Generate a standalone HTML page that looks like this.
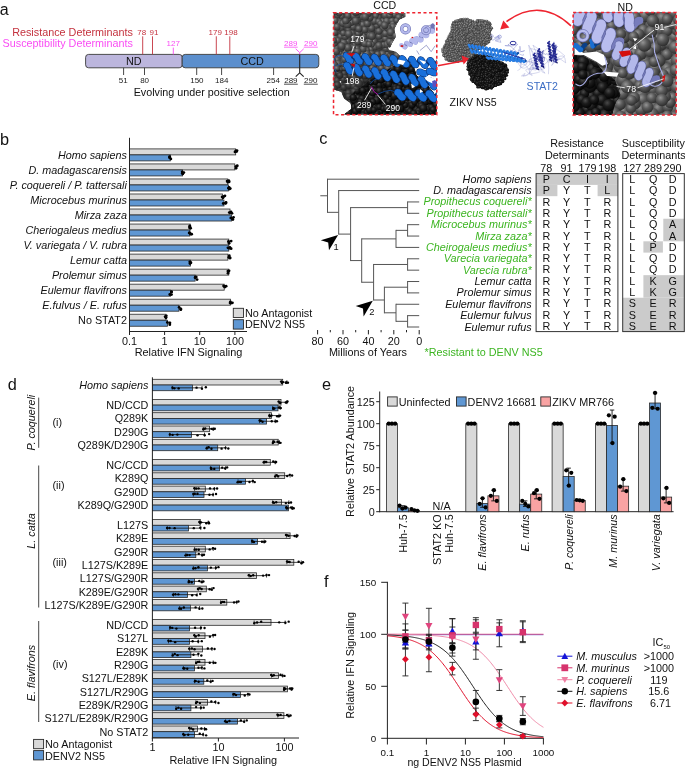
<!DOCTYPE html>
<html><head><meta charset="utf-8"><title>Figure</title>
<style>
html,body{margin:0;padding:0;background:#fff;}
body{width:685px;height:770px;overflow:hidden;font-family:"Liberation Sans",sans-serif;}
svg{display:block;font-family:"Liberation Sans",sans-serif;opacity:0.999;will-change:transform;}
</style></head><body>
<svg width="685" height="770" viewBox="0 0 685 770">
<rect x="0" y="0" width="685" height="770" fill="#ffffff"/>
<defs>
<radialGradient id="gs" cx="0.38" cy="0.32" r="0.75"><stop offset="0" stop-color="#888"/><stop offset="0.4" stop-color="#525252"/><stop offset="1" stop-color="#262626"/></radialGradient>
<radialGradient id="gs3" cx="0.38" cy="0.32" r="0.75"><stop offset="0" stop-color="#949494"/><stop offset="0.4" stop-color="#5c5c5c"/><stop offset="1" stop-color="#262626"/></radialGradient>
<radialGradient id="bs" cx="0.38" cy="0.32" r="0.75"><stop offset="0" stop-color="#4a4a4a"/><stop offset="0.4" stop-color="#1c1c1c"/><stop offset="1" stop-color="#000"/></radialGradient>
<radialGradient id="gs2" cx="0.38" cy="0.32" r="0.75"><stop offset="0" stop-color="#969696"/><stop offset="0.5" stop-color="#5c5c5c"/><stop offset="1" stop-color="#2e2e2e"/></radialGradient>
</defs>
<g transform="translate(330,8) scale(0.16059)">
<clipPath id="boxA"><rect x="22" y="30" width="643" height="635"/></clipPath>
<g clip-path="url(#boxA)">
<clipPath id="cp1"><polygon points="22,30 470,30 470,55 432,72 416,100 400,130 410,180 388,215 372,250 405,270 440,300 440,350 330,400 290,440 220,500 170,560 140,635 127,591 89,565 70,521 22,508"/></clipPath>
<g clip-path="url(#cp1)"><polygon points="22,30 470,30 470,55 432,72 416,100 400,130 410,180 388,215 372,250 405,270 440,300 440,350 330,400 290,440 220,500 170,560 140,635 127,591 89,565 70,521 22,508" fill="#3c3c3c"/>
<circle cx="244" cy="333" r="20" fill="url(#gs)"/>
<circle cx="145" cy="118" r="22" fill="url(#gs)"/>
<circle cx="64" cy="279" r="22" fill="url(#gs)"/>
<circle cx="348" cy="183" r="18" fill="url(#gs)"/>
<circle cx="275" cy="210" r="21" fill="url(#gs)"/>
<circle cx="355" cy="288" r="23" fill="url(#gs)"/>
<circle cx="52" cy="314" r="24" fill="url(#gs)"/>
<circle cx="117" cy="310" r="22" fill="url(#gs)"/>
<circle cx="152" cy="228" r="21" fill="url(#gs)"/>
<circle cx="374" cy="111" r="20" fill="url(#gs)"/>
<circle cx="256" cy="258" r="19" fill="url(#gs)"/>
<circle cx="85" cy="120" r="21" fill="url(#gs)"/>
<circle cx="24" cy="302" r="23" fill="url(#gs)"/>
<circle cx="45" cy="157" r="23" fill="url(#gs)"/>
<circle cx="203" cy="453" r="20" fill="url(#gs)"/>
<circle cx="21" cy="109" r="18" fill="url(#gs)"/>
<circle cx="123" cy="233" r="20" fill="url(#gs)"/>
<circle cx="260" cy="287" r="21" fill="url(#gs)"/>
<circle cx="67" cy="123" r="23" fill="url(#gs)"/>
<circle cx="179" cy="18" r="22" fill="url(#gs)"/>
<circle cx="133" cy="92" r="20" fill="url(#gs)"/>
<circle cx="291" cy="123" r="20" fill="url(#gs)"/>
<circle cx="145" cy="197" r="23" fill="url(#gs)"/>
<circle cx="211" cy="176" r="24" fill="url(#gs)"/>
<circle cx="248" cy="370" r="19" fill="url(#gs)"/>
<circle cx="303" cy="61" r="19" fill="url(#gs)"/>
<circle cx="338" cy="364" r="22" fill="url(#gs)"/>
<circle cx="289" cy="32" r="19" fill="url(#gs)"/>
<circle cx="70" cy="338" r="21" fill="url(#gs)"/>
<circle cx="16" cy="47" r="23" fill="url(#gs)"/>
<circle cx="364" cy="328" r="23" fill="url(#gs)"/>
<circle cx="188" cy="151" r="21" fill="url(#gs)"/>
<circle cx="330" cy="85" r="23" fill="url(#gs)"/>
<circle cx="396" cy="309" r="23" fill="url(#gs)"/>
<circle cx="63" cy="85" r="24" fill="url(#gs)"/>
<circle cx="328" cy="25" r="19" fill="url(#gs)"/>
<circle cx="281" cy="306" r="18" fill="url(#gs)"/>
<circle cx="281" cy="244" r="19" fill="url(#gs)"/>
<circle cx="360" cy="19" r="22" fill="url(#gs)"/>
<circle cx="72" cy="53" r="19" fill="url(#gs)"/>
<circle cx="18" cy="33" r="22" fill="url(#gs)"/>
<circle cx="72" cy="474" r="24" fill="url(#gs)"/>
<circle cx="147" cy="51" r="21" fill="url(#gs)"/>
<circle cx="349" cy="254" r="21" fill="url(#gs)"/>
<circle cx="228" cy="415" r="20" fill="url(#gs)"/>
<circle cx="208" cy="287" r="23" fill="url(#gs)"/>
<circle cx="302" cy="381" r="19" fill="url(#gs)"/>
<circle cx="320" cy="180" r="24" fill="url(#gs)"/>
<circle cx="58" cy="384" r="24" fill="url(#gs)"/>
<circle cx="402" cy="260" r="18" fill="url(#gs)"/>
<circle cx="230" cy="263" r="18" fill="url(#gs)"/>
<circle cx="318" cy="195" r="20" fill="url(#gs)"/>
<circle cx="387" cy="271" r="22" fill="url(#gs)"/>
<circle cx="181" cy="181" r="18" fill="url(#gs)"/>
<circle cx="129" cy="464" r="21" fill="url(#gs)"/>
<circle cx="248" cy="101" r="23" fill="url(#gs)"/>
<circle cx="161" cy="552" r="24" fill="url(#gs)"/>
<circle cx="247" cy="359" r="22" fill="url(#gs)"/>
<circle cx="235" cy="10" r="22" fill="url(#gs)"/>
<circle cx="309" cy="245" r="19" fill="url(#gs)"/>
<circle cx="92" cy="274" r="22" fill="url(#gs)"/>
<circle cx="31" cy="411" r="20" fill="url(#gs)"/>
<circle cx="144" cy="409" r="22" fill="url(#gs)"/>
<circle cx="203" cy="489" r="21" fill="url(#gs)"/>
<circle cx="345" cy="47" r="23" fill="url(#gs)"/>
<circle cx="147" cy="357" r="23" fill="url(#gs)"/>
<circle cx="97" cy="474" r="18" fill="url(#gs)"/>
<circle cx="48" cy="47" r="18" fill="url(#gs)"/>
<circle cx="91" cy="533" r="18" fill="url(#gs)"/>
<circle cx="184" cy="218" r="22" fill="url(#gs)"/>
<circle cx="129" cy="579" r="22" fill="url(#gs)"/>
<circle cx="168" cy="254" r="20" fill="url(#gs)"/>
<circle cx="14" cy="459" r="22" fill="url(#gs)"/>
<circle cx="9" cy="228" r="21" fill="url(#gs)"/>
<circle cx="422" cy="100" r="22" fill="url(#gs)"/>
<circle cx="85" cy="298" r="19" fill="url(#gs)"/>
<circle cx="147" cy="566" r="21" fill="url(#gs)"/>
<circle cx="114" cy="187" r="21" fill="url(#gs)"/>
<circle cx="223" cy="445" r="20" fill="url(#gs)"/>
<circle cx="46" cy="325" r="21" fill="url(#gs)"/>
<circle cx="291" cy="110" r="20" fill="url(#gs)"/>
<circle cx="99" cy="404" r="20" fill="url(#gs)"/>
<circle cx="313" cy="295" r="18" fill="url(#gs)"/>
<circle cx="435" cy="358" r="23" fill="url(#gs)"/>
<circle cx="403" cy="363" r="20" fill="url(#gs)"/>
<circle cx="319" cy="396" r="20" fill="url(#gs)"/>
<circle cx="88" cy="576" r="22" fill="url(#gs)"/>
<circle cx="114" cy="134" r="19" fill="url(#gs)"/>
<circle cx="370" cy="355" r="22" fill="url(#gs)"/>
<circle cx="201" cy="297" r="19" fill="url(#gs)"/>
<circle cx="52" cy="348" r="23" fill="url(#gs)"/>
<circle cx="74" cy="206" r="22" fill="url(#gs)"/>
<circle cx="285" cy="50" r="19" fill="url(#gs)"/>
<circle cx="413" cy="273" r="18" fill="url(#gs)"/>
<circle cx="233" cy="127" r="19" fill="url(#gs)"/>
<circle cx="167" cy="458" r="23" fill="url(#gs)"/>
<circle cx="354" cy="83" r="23" fill="url(#gs)"/>
<circle cx="277" cy="82" r="22" fill="url(#gs)"/>
<circle cx="275" cy="424" r="22" fill="url(#gs)"/>
<circle cx="445" cy="87" r="23" fill="url(#gs)"/>
<circle cx="235" cy="211" r="19" fill="url(#gs)"/>
<circle cx="345" cy="397" r="21" fill="url(#gs)"/>
<circle cx="27" cy="251" r="22" fill="url(#gs)"/>
<circle cx="175" cy="160" r="20" fill="url(#gs)"/>
<circle cx="453" cy="60" r="19" fill="url(#gs)"/>
<circle cx="249" cy="207" r="19" fill="url(#gs)"/>
<circle cx="379" cy="255" r="24" fill="url(#gs)"/>
<circle cx="386" cy="79" r="20" fill="url(#gs)"/>
<circle cx="214" cy="320" r="20" fill="url(#gs)"/>
<circle cx="303" cy="85" r="20" fill="url(#gs)"/>
<circle cx="102" cy="24" r="24" fill="url(#gs)"/>
<circle cx="57" cy="32" r="20" fill="url(#gs)"/>
<circle cx="286" cy="457" r="18" fill="url(#gs)"/>
<circle cx="10" cy="380" r="22" fill="url(#gs)"/>
<circle cx="110" cy="210" r="22" fill="url(#gs)"/>
<circle cx="215" cy="73" r="24" fill="url(#gs)"/>
<circle cx="239" cy="420" r="24" fill="url(#gs)"/>
<circle cx="327" cy="287" r="22" fill="url(#gs)"/>
<circle cx="334" cy="231" r="20" fill="url(#gs)"/>
<circle cx="460" cy="309" r="19" fill="url(#gs)"/>
<circle cx="261" cy="326" r="22" fill="url(#gs)"/>
<circle cx="392" cy="101" r="20" fill="url(#gs)"/>
<circle cx="122" cy="375" r="24" fill="url(#gs)"/>
<circle cx="245" cy="295" r="20" fill="url(#gs)"/>
<circle cx="152" cy="333" r="20" fill="url(#gs)"/>
<circle cx="108" cy="498" r="20" fill="url(#gs)"/>
<circle cx="192" cy="211" r="19" fill="url(#gs)"/>
<circle cx="439" cy="34" r="19" fill="url(#gs)"/>
<circle cx="258" cy="465" r="23" fill="url(#gs)"/>
<circle cx="139" cy="499" r="21" fill="url(#gs)"/>
<circle cx="367" cy="303" r="19" fill="url(#gs)"/>
<circle cx="241" cy="482" r="20" fill="url(#gs)"/>
<circle cx="393" cy="119" r="24" fill="url(#gs)"/>
<circle cx="90" cy="408" r="19" fill="url(#gs)"/>
<circle cx="278" cy="349" r="23" fill="url(#gs)"/>
<circle cx="92" cy="373" r="19" fill="url(#gs)"/>
<circle cx="312" cy="360" r="20" fill="url(#gs)"/>
<circle cx="230" cy="152" r="18" fill="url(#gs)"/>
<circle cx="230" cy="288" r="24" fill="url(#gs)"/>
<circle cx="262" cy="228" r="18" fill="url(#gs)"/>
<circle cx="202" cy="379" r="22" fill="url(#gs)"/>
<circle cx="276" cy="149" r="23" fill="url(#gs)"/>
<circle cx="231" cy="78" r="22" fill="url(#gs)"/>
<circle cx="345" cy="193" r="19" fill="url(#gs)"/>
<circle cx="56" cy="92" r="22" fill="url(#gs)"/>
<circle cx="187" cy="320" r="19" fill="url(#gs)"/>
<circle cx="172" cy="79" r="21" fill="url(#gs)"/>
<circle cx="204" cy="105" r="21" fill="url(#gs)"/>
<circle cx="295" cy="321" r="22" fill="url(#gs)"/>
<circle cx="86" cy="219" r="24" fill="url(#gs)"/>
<circle cx="217" cy="136" r="22" fill="url(#gs)"/>
<circle cx="139" cy="158" r="20" fill="url(#gs)"/>
<circle cx="56" cy="503" r="22" fill="url(#gs)"/>
<circle cx="185" cy="385" r="19" fill="url(#gs)"/>
<circle cx="409" cy="36" r="23" fill="url(#gs)"/>
<circle cx="208" cy="525" r="18" fill="url(#gs)"/>
<circle cx="262" cy="374" r="19" fill="url(#gs)"/>
<circle cx="30" cy="437" r="20" fill="url(#gs)"/>
<circle cx="199" cy="496" r="22" fill="url(#gs)"/>
<circle cx="174" cy="45" r="19" fill="url(#gs)"/>
<circle cx="88" cy="350" r="18" fill="url(#gs)"/>
<circle cx="235" cy="312" r="23" fill="url(#gs)"/>
<circle cx="314" cy="98" r="19" fill="url(#gs)"/>
<circle cx="5" cy="185" r="24" fill="url(#gs)"/>
<circle cx="403" cy="43" r="19" fill="url(#gs)"/>
<circle cx="167" cy="607" r="23" fill="url(#gs)"/>
<circle cx="141" cy="250" r="22" fill="url(#gs)"/>
<circle cx="233" cy="346" r="22" fill="url(#gs)"/>
<circle cx="469" cy="33" r="22" fill="url(#gs)"/>
<circle cx="331" cy="128" r="22" fill="url(#gs)"/>
<circle cx="33" cy="21" r="20" fill="url(#gs)"/>
<circle cx="206" cy="256" r="22" fill="url(#gs)"/>
<circle cx="391" cy="203" r="23" fill="url(#gs)"/>
<circle cx="297" cy="288" r="19" fill="url(#gs)"/>
<circle cx="161" cy="26" r="24" fill="url(#gs)"/>
<circle cx="191" cy="412" r="21" fill="url(#gs)"/>
<circle cx="215" cy="425" r="21" fill="url(#gs)"/>
<circle cx="171" cy="96" r="19" fill="url(#gs)"/>
<circle cx="148" cy="269" r="19" fill="url(#gs)"/>
<circle cx="260" cy="144" r="23" fill="url(#gs)"/>
<circle cx="182" cy="526" r="20" fill="url(#gs)"/>
<circle cx="259" cy="127" r="22" fill="url(#gs)"/>
<circle cx="102" cy="448" r="20" fill="url(#gs)"/>
<circle cx="233" cy="98" r="22" fill="url(#gs)"/>
<circle cx="346" cy="159" r="22" fill="url(#gs)"/>
<circle cx="158" cy="355" r="23" fill="url(#gs)"/>
<circle cx="135" cy="610" r="23" fill="url(#gs)"/>
<circle cx="218" cy="515" r="22" fill="url(#gs)"/>
<circle cx="248" cy="173" r="21" fill="url(#gs)"/>
<circle cx="86" cy="496" r="19" fill="url(#gs)"/>
<circle cx="14" cy="326" r="22" fill="url(#gs)"/>
<circle cx="358" cy="228" r="24" fill="url(#gs)"/>
<circle cx="180" cy="130" r="22" fill="url(#gs)"/>
<circle cx="80" cy="96" r="22" fill="url(#gs)"/>
<circle cx="118" cy="482" r="22" fill="url(#gs)"/>
<circle cx="31" cy="185" r="24" fill="url(#gs)"/>
<circle cx="135" cy="299" r="22" fill="url(#gs)"/>
<circle cx="255" cy="398" r="23" fill="url(#gs)"/>
<circle cx="127" cy="422" r="20" fill="url(#gs)"/>
<circle cx="31" cy="152" r="22" fill="url(#gs)"/>
<circle cx="44" cy="118" r="22" fill="url(#gs)"/>
<circle cx="8" cy="473" r="22" fill="url(#gs)"/>
<circle cx="419" cy="296" r="23" fill="url(#gs)"/>
<circle cx="391" cy="379" r="19" fill="url(#gs)"/>
<circle cx="476" cy="47" r="21" fill="url(#gs)"/>
<circle cx="82" cy="547" r="18" fill="url(#gs)"/>
<circle cx="42" cy="250" r="21" fill="url(#gs)"/>
<circle cx="374" cy="211" r="24" fill="url(#gs)"/>
<circle cx="378" cy="172" r="22" fill="url(#gs)"/>
<circle cx="306" cy="177" r="20" fill="url(#gs)"/>
<circle cx="418" cy="120" r="21" fill="url(#gs)"/>
<circle cx="109" cy="104" r="24" fill="url(#gs)"/>
<circle cx="216" cy="22" r="18" fill="url(#gs)"/>
<circle cx="429" cy="59" r="22" fill="url(#gs)"/>
<circle cx="39" cy="270" r="24" fill="url(#gs)"/>
<circle cx="217" cy="222" r="21" fill="url(#gs)"/>
<circle cx="116" cy="67" r="18" fill="url(#gs)"/>
<circle cx="415" cy="79" r="18" fill="url(#gs)"/>
<circle cx="261" cy="21" r="18" fill="url(#gs)"/>
<circle cx="29" cy="222" r="19" fill="url(#gs)"/>
<circle cx="152" cy="439" r="23" fill="url(#gs)"/>
<circle cx="125" cy="274" r="22" fill="url(#gs)"/>
<circle cx="150" cy="184" r="21" fill="url(#gs)"/>
<circle cx="361" cy="125" r="23" fill="url(#gs)"/>
<circle cx="45" cy="453" r="23" fill="url(#gs)"/>
<circle cx="168" cy="306" r="22" fill="url(#gs)"/>
<circle cx="244" cy="226" r="19" fill="url(#gs)"/>
<circle cx="320" cy="375" r="19" fill="url(#gs)"/>
<circle cx="440" cy="326" r="20" fill="url(#gs)"/>
<circle cx="7" cy="119" r="18" fill="url(#gs)"/>
<circle cx="116" cy="530" r="21" fill="url(#gs)"/>
<circle cx="66" cy="179" r="19" fill="url(#gs)"/>
<circle cx="361" cy="376" r="21" fill="url(#gs)"/>
<circle cx="144" cy="376" r="19" fill="url(#gs)"/>
<circle cx="111" cy="49" r="21" fill="url(#gs)"/>
<circle cx="173" cy="211" r="20" fill="url(#gs)"/>
<circle cx="95" cy="178" r="22" fill="url(#gs)"/>
<circle cx="94" cy="434" r="20" fill="url(#gs)"/>
<circle cx="83" cy="157" r="19" fill="url(#gs)"/>
<circle cx="131" cy="16" r="19" fill="url(#gs)"/>
<circle cx="372" cy="47" r="19" fill="url(#gs)"/>
<circle cx="160" cy="398" r="20" fill="url(#gs)"/>
<circle cx="149" cy="489" r="20" fill="url(#gs)"/>
<circle cx="46" cy="481" r="22" fill="url(#gs)"/>
<circle cx="341" cy="109" r="23" fill="url(#gs)"/>
<circle cx="181" cy="473" r="24" fill="url(#gs)"/>
<circle cx="34" cy="78" r="19" fill="url(#gs)"/>
<circle cx="82" cy="447" r="19" fill="url(#gs)"/>
<circle cx="28" cy="355" r="23" fill="url(#gs)"/>
<circle cx="162" cy="507" r="20" fill="url(#gs)"/>
<circle cx="115" cy="321" r="21" fill="url(#gs)"/>
<circle cx="161" cy="81" r="24" fill="url(#gs)"/>
<circle cx="377" cy="25" r="19" fill="url(#gs)"/>
<circle cx="25" cy="502" r="22" fill="url(#gs)"/>
<circle cx="248" cy="61" r="23" fill="url(#gs)"/>
<circle cx="391" cy="223" r="24" fill="url(#gs)"/>
<circle cx="49" cy="203" r="19" fill="url(#gs)"/>
<circle cx="177" cy="590" r="22" fill="url(#gs)"/>
<circle cx="305" cy="234" r="22" fill="url(#gs)"/>
<circle cx="391" cy="147" r="21" fill="url(#gs)"/>
<circle cx="236" cy="36" r="23" fill="url(#gs)"/>
<circle cx="70" cy="250" r="22" fill="url(#gs)"/>
<circle cx="92" cy="321" r="23" fill="url(#gs)"/>
<circle cx="112" cy="248" r="24" fill="url(#gs)"/>
<circle cx="204" cy="58" r="19" fill="url(#gs)"/>
<circle cx="98" cy="81" r="22" fill="url(#gs)"/>
<circle cx="117" cy="552" r="21" fill="url(#gs)"/>
<circle cx="422" cy="337" r="19" fill="url(#gs)"/>
<circle cx="70" cy="533" r="23" fill="url(#gs)"/>
<circle cx="293" cy="427" r="21" fill="url(#gs)"/>
<circle cx="379" cy="152" r="24" fill="url(#gs)"/>
<circle cx="322" cy="427" r="20" fill="url(#gs)"/>
<circle cx="52" cy="405" r="20" fill="url(#gs)"/>
<circle cx="62" cy="421" r="20" fill="url(#gs)"/>
<circle cx="172" cy="272" r="23" fill="url(#gs)"/>
<circle cx="2" cy="431" r="21" fill="url(#gs)"/>
<circle cx="160" cy="583" r="19" fill="url(#gs)"/>
<circle cx="188" cy="346" r="22" fill="url(#gs)"/>
<circle cx="261" cy="176" r="23" fill="url(#gs)"/>
<circle cx="185" cy="420" r="20" fill="url(#gs)"/>
<circle cx="117" cy="162" r="24" fill="url(#gs)"/>
<circle cx="150" cy="522" r="22" fill="url(#gs)"/>
<circle cx="424" cy="157" r="22" fill="url(#gs)"/>
<circle cx="72" cy="238" r="24" fill="url(#gs)"/>
<circle cx="345" cy="305" r="22" fill="url(#gs)"/>
<circle cx="43" cy="378" r="20" fill="url(#gs)"/>
<circle cx="23" cy="202" r="20" fill="url(#gs)"/>
<circle cx="219" cy="56" r="24" fill="url(#gs)"/>
<circle cx="328" cy="337" r="24" fill="url(#gs)"/>
<circle cx="381" cy="325" r="20" fill="url(#gs)"/>
<circle cx="410" cy="175" r="22" fill="url(#gs)"/>
<circle cx="109" cy="355" r="21" fill="url(#gs)"/>
<circle cx="273" cy="411" r="23" fill="url(#gs)"/>
<circle cx="305" cy="145" r="21" fill="url(#gs)"/>
</g>
<polygon points="22,385 330,385 300,440 140,640 22,520" fill="#000" opacity="0.28" clip-path="url(#cp1)"/>
<clipPath id="cp2"><polygon points="665,560 665,665 83,665 131,629 134,591 114,559 159,515 210,483 254,445 286,432 360,385 420,345 470,335 520,360 540,420 600,470 640,520"/></clipPath>
<g clip-path="url(#cp2)"><polygon points="665,560 665,665 83,665 131,629 134,591 114,559 159,515 210,483 254,445 286,432 360,385 420,345 470,335 520,360 540,420 600,470 640,520" fill="#080808"/>
<circle cx="175" cy="668" r="19" fill="url(#bs)"/>
<circle cx="321" cy="526" r="20" fill="url(#bs)"/>
<circle cx="546" cy="407" r="24" fill="url(#bs)"/>
<circle cx="455" cy="402" r="19" fill="url(#bs)"/>
<circle cx="162" cy="542" r="22" fill="url(#bs)"/>
<circle cx="334" cy="668" r="24" fill="url(#bs)"/>
<circle cx="556" cy="508" r="21" fill="url(#bs)"/>
<circle cx="416" cy="530" r="22" fill="url(#bs)"/>
<circle cx="336" cy="510" r="20" fill="url(#bs)"/>
<circle cx="515" cy="401" r="18" fill="url(#bs)"/>
<circle cx="480" cy="587" r="21" fill="url(#bs)"/>
<circle cx="610" cy="685" r="18" fill="url(#bs)"/>
<circle cx="593" cy="676" r="19" fill="url(#bs)"/>
<circle cx="610" cy="612" r="18" fill="url(#bs)"/>
<circle cx="338" cy="604" r="19" fill="url(#bs)"/>
<circle cx="563" cy="675" r="20" fill="url(#bs)"/>
<circle cx="276" cy="618" r="24" fill="url(#bs)"/>
<circle cx="441" cy="329" r="20" fill="url(#bs)"/>
<circle cx="568" cy="542" r="20" fill="url(#bs)"/>
<circle cx="430" cy="451" r="23" fill="url(#bs)"/>
<circle cx="480" cy="652" r="21" fill="url(#bs)"/>
<circle cx="382" cy="534" r="23" fill="url(#bs)"/>
<circle cx="290" cy="557" r="22" fill="url(#bs)"/>
<circle cx="158" cy="683" r="22" fill="url(#bs)"/>
<circle cx="149" cy="663" r="20" fill="url(#bs)"/>
<circle cx="224" cy="548" r="23" fill="url(#bs)"/>
<circle cx="542" cy="484" r="19" fill="url(#bs)"/>
<circle cx="538" cy="451" r="21" fill="url(#bs)"/>
<circle cx="396" cy="416" r="23" fill="url(#bs)"/>
<circle cx="480" cy="404" r="21" fill="url(#bs)"/>
<circle cx="494" cy="602" r="24" fill="url(#bs)"/>
<circle cx="485" cy="632" r="22" fill="url(#bs)"/>
<circle cx="120" cy="567" r="19" fill="url(#bs)"/>
<circle cx="314" cy="564" r="19" fill="url(#bs)"/>
<circle cx="208" cy="642" r="19" fill="url(#bs)"/>
<circle cx="411" cy="662" r="19" fill="url(#bs)"/>
<circle cx="530" cy="684" r="23" fill="url(#bs)"/>
<circle cx="131" cy="634" r="20" fill="url(#bs)"/>
<circle cx="629" cy="517" r="22" fill="url(#bs)"/>
<circle cx="461" cy="501" r="20" fill="url(#bs)"/>
<circle cx="260" cy="556" r="23" fill="url(#bs)"/>
<circle cx="365" cy="436" r="23" fill="url(#bs)"/>
<circle cx="389" cy="492" r="23" fill="url(#bs)"/>
<circle cx="466" cy="325" r="21" fill="url(#bs)"/>
<circle cx="205" cy="531" r="19" fill="url(#bs)"/>
<circle cx="246" cy="488" r="24" fill="url(#bs)"/>
<circle cx="424" cy="399" r="19" fill="url(#bs)"/>
<circle cx="237" cy="616" r="18" fill="url(#bs)"/>
<circle cx="468" cy="605" r="19" fill="url(#bs)"/>
<circle cx="311" cy="533" r="20" fill="url(#bs)"/>
<circle cx="182" cy="525" r="21" fill="url(#bs)"/>
<circle cx="345" cy="398" r="24" fill="url(#bs)"/>
<circle cx="437" cy="619" r="21" fill="url(#bs)"/>
<circle cx="592" cy="585" r="24" fill="url(#bs)"/>
<circle cx="352" cy="373" r="22" fill="url(#bs)"/>
<circle cx="503" cy="587" r="20" fill="url(#bs)"/>
<circle cx="516" cy="551" r="19" fill="url(#bs)"/>
<circle cx="644" cy="675" r="22" fill="url(#bs)"/>
<circle cx="541" cy="635" r="24" fill="url(#bs)"/>
<circle cx="660" cy="652" r="24" fill="url(#bs)"/>
<circle cx="675" cy="581" r="19" fill="url(#bs)"/>
<circle cx="470" cy="429" r="22" fill="url(#bs)"/>
<circle cx="374" cy="616" r="19" fill="url(#bs)"/>
<circle cx="297" cy="625" r="21" fill="url(#bs)"/>
<circle cx="510" cy="605" r="20" fill="url(#bs)"/>
<circle cx="621" cy="476" r="22" fill="url(#bs)"/>
<circle cx="116" cy="654" r="23" fill="url(#bs)"/>
<circle cx="375" cy="502" r="18" fill="url(#bs)"/>
<circle cx="237" cy="524" r="19" fill="url(#bs)"/>
<circle cx="327" cy="480" r="23" fill="url(#bs)"/>
<circle cx="537" cy="385" r="24" fill="url(#bs)"/>
<circle cx="151" cy="618" r="24" fill="url(#bs)"/>
<circle cx="466" cy="537" r="19" fill="url(#bs)"/>
<circle cx="223" cy="576" r="20" fill="url(#bs)"/>
<circle cx="275" cy="492" r="21" fill="url(#bs)"/>
<circle cx="176" cy="559" r="21" fill="url(#bs)"/>
<circle cx="308" cy="481" r="19" fill="url(#bs)"/>
<circle cx="531" cy="541" r="22" fill="url(#bs)"/>
<circle cx="454" cy="540" r="19" fill="url(#bs)"/>
<circle cx="310" cy="651" r="22" fill="url(#bs)"/>
<circle cx="674" cy="627" r="19" fill="url(#bs)"/>
<circle cx="509" cy="537" r="23" fill="url(#bs)"/>
<circle cx="407" cy="449" r="22" fill="url(#bs)"/>
<circle cx="401" cy="615" r="22" fill="url(#bs)"/>
<circle cx="431" cy="667" r="22" fill="url(#bs)"/>
<circle cx="657" cy="593" r="19" fill="url(#bs)"/>
<circle cx="382" cy="663" r="19" fill="url(#bs)"/>
<circle cx="527" cy="586" r="20" fill="url(#bs)"/>
<circle cx="493" cy="467" r="23" fill="url(#bs)"/>
<circle cx="437" cy="553" r="19" fill="url(#bs)"/>
<circle cx="246" cy="431" r="21" fill="url(#bs)"/>
<circle cx="567" cy="426" r="18" fill="url(#bs)"/>
<circle cx="411" cy="438" r="19" fill="url(#bs)"/>
<circle cx="307" cy="617" r="19" fill="url(#bs)"/>
<circle cx="498" cy="484" r="21" fill="url(#bs)"/>
<circle cx="569" cy="568" r="20" fill="url(#bs)"/>
<circle cx="454" cy="567" r="18" fill="url(#bs)"/>
<circle cx="338" cy="681" r="21" fill="url(#bs)"/>
<circle cx="453" cy="388" r="18" fill="url(#bs)"/>
<circle cx="440" cy="356" r="20" fill="url(#bs)"/>
<circle cx="336" cy="387" r="18" fill="url(#bs)"/>
<circle cx="207" cy="669" r="22" fill="url(#bs)"/>
<circle cx="557" cy="607" r="19" fill="url(#bs)"/>
<circle cx="297" cy="441" r="24" fill="url(#bs)"/>
<circle cx="527" cy="437" r="23" fill="url(#bs)"/>
<circle cx="618" cy="627" r="18" fill="url(#bs)"/>
<circle cx="379" cy="590" r="19" fill="url(#bs)"/>
<circle cx="525" cy="355" r="24" fill="url(#bs)"/>
<circle cx="661" cy="603" r="20" fill="url(#bs)"/>
<circle cx="566" cy="591" r="18" fill="url(#bs)"/>
<circle cx="636" cy="650" r="18" fill="url(#bs)"/>
<circle cx="631" cy="618" r="19" fill="url(#bs)"/>
<circle cx="595" cy="658" r="24" fill="url(#bs)"/>
<circle cx="260" cy="506" r="23" fill="url(#bs)"/>
<circle cx="222" cy="460" r="20" fill="url(#bs)"/>
<circle cx="407" cy="352" r="19" fill="url(#bs)"/>
<circle cx="549" cy="562" r="21" fill="url(#bs)"/>
<circle cx="624" cy="580" r="18" fill="url(#bs)"/>
<circle cx="598" cy="558" r="21" fill="url(#bs)"/>
<circle cx="152" cy="576" r="23" fill="url(#bs)"/>
<circle cx="368" cy="449" r="23" fill="url(#bs)"/>
<circle cx="472" cy="390" r="23" fill="url(#bs)"/>
<circle cx="388" cy="633" r="18" fill="url(#bs)"/>
<circle cx="191" cy="613" r="22" fill="url(#bs)"/>
<circle cx="259" cy="655" r="21" fill="url(#bs)"/>
<circle cx="500" cy="422" r="18" fill="url(#bs)"/>
<circle cx="134" cy="527" r="22" fill="url(#bs)"/>
<circle cx="494" cy="365" r="21" fill="url(#bs)"/>
<circle cx="334" cy="628" r="18" fill="url(#bs)"/>
<circle cx="280" cy="518" r="21" fill="url(#bs)"/>
<circle cx="633" cy="568" r="20" fill="url(#bs)"/>
<circle cx="574" cy="666" r="24" fill="url(#bs)"/>
<circle cx="373" cy="561" r="20" fill="url(#bs)"/>
<circle cx="448" cy="580" r="21" fill="url(#bs)"/>
<circle cx="281" cy="461" r="18" fill="url(#bs)"/>
<circle cx="642" cy="634" r="19" fill="url(#bs)"/>
<circle cx="475" cy="479" r="20" fill="url(#bs)"/>
<circle cx="437" cy="477" r="22" fill="url(#bs)"/>
<circle cx="292" cy="574" r="23" fill="url(#bs)"/>
<circle cx="346" cy="465" r="20" fill="url(#bs)"/>
<circle cx="498" cy="644" r="19" fill="url(#bs)"/>
<circle cx="389" cy="378" r="21" fill="url(#bs)"/>
<circle cx="419" cy="674" r="21" fill="url(#bs)"/>
<circle cx="597" cy="537" r="22" fill="url(#bs)"/>
<circle cx="408" cy="493" r="21" fill="url(#bs)"/>
<circle cx="120" cy="677" r="21" fill="url(#bs)"/>
<circle cx="267" cy="585" r="20" fill="url(#bs)"/>
<circle cx="224" cy="502" r="21" fill="url(#bs)"/>
<circle cx="250" cy="603" r="22" fill="url(#bs)"/>
<circle cx="424" cy="327" r="21" fill="url(#bs)"/>
<circle cx="641" cy="541" r="18" fill="url(#bs)"/>
<circle cx="200" cy="566" r="23" fill="url(#bs)"/>
<circle cx="400" cy="549" r="24" fill="url(#bs)"/>
<circle cx="275" cy="684" r="21" fill="url(#bs)"/>
<circle cx="232" cy="652" r="20" fill="url(#bs)"/>
<circle cx="159" cy="643" r="20" fill="url(#bs)"/>
<circle cx="526" cy="461" r="19" fill="url(#bs)"/>
<circle cx="170" cy="516" r="21" fill="url(#bs)"/>
<circle cx="581" cy="505" r="22" fill="url(#bs)"/>
<circle cx="617" cy="537" r="22" fill="url(#bs)"/>
<circle cx="408" cy="505" r="22" fill="url(#bs)"/>
<circle cx="204" cy="513" r="20" fill="url(#bs)"/>
<circle cx="331" cy="442" r="20" fill="url(#bs)"/>
<circle cx="317" cy="448" r="20" fill="url(#bs)"/>
<circle cx="317" cy="401" r="21" fill="url(#bs)"/>
<circle cx="437" cy="625" r="23" fill="url(#bs)"/>
<circle cx="145" cy="558" r="21" fill="url(#bs)"/>
<circle cx="570" cy="611" r="23" fill="url(#bs)"/>
<circle cx="246" cy="636" r="22" fill="url(#bs)"/>
<circle cx="659" cy="553" r="19" fill="url(#bs)"/>
<circle cx="457" cy="669" r="21" fill="url(#bs)"/>
<circle cx="353" cy="626" r="22" fill="url(#bs)"/>
<circle cx="422" cy="588" r="22" fill="url(#bs)"/>
<circle cx="461" cy="360" r="23" fill="url(#bs)"/>
<circle cx="425" cy="382" r="23" fill="url(#bs)"/>
<circle cx="553" cy="475" r="24" fill="url(#bs)"/>
<circle cx="522" cy="498" r="20" fill="url(#bs)"/>
<circle cx="120" cy="594" r="20" fill="url(#bs)"/>
<circle cx="397" cy="435" r="19" fill="url(#bs)"/>
<circle cx="450" cy="448" r="22" fill="url(#bs)"/>
<circle cx="292" cy="658" r="23" fill="url(#bs)"/>
<circle cx="308" cy="518" r="24" fill="url(#bs)"/>
<circle cx="597" cy="483" r="19" fill="url(#bs)"/>
<circle cx="553" cy="644" r="24" fill="url(#bs)"/>
<circle cx="447" cy="423" r="20" fill="url(#bs)"/>
<circle cx="548" cy="655" r="18" fill="url(#bs)"/>
<circle cx="485" cy="514" r="22" fill="url(#bs)"/>
<circle cx="482" cy="557" r="21" fill="url(#bs)"/>
<circle cx="581" cy="625" r="24" fill="url(#bs)"/>
<circle cx="366" cy="475" r="20" fill="url(#bs)"/>
<circle cx="273" cy="635" r="18" fill="url(#bs)"/>
<circle cx="219" cy="473" r="24" fill="url(#bs)"/>
<circle cx="265" cy="529" r="20" fill="url(#bs)"/>
<circle cx="522" cy="658" r="22" fill="url(#bs)"/>
<circle cx="339" cy="576" r="20" fill="url(#bs)"/>
<circle cx="418" cy="627" r="22" fill="url(#bs)"/>
<circle cx="597" cy="512" r="20" fill="url(#bs)"/>
<circle cx="428" cy="500" r="20" fill="url(#bs)"/>
<circle cx="254" cy="459" r="22" fill="url(#bs)"/>
<circle cx="191" cy="586" r="23" fill="url(#bs)"/>
<circle cx="236" cy="591" r="22" fill="url(#bs)"/>
<circle cx="378" cy="415" r="19" fill="url(#bs)"/>
<circle cx="509" cy="382" r="18" fill="url(#bs)"/>
<circle cx="171" cy="607" r="22" fill="url(#bs)"/>
<circle cx="363" cy="535" r="22" fill="url(#bs)"/>
<circle cx="348" cy="556" r="18" fill="url(#bs)"/>
<circle cx="263" cy="435" r="21" fill="url(#bs)"/>
<circle cx="365" cy="584" r="19" fill="url(#bs)"/>
<circle cx="178" cy="628" r="21" fill="url(#bs)"/>
<circle cx="576" cy="460" r="18" fill="url(#bs)"/>
</g>
<circle cx="470" cy="130" r="24" fill="none" stroke="#6f74b4" stroke-width="21"/><circle cx="470" cy="130" r="24" fill="none" stroke="#b4b9ec" stroke-width="14"/>
<polyline points="469,246 471,244 472,241 472,236 472,231 472,226 473,221 474,218 475,216" fill="none" stroke="#6f74b4" stroke-width="21.1" stroke-linecap="round" stroke-linejoin="round"/>
<polyline points="502,231 503,230 504,226 505,222 505,216 505,211 505,206 506,203 507,201" fill="none" stroke="#6f74b4" stroke-width="21.1" stroke-linecap="round" stroke-linejoin="round"/>
<polyline points="534,217 536,215 537,212 537,207 537,202 537,196 537,192 538,188 540,187" fill="none" stroke="#6f74b4" stroke-width="21.1" stroke-linecap="round" stroke-linejoin="round"/>
<polyline points="443,231 445,231 448,232 452,235 456,238 460,242 464,245 467,246 469,246" fill="none" stroke="#b4b9ec" stroke-width="24.9" stroke-linecap="round" stroke-linejoin="round"/>
<polyline points="475,216 478,216 481,217 484,220 488,224 492,227 496,230 499,231 502,231" fill="none" stroke="#b4b9ec" stroke-width="24.9" stroke-linecap="round" stroke-linejoin="round"/>
<polyline points="507,201 510,201 513,203 517,206 521,209 525,212 528,215 532,217 534,217" fill="none" stroke="#b4b9ec" stroke-width="24.9" stroke-linecap="round" stroke-linejoin="round"/>
<polyline points="566,199 568,196 568,192 568,187 567,182 566,176 566,171 566,167 568,164" fill="none" stroke="#6f74b4" stroke-width="26.9" stroke-linecap="round" stroke-linejoin="round"/>
<polyline points="602,171 604,169 604,165 604,160 603,154 602,148 602,143 602,139 604,137" fill="none" stroke="#6f74b4" stroke-width="26.9" stroke-linecap="round" stroke-linejoin="round"/>
<polyline points="638,144 640,142 640,138 640,133 639,127 638,121 638,116 638,112 640,110" fill="none" stroke="#6f74b4" stroke-width="26.9" stroke-linecap="round" stroke-linejoin="round"/>
<polyline points="532,192 535,191 539,191 544,193 549,195 554,197 559,199 563,200 566,199" fill="none" stroke="#b4b9ec" stroke-width="31.6" stroke-linecap="round" stroke-linejoin="round"/>
<polyline points="568,164 571,163 575,164 580,166 585,168 590,170 595,172 599,172 602,171" fill="none" stroke="#b4b9ec" stroke-width="31.6" stroke-linecap="round" stroke-linejoin="round"/>
<polyline points="604,137 607,136 611,136 616,138 621,140 626,143 631,145 635,145 638,144" fill="none" stroke="#b4b9ec" stroke-width="31.6" stroke-linecap="round" stroke-linejoin="round"/>
<circle cx="598" cy="138" r="22" fill="none" stroke="#6f74b4" stroke-width="18"/><circle cx="598" cy="138" r="22" fill="none" stroke="#b4b9ec" stroke-width="11"/>
<path d="M560 265 L600 232 L630 272 L655 235 M540 265 L555 290 M590 130 Q610 100 640 110" fill="none" stroke="#6f74b4" stroke-width="4"/>
<rect x="440" y="232" width="16" height="10" fill="#d01010"/><rect x="508" y="180" width="10" height="8" fill="#d01010"/>
<path d="M360 245 L430 262 L425 275 L370 262 Z" fill="#fff"/>
<path d="M95 305 Q40 280 28 320 Q20 370 40 400 M95 350 Q60 345 40 360 M250 472 Q270 440 300 440 Q340 420 380 380 M300 535 Q340 515 380 512 Q410 520 430 545" fill="none" stroke="#1560c8" stroke-width="4"/>
<path d="M258 490 Q268 525 300 540" fill="none" stroke="#b010b0" stroke-width="6"/>
<polyline points="128,331 132,330 136,326 139,321 144,315 148,308 151,303 155,300 159,298" fill="none" stroke="#073578" stroke-width="30.6" stroke-linecap="round" stroke-linejoin="round"/>
<polyline points="186,334 190,333 194,330 197,324 202,318 206,312 209,306 213,303 217,302" fill="none" stroke="#073578" stroke-width="30.6" stroke-linecap="round" stroke-linejoin="round"/>
<polyline points="244,337 248,336 252,333 255,328 260,321 264,315 267,310 271,306 275,305" fill="none" stroke="#073578" stroke-width="30.6" stroke-linecap="round" stroke-linejoin="round"/>
<polyline points="302,341 306,340 310,336 313,331 318,325 322,318 325,313 329,310 333,309" fill="none" stroke="#073578" stroke-width="30.6" stroke-linecap="round" stroke-linejoin="round"/>
<polyline points="360,344 364,343 368,340 371,334 376,328 380,322 383,317 387,313 391,312" fill="none" stroke="#073578" stroke-width="30.6" stroke-linecap="round" stroke-linejoin="round"/>
<polyline points="418,348 422,347 426,343 429,338 434,332 438,325 441,320 445,317 449,315" fill="none" stroke="#073578" stroke-width="30.6" stroke-linecap="round" stroke-linejoin="round"/>
<polyline points="476,351 480,350 484,347 487,341 492,335 496,329 499,323 503,320 507,319" fill="none" stroke="#073578" stroke-width="30.6" stroke-linecap="round" stroke-linejoin="round"/>
<polyline points="534,354 538,353 542,350 545,345 550,338 554,332 557,327 561,323 565,322" fill="none" stroke="#073578" stroke-width="30.6" stroke-linecap="round" stroke-linejoin="round"/>
<polyline points="592,358 596,357 600,353 603,348 608,342 612,335 615,330 619,327 623,326" fill="none" stroke="#073578" stroke-width="30.6" stroke-linecap="round" stroke-linejoin="round"/>
<polyline points="650,361 654,360 658,357 661,351 666,345 670,339 673,334 677,330 681,329" fill="none" stroke="#073578" stroke-width="30.6" stroke-linecap="round" stroke-linejoin="round"/>
<polyline points="101,295 105,297 108,300 111,306 114,313 118,320 121,325 124,329 128,331" fill="none" stroke="#062e6e" stroke-width="42.0" stroke-linecap="round" stroke-linejoin="round"/>
<polyline points="101,295 105,297 108,300 111,306 114,313 118,320 121,325 124,329 128,331" fill="none" stroke="#1a70da" stroke-width="36.0" stroke-linecap="round" stroke-linejoin="round"/>
<polyline points="159,298 163,300 166,304 169,310 172,316 176,323 179,329 182,333 186,334" fill="none" stroke="#062e6e" stroke-width="42.0" stroke-linecap="round" stroke-linejoin="round"/>
<polyline points="159,298 163,300 166,304 169,310 172,316 176,323 179,329 182,333 186,334" fill="none" stroke="#1a70da" stroke-width="36.0" stroke-linecap="round" stroke-linejoin="round"/>
<polyline points="217,302 221,303 224,307 227,313 230,320 234,326 237,332 240,336 244,337" fill="none" stroke="#062e6e" stroke-width="42.0" stroke-linecap="round" stroke-linejoin="round"/>
<polyline points="217,302 221,303 224,307 227,313 230,320 234,326 237,332 240,336 244,337" fill="none" stroke="#1a70da" stroke-width="36.0" stroke-linecap="round" stroke-linejoin="round"/>
<polyline points="275,305 279,307 282,311 285,316 288,323 292,330 295,335 298,339 302,341" fill="none" stroke="#062e6e" stroke-width="42.0" stroke-linecap="round" stroke-linejoin="round"/>
<polyline points="275,305 279,307 282,311 285,316 288,323 292,330 295,335 298,339 302,341" fill="none" stroke="#1a70da" stroke-width="36.0" stroke-linecap="round" stroke-linejoin="round"/>
<polyline points="333,309 337,310 340,314 343,320 346,326 350,333 353,339 356,343 360,344" fill="none" stroke="#062e6e" stroke-width="42.0" stroke-linecap="round" stroke-linejoin="round"/>
<polyline points="333,309 337,310 340,314 343,320 346,326 350,333 353,339 356,343 360,344" fill="none" stroke="#1a70da" stroke-width="36.0" stroke-linecap="round" stroke-linejoin="round"/>
<polyline points="391,312 395,314 398,317 401,323 404,330 408,337 411,342 414,346 418,348" fill="none" stroke="#062e6e" stroke-width="42.0" stroke-linecap="round" stroke-linejoin="round"/>
<polyline points="391,312 395,314 398,317 401,323 404,330 408,337 411,342 414,346 418,348" fill="none" stroke="#1a70da" stroke-width="36.0" stroke-linecap="round" stroke-linejoin="round"/>
<polyline points="449,315 453,317 456,321 459,327 462,333 466,340 469,346 472,350 476,351" fill="none" stroke="#062e6e" stroke-width="42.0" stroke-linecap="round" stroke-linejoin="round"/>
<polyline points="449,315 453,317 456,321 459,327 462,333 466,340 469,346 472,350 476,351" fill="none" stroke="#1a70da" stroke-width="36.0" stroke-linecap="round" stroke-linejoin="round"/>
<polyline points="507,319 511,320 514,324 517,330 520,337 524,343 527,349 530,353 534,354" fill="none" stroke="#062e6e" stroke-width="42.0" stroke-linecap="round" stroke-linejoin="round"/>
<polyline points="507,319 511,320 514,324 517,330 520,337 524,343 527,349 530,353 534,354" fill="none" stroke="#1a70da" stroke-width="36.0" stroke-linecap="round" stroke-linejoin="round"/>
<polyline points="565,322 569,324 572,328 575,333 578,340 582,347 585,352 588,356 592,358" fill="none" stroke="#062e6e" stroke-width="42.0" stroke-linecap="round" stroke-linejoin="round"/>
<polyline points="565,322 569,324 572,328 575,333 578,340 582,347 585,352 588,356 592,358" fill="none" stroke="#1a70da" stroke-width="36.0" stroke-linecap="round" stroke-linejoin="round"/>
<polyline points="623,326 627,327 630,331 633,337 636,343 640,350 643,356 646,360 650,361" fill="none" stroke="#062e6e" stroke-width="42.0" stroke-linecap="round" stroke-linejoin="round"/>
<polyline points="623,326 627,327 630,331 633,337 636,343 640,350 643,356 646,360 650,361" fill="none" stroke="#1a70da" stroke-width="36.0" stroke-linecap="round" stroke-linejoin="round"/>
<polyline points="126,394 130,393 134,390 139,386 144,380 148,374 153,370 157,367 161,366" fill="none" stroke="#073578" stroke-width="31.1" stroke-linecap="round" stroke-linejoin="round"/>
<polyline points="184,405 188,404 192,401 197,397 202,391 206,385 211,381 215,378 219,377" fill="none" stroke="#073578" stroke-width="31.1" stroke-linecap="round" stroke-linejoin="round"/>
<polyline points="242,415 246,415 250,412 255,407 260,402 264,396 269,391 273,389 277,388" fill="none" stroke="#073578" stroke-width="31.1" stroke-linecap="round" stroke-linejoin="round"/>
<polyline points="300,426 304,426 308,423 313,418 318,412 322,407 327,402 331,399 335,399" fill="none" stroke="#073578" stroke-width="31.1" stroke-linecap="round" stroke-linejoin="round"/>
<polyline points="358,437 362,436 366,434 371,429 376,423 380,418 385,413 389,410 393,410" fill="none" stroke="#073578" stroke-width="31.1" stroke-linecap="round" stroke-linejoin="round"/>
<polyline points="416,448 420,447 424,444 429,440 434,434 438,428 443,424 447,421 451,420" fill="none" stroke="#073578" stroke-width="31.1" stroke-linecap="round" stroke-linejoin="round"/>
<polyline points="474,459 478,458 482,455 487,451 492,445 496,439 501,435 505,432 509,431" fill="none" stroke="#073578" stroke-width="31.1" stroke-linecap="round" stroke-linejoin="round"/>
<polyline points="532,469 536,469 540,466 545,461 550,456 554,450 559,445 563,443 567,442" fill="none" stroke="#073578" stroke-width="31.1" stroke-linecap="round" stroke-linejoin="round"/>
<polyline points="590,480 594,480 598,477 603,472 608,467 612,461 617,456 621,453 625,453" fill="none" stroke="#073578" stroke-width="31.1" stroke-linecap="round" stroke-linejoin="round"/>
<polyline points="648,491 652,490 656,488 661,483 666,477 670,472 675,467 679,464 683,464" fill="none" stroke="#073578" stroke-width="31.1" stroke-linecap="round" stroke-linejoin="round"/>
<polyline points="103,356 106,357 109,362 112,368 114,375 117,382 120,388 123,392 126,394" fill="none" stroke="#062e6e" stroke-width="42.6" stroke-linecap="round" stroke-linejoin="round"/>
<polyline points="103,356 106,357 109,362 112,368 114,375 117,382 120,388 123,392 126,394" fill="none" stroke="#1a70da" stroke-width="36.6" stroke-linecap="round" stroke-linejoin="round"/>
<polyline points="161,366 164,368 167,373 170,379 172,386 175,392 178,398 181,403 184,405" fill="none" stroke="#062e6e" stroke-width="42.6" stroke-linecap="round" stroke-linejoin="round"/>
<polyline points="161,366 164,368 167,373 170,379 172,386 175,392 178,398 181,403 184,405" fill="none" stroke="#1a70da" stroke-width="36.6" stroke-linecap="round" stroke-linejoin="round"/>
<polyline points="219,377 222,379 225,383 228,389 230,396 233,403 236,409 239,414 242,415" fill="none" stroke="#062e6e" stroke-width="42.6" stroke-linecap="round" stroke-linejoin="round"/>
<polyline points="219,377 222,379 225,383 228,389 230,396 233,403 236,409 239,414 242,415" fill="none" stroke="#1a70da" stroke-width="36.6" stroke-linecap="round" stroke-linejoin="round"/>
<polyline points="277,388 280,390 283,394 286,400 288,407 291,414 294,420 297,424 300,426" fill="none" stroke="#062e6e" stroke-width="42.6" stroke-linecap="round" stroke-linejoin="round"/>
<polyline points="277,388 280,390 283,394 286,400 288,407 291,414 294,420 297,424 300,426" fill="none" stroke="#1a70da" stroke-width="36.6" stroke-linecap="round" stroke-linejoin="round"/>
<polyline points="335,399 338,401 341,405 344,411 346,418 349,425 352,431 355,435 358,437" fill="none" stroke="#062e6e" stroke-width="42.6" stroke-linecap="round" stroke-linejoin="round"/>
<polyline points="335,399 338,401 341,405 344,411 346,418 349,425 352,431 355,435 358,437" fill="none" stroke="#1a70da" stroke-width="36.6" stroke-linecap="round" stroke-linejoin="round"/>
<polyline points="393,410 396,411 399,416 402,422 405,429 407,436 410,442 413,446 416,448" fill="none" stroke="#062e6e" stroke-width="42.6" stroke-linecap="round" stroke-linejoin="round"/>
<polyline points="393,410 396,411 399,416 402,422 405,429 407,436 410,442 413,446 416,448" fill="none" stroke="#1a70da" stroke-width="36.6" stroke-linecap="round" stroke-linejoin="round"/>
<polyline points="451,420 454,422 457,427 460,433 462,439 465,446 468,452 471,457 474,459" fill="none" stroke="#062e6e" stroke-width="42.6" stroke-linecap="round" stroke-linejoin="round"/>
<polyline points="451,420 454,422 457,427 460,433 462,439 465,446 468,452 471,457 474,459" fill="none" stroke="#1a70da" stroke-width="36.6" stroke-linecap="round" stroke-linejoin="round"/>
<polyline points="509,431 512,433 515,437 518,443 520,450 523,457 526,463 529,468 532,469" fill="none" stroke="#062e6e" stroke-width="42.6" stroke-linecap="round" stroke-linejoin="round"/>
<polyline points="509,431 512,433 515,437 518,443 520,450 523,457 526,463 529,468 532,469" fill="none" stroke="#1a70da" stroke-width="36.6" stroke-linecap="round" stroke-linejoin="round"/>
<polyline points="567,442 570,444 573,448 576,454 578,461 581,468 584,474 587,478 590,480" fill="none" stroke="#062e6e" stroke-width="42.6" stroke-linecap="round" stroke-linejoin="round"/>
<polyline points="567,442 570,444 573,448 576,454 578,461 581,468 584,474 587,478 590,480" fill="none" stroke="#1a70da" stroke-width="36.6" stroke-linecap="round" stroke-linejoin="round"/>
<polyline points="625,453 628,455 631,459 634,465 636,472 639,479 642,485 645,489 648,491" fill="none" stroke="#062e6e" stroke-width="42.6" stroke-linecap="round" stroke-linejoin="round"/>
<polyline points="625,453 628,455 631,459 634,465 636,472 639,479 642,485 645,489 648,491" fill="none" stroke="#1a70da" stroke-width="36.6" stroke-linecap="round" stroke-linejoin="round"/>
<polyline points="452,556 456,555 460,552 464,547 469,542 473,536 477,532 481,529 486,528" fill="none" stroke="#073578" stroke-width="34.3" stroke-linecap="round" stroke-linejoin="round"/>
<polyline points="517,559 521,558 525,555 529,550 534,544 538,539 542,534 546,531 551,530" fill="none" stroke="#073578" stroke-width="34.3" stroke-linecap="round" stroke-linejoin="round"/>
<polyline points="582,561 586,560 590,557 594,552 599,547 603,541 607,537 611,534 616,533" fill="none" stroke="#073578" stroke-width="34.3" stroke-linecap="round" stroke-linejoin="round"/>
<polyline points="647,564 651,563 655,560 659,555 664,549 668,544 672,539 676,536 681,535" fill="none" stroke="#073578" stroke-width="34.3" stroke-linecap="round" stroke-linejoin="round"/>
<polyline points="421,525 425,526 429,530 432,535 436,541 440,546 444,551 448,555 452,556" fill="none" stroke="#062e6e" stroke-width="46.3" stroke-linecap="round" stroke-linejoin="round"/>
<polyline points="421,525 425,526 429,530 432,535 436,541 440,546 444,551 448,555 452,556" fill="none" stroke="#1a70da" stroke-width="40.3" stroke-linecap="round" stroke-linejoin="round"/>
<polyline points="486,528 490,529 494,532 497,537 501,543 505,549 509,554 513,557 517,559" fill="none" stroke="#062e6e" stroke-width="46.3" stroke-linecap="round" stroke-linejoin="round"/>
<polyline points="486,528 490,529 494,532 497,537 501,543 505,549 509,554 513,557 517,559" fill="none" stroke="#1a70da" stroke-width="40.3" stroke-linecap="round" stroke-linejoin="round"/>
<polyline points="551,530 555,531 559,535 562,540 566,546 570,551 574,556 578,560 582,561" fill="none" stroke="#062e6e" stroke-width="46.3" stroke-linecap="round" stroke-linejoin="round"/>
<polyline points="551,530 555,531 559,535 562,540 566,546 570,551 574,556 578,560 582,561" fill="none" stroke="#1a70da" stroke-width="40.3" stroke-linecap="round" stroke-linejoin="round"/>
<polyline points="616,533 620,534 624,537 627,542 631,548 635,554 639,559 643,562 647,564" fill="none" stroke="#062e6e" stroke-width="46.3" stroke-linecap="round" stroke-linejoin="round"/>
<polyline points="616,533 620,534 624,537 627,542 631,548 635,554 639,559 643,562 647,564" fill="none" stroke="#1a70da" stroke-width="40.3" stroke-linecap="round" stroke-linejoin="round"/>
<polyline points="591,409 594,408 598,406 601,404 605,401 609,399 612,396 616,394 619,394" fill="none" stroke="#073578" stroke-width="31.7" stroke-linecap="round" stroke-linejoin="round"/>
<polyline points="651,404 654,403 658,401 661,399 665,396 669,394 672,391 676,389 679,389" fill="none" stroke="#073578" stroke-width="31.7" stroke-linecap="round" stroke-linejoin="round"/>
<polyline points="559,399 563,399 567,400 571,402 575,404 579,406 583,408 587,409 591,409" fill="none" stroke="#062e6e" stroke-width="43.3" stroke-linecap="round" stroke-linejoin="round"/>
<polyline points="559,399 563,399 567,400 571,402 575,404 579,406 583,408 587,409 591,409" fill="none" stroke="#1a70da" stroke-width="37.3" stroke-linecap="round" stroke-linejoin="round"/>
<polyline points="619,394 623,394 627,395 631,397 635,399 639,401 643,403 647,404 651,404" fill="none" stroke="#062e6e" stroke-width="43.3" stroke-linecap="round" stroke-linejoin="round"/>
<polyline points="619,394 623,394 627,395 631,397 635,399 639,401 643,403 647,404 651,404" fill="none" stroke="#1a70da" stroke-width="37.3" stroke-linecap="round" stroke-linejoin="round"/>
<path d="M425 320 L470 330 L455 355 L420 345 Z M555 322 L600 335 L585 352 Z M600 420 L650 440 L640 470 L605 455 Z M560 505 L580 520 L560 530 Z M505 470 L530 490 L510 500 Z" fill="#fff"/>
<path d="M100 282 L160 282 L135 302 Z" fill="#d40f0f"/><path d="M125 345 L158 350 L150 372 Z" fill="#c00d0d"/>
<path d="M636 455 L665 450 L665 490 L640 495 Z" fill="#5a4fc0"/>
<line x1="150" y1="235" x2="135" y2="276" stroke="#fff" stroke-width="5.5"/>
<line x1="148" y1="375" x2="138" y2="425" stroke="#fff" stroke-width="5.5"/>
<line x1="258" y1="500" x2="215" y2="575" stroke="#fff" stroke-width="5.5"/>
<line x1="295" y1="540" x2="345" y2="600" stroke="#fff" stroke-width="5.5"/>
<text x="170" y="209" text-anchor="middle" font-size="53" fill="#fff">179</text>
<text x="138" y="476" text-anchor="middle" font-size="53" fill="#fff">198</text>
<text x="213" y="622" text-anchor="middle" font-size="53" fill="#fff">289</text>
<text x="392" y="639" text-anchor="middle" font-size="53" fill="#fff">290</text>
<circle cx="65" cy="460" r="5" fill="#fff"/>
</g>
<rect x="22" y="30" width="643" height="635" fill="none" stroke="#ee2530" stroke-width="9.5" stroke-dasharray="19 16"/>
</g>
<text x="384.8" y="8.8" text-anchor="middle" font-size="10.6" fill="#111">CCD</text>
<g transform="translate(440,10) scale(0.11696)">
<clipPath id="cp3"><polygon points="95,120 130,85 190,70 260,80 300,100 330,80 400,85 430,110 445,160 430,200 440,240 420,280 390,300 330,340 300,380 250,420 200,440 130,450 70,440 30,400 20,340 40,290 60,240 90,190 100,150"/></clipPath>
<g><polygon points="95,120 130,85 190,70 260,80 300,100 330,80 400,85 430,110 445,160 430,200 440,240 420,280 390,300 330,340 300,380 250,420 200,440 130,450 70,440 30,400 20,340 40,290 60,240 90,190 100,150" fill="#4a4a4a"/>
<circle cx="234" cy="316" r="12" fill="url(#gs2)"/>
<circle cx="120" cy="104" r="11" fill="url(#gs2)"/>
<circle cx="164" cy="379" r="12" fill="url(#gs2)"/>
<circle cx="160" cy="396" r="10" fill="url(#gs2)"/>
<circle cx="135" cy="200" r="11" fill="url(#gs2)"/>
<circle cx="154" cy="131" r="11" fill="url(#gs2)"/>
<circle cx="289" cy="109" r="11" fill="url(#gs2)"/>
<circle cx="144" cy="355" r="11" fill="url(#gs2)"/>
<circle cx="361" cy="177" r="10" fill="url(#gs2)"/>
<circle cx="383" cy="146" r="10" fill="url(#gs2)"/>
<circle cx="120" cy="319" r="10" fill="url(#gs2)"/>
<circle cx="158" cy="104" r="11" fill="url(#gs2)"/>
<circle cx="158" cy="410" r="10" fill="url(#gs2)"/>
<circle cx="367" cy="184" r="10" fill="url(#gs2)"/>
<circle cx="345" cy="221" r="11" fill="url(#gs2)"/>
<circle cx="113" cy="103" r="10" fill="url(#gs2)"/>
<circle cx="315" cy="183" r="10" fill="url(#gs2)"/>
<circle cx="361" cy="248" r="10" fill="url(#gs2)"/>
<circle cx="204" cy="158" r="11" fill="url(#gs2)"/>
<circle cx="322" cy="320" r="10" fill="url(#gs2)"/>
<circle cx="408" cy="262" r="12" fill="url(#gs2)"/>
<circle cx="429" cy="160" r="10" fill="url(#gs2)"/>
<circle cx="24" cy="333" r="13" fill="url(#gs2)"/>
<circle cx="418" cy="273" r="12" fill="url(#gs2)"/>
<circle cx="319" cy="213" r="11" fill="url(#gs2)"/>
<circle cx="348" cy="169" r="12" fill="url(#gs2)"/>
<circle cx="218" cy="176" r="10" fill="url(#gs2)"/>
<circle cx="251" cy="122" r="12" fill="url(#gs2)"/>
<circle cx="101" cy="146" r="11" fill="url(#gs2)"/>
<circle cx="25" cy="346" r="12" fill="url(#gs2)"/>
<circle cx="197" cy="410" r="12" fill="url(#gs2)"/>
<circle cx="202" cy="78" r="11" fill="url(#gs2)"/>
<circle cx="261" cy="164" r="10" fill="url(#gs2)"/>
<circle cx="247" cy="138" r="10" fill="url(#gs2)"/>
<circle cx="257" cy="193" r="10" fill="url(#gs2)"/>
<circle cx="363" cy="260" r="9" fill="url(#gs2)"/>
<circle cx="375" cy="151" r="12" fill="url(#gs2)"/>
<circle cx="187" cy="130" r="12" fill="url(#gs2)"/>
<circle cx="173" cy="298" r="10" fill="url(#gs2)"/>
<circle cx="39" cy="346" r="12" fill="url(#gs2)"/>
<circle cx="77" cy="331" r="12" fill="url(#gs2)"/>
<circle cx="224" cy="278" r="11" fill="url(#gs2)"/>
<circle cx="368" cy="160" r="9" fill="url(#gs2)"/>
<circle cx="276" cy="261" r="11" fill="url(#gs2)"/>
<circle cx="49" cy="343" r="10" fill="url(#gs2)"/>
<circle cx="159" cy="372" r="12" fill="url(#gs2)"/>
<circle cx="235" cy="261" r="10" fill="url(#gs2)"/>
<circle cx="253" cy="326" r="11" fill="url(#gs2)"/>
<circle cx="255" cy="359" r="11" fill="url(#gs2)"/>
<circle cx="304" cy="313" r="10" fill="url(#gs2)"/>
<circle cx="163" cy="350" r="10" fill="url(#gs2)"/>
<circle cx="262" cy="372" r="12" fill="url(#gs2)"/>
<circle cx="107" cy="411" r="11" fill="url(#gs2)"/>
<circle cx="264" cy="149" r="10" fill="url(#gs2)"/>
<circle cx="392" cy="290" r="12" fill="url(#gs2)"/>
<circle cx="250" cy="319" r="12" fill="url(#gs2)"/>
<circle cx="167" cy="342" r="12" fill="url(#gs2)"/>
<circle cx="187" cy="150" r="11" fill="url(#gs2)"/>
<circle cx="122" cy="343" r="11" fill="url(#gs2)"/>
<circle cx="56" cy="406" r="10" fill="url(#gs2)"/>
<circle cx="270" cy="299" r="10" fill="url(#gs2)"/>
<circle cx="181" cy="272" r="10" fill="url(#gs2)"/>
<circle cx="346" cy="108" r="12" fill="url(#gs2)"/>
<circle cx="135" cy="308" r="10" fill="url(#gs2)"/>
<circle cx="312" cy="246" r="12" fill="url(#gs2)"/>
<circle cx="121" cy="267" r="11" fill="url(#gs2)"/>
<circle cx="173" cy="181" r="10" fill="url(#gs2)"/>
<circle cx="170" cy="389" r="11" fill="url(#gs2)"/>
<circle cx="129" cy="286" r="11" fill="url(#gs2)"/>
<circle cx="72" cy="306" r="10" fill="url(#gs2)"/>
<circle cx="205" cy="265" r="10" fill="url(#gs2)"/>
<circle cx="167" cy="216" r="12" fill="url(#gs2)"/>
<circle cx="223" cy="409" r="11" fill="url(#gs2)"/>
<circle cx="99" cy="431" r="11" fill="url(#gs2)"/>
<circle cx="234" cy="373" r="12" fill="url(#gs2)"/>
<circle cx="300" cy="107" r="11" fill="url(#gs2)"/>
<circle cx="243" cy="338" r="9" fill="url(#gs2)"/>
<circle cx="244" cy="155" r="10" fill="url(#gs2)"/>
<circle cx="234" cy="423" r="12" fill="url(#gs2)"/>
<circle cx="279" cy="326" r="10" fill="url(#gs2)"/>
<circle cx="121" cy="202" r="12" fill="url(#gs2)"/>
<circle cx="121" cy="327" r="12" fill="url(#gs2)"/>
<circle cx="74" cy="223" r="9" fill="url(#gs2)"/>
<circle cx="120" cy="367" r="12" fill="url(#gs2)"/>
<circle cx="250" cy="190" r="10" fill="url(#gs2)"/>
<circle cx="415" cy="158" r="12" fill="url(#gs2)"/>
<circle cx="353" cy="181" r="10" fill="url(#gs2)"/>
<circle cx="145" cy="105" r="10" fill="url(#gs2)"/>
<circle cx="294" cy="249" r="10" fill="url(#gs2)"/>
<circle cx="237" cy="353" r="11" fill="url(#gs2)"/>
<circle cx="231" cy="287" r="11" fill="url(#gs2)"/>
<circle cx="198" cy="185" r="11" fill="url(#gs2)"/>
<circle cx="88" cy="299" r="10" fill="url(#gs2)"/>
<circle cx="387" cy="98" r="12" fill="url(#gs2)"/>
<circle cx="285" cy="238" r="11" fill="url(#gs2)"/>
<circle cx="317" cy="268" r="12" fill="url(#gs2)"/>
<circle cx="432" cy="172" r="11" fill="url(#gs2)"/>
<circle cx="68" cy="369" r="10" fill="url(#gs2)"/>
<circle cx="351" cy="319" r="12" fill="url(#gs2)"/>
<circle cx="195" cy="365" r="12" fill="url(#gs2)"/>
<circle cx="197" cy="194" r="11" fill="url(#gs2)"/>
<circle cx="256" cy="306" r="10" fill="url(#gs2)"/>
<circle cx="99" cy="181" r="10" fill="url(#gs2)"/>
<circle cx="434" cy="246" r="12" fill="url(#gs2)"/>
<circle cx="152" cy="418" r="11" fill="url(#gs2)"/>
<circle cx="131" cy="220" r="10" fill="url(#gs2)"/>
<circle cx="200" cy="391" r="11" fill="url(#gs2)"/>
<circle cx="272" cy="235" r="10" fill="url(#gs2)"/>
<circle cx="408" cy="210" r="10" fill="url(#gs2)"/>
<circle cx="377" cy="225" r="10" fill="url(#gs2)"/>
<circle cx="183" cy="188" r="12" fill="url(#gs2)"/>
<circle cx="221" cy="121" r="12" fill="url(#gs2)"/>
<circle cx="130" cy="248" r="11" fill="url(#gs2)"/>
<circle cx="390" cy="159" r="11" fill="url(#gs2)"/>
<circle cx="300" cy="226" r="12" fill="url(#gs2)"/>
<circle cx="273" cy="287" r="12" fill="url(#gs2)"/>
<circle cx="90" cy="199" r="11" fill="url(#gs2)"/>
<circle cx="371" cy="198" r="11" fill="url(#gs2)"/>
<circle cx="367" cy="136" r="12" fill="url(#gs2)"/>
<circle cx="234" cy="146" r="11" fill="url(#gs2)"/>
<circle cx="98" cy="238" r="11" fill="url(#gs2)"/>
<circle cx="341" cy="333" r="10" fill="url(#gs2)"/>
<circle cx="159" cy="121" r="11" fill="url(#gs2)"/>
<circle cx="69" cy="416" r="13" fill="url(#gs2)"/>
<circle cx="68" cy="275" r="11" fill="url(#gs2)"/>
<circle cx="280" cy="194" r="12" fill="url(#gs2)"/>
<circle cx="195" cy="171" r="12" fill="url(#gs2)"/>
<circle cx="86" cy="428" r="12" fill="url(#gs2)"/>
<circle cx="383" cy="288" r="9" fill="url(#gs2)"/>
<circle cx="271" cy="183" r="11" fill="url(#gs2)"/>
<circle cx="375" cy="181" r="11" fill="url(#gs2)"/>
<circle cx="399" cy="242" r="11" fill="url(#gs2)"/>
<circle cx="87" cy="407" r="10" fill="url(#gs2)"/>
<circle cx="234" cy="377" r="11" fill="url(#gs2)"/>
<circle cx="302" cy="157" r="11" fill="url(#gs2)"/>
<circle cx="75" cy="295" r="12" fill="url(#gs2)"/>
<circle cx="413" cy="135" r="11" fill="url(#gs2)"/>
<circle cx="105" cy="240" r="9" fill="url(#gs2)"/>
<circle cx="392" cy="177" r="11" fill="url(#gs2)"/>
<circle cx="84" cy="209" r="10" fill="url(#gs2)"/>
<circle cx="120" cy="255" r="12" fill="url(#gs2)"/>
<circle cx="332" cy="282" r="11" fill="url(#gs2)"/>
<circle cx="144" cy="264" r="10" fill="url(#gs2)"/>
<circle cx="204" cy="253" r="12" fill="url(#gs2)"/>
<circle cx="326" cy="169" r="12" fill="url(#gs2)"/>
<circle cx="245" cy="216" r="13" fill="url(#gs2)"/>
<circle cx="243" cy="420" r="12" fill="url(#gs2)"/>
<circle cx="73" cy="431" r="12" fill="url(#gs2)"/>
<circle cx="202" cy="342" r="12" fill="url(#gs2)"/>
<circle cx="286" cy="342" r="10" fill="url(#gs2)"/>
<circle cx="283" cy="300" r="11" fill="url(#gs2)"/>
<circle cx="362" cy="148" r="10" fill="url(#gs2)"/>
<circle cx="237" cy="303" r="12" fill="url(#gs2)"/>
<circle cx="397" cy="138" r="10" fill="url(#gs2)"/>
<circle cx="109" cy="371" r="10" fill="url(#gs2)"/>
<circle cx="115" cy="135" r="10" fill="url(#gs2)"/>
<circle cx="399" cy="171" r="10" fill="url(#gs2)"/>
<circle cx="167" cy="170" r="11" fill="url(#gs2)"/>
<circle cx="295" cy="308" r="11" fill="url(#gs2)"/>
<circle cx="234" cy="78" r="11" fill="url(#gs2)"/>
<circle cx="429" cy="149" r="12" fill="url(#gs2)"/>
<circle cx="260" cy="345" r="10" fill="url(#gs2)"/>
<circle cx="298" cy="354" r="10" fill="url(#gs2)"/>
<circle cx="106" cy="259" r="11" fill="url(#gs2)"/>
<circle cx="265" cy="182" r="12" fill="url(#gs2)"/>
<circle cx="40" cy="358" r="11" fill="url(#gs2)"/>
<circle cx="347" cy="254" r="12" fill="url(#gs2)"/>
<circle cx="194" cy="224" r="12" fill="url(#gs2)"/>
<circle cx="270" cy="203" r="12" fill="url(#gs2)"/>
<circle cx="168" cy="136" r="11" fill="url(#gs2)"/>
<circle cx="242" cy="83" r="10" fill="url(#gs2)"/>
<circle cx="254" cy="172" r="11" fill="url(#gs2)"/>
<circle cx="96" cy="370" r="10" fill="url(#gs2)"/>
<circle cx="270" cy="351" r="12" fill="url(#gs2)"/>
<circle cx="177" cy="411" r="11" fill="url(#gs2)"/>
<circle cx="387" cy="200" r="12" fill="url(#gs2)"/>
<circle cx="431" cy="121" r="10" fill="url(#gs2)"/>
<circle cx="291" cy="317" r="11" fill="url(#gs2)"/>
<circle cx="331" cy="206" r="11" fill="url(#gs2)"/>
<circle cx="55" cy="316" r="12" fill="url(#gs2)"/>
<circle cx="284" cy="277" r="12" fill="url(#gs2)"/>
<circle cx="168" cy="417" r="10" fill="url(#gs2)"/>
<circle cx="200" cy="425" r="11" fill="url(#gs2)"/>
<circle cx="60" cy="397" r="10" fill="url(#gs2)"/>
<circle cx="153" cy="267" r="11" fill="url(#gs2)"/>
<circle cx="171" cy="112" r="9" fill="url(#gs2)"/>
<circle cx="393" cy="249" r="11" fill="url(#gs2)"/>
<circle cx="75" cy="345" r="10" fill="url(#gs2)"/>
<circle cx="420" cy="133" r="10" fill="url(#gs2)"/>
<circle cx="419" cy="175" r="12" fill="url(#gs2)"/>
<circle cx="77" cy="312" r="9" fill="url(#gs2)"/>
<circle cx="67" cy="381" r="10" fill="url(#gs2)"/>
<circle cx="172" cy="265" r="10" fill="url(#gs2)"/>
<circle cx="136" cy="240" r="12" fill="url(#gs2)"/>
<circle cx="169" cy="238" r="10" fill="url(#gs2)"/>
<circle cx="172" cy="158" r="11" fill="url(#gs2)"/>
<circle cx="183" cy="242" r="11" fill="url(#gs2)"/>
<circle cx="145" cy="342" r="10" fill="url(#gs2)"/>
<circle cx="377" cy="234" r="13" fill="url(#gs2)"/>
<circle cx="103" cy="172" r="11" fill="url(#gs2)"/>
<circle cx="125" cy="209" r="11" fill="url(#gs2)"/>
<circle cx="189" cy="436" r="11" fill="url(#gs2)"/>
<circle cx="225" cy="97" r="11" fill="url(#gs2)"/>
<circle cx="148" cy="383" r="10" fill="url(#gs2)"/>
<circle cx="307" cy="178" r="12" fill="url(#gs2)"/>
<circle cx="210" cy="360" r="11" fill="url(#gs2)"/>
<circle cx="294" cy="187" r="10" fill="url(#gs2)"/>
<circle cx="218" cy="366" r="10" fill="url(#gs2)"/>
<circle cx="339" cy="262" r="12" fill="url(#gs2)"/>
<circle cx="294" cy="158" r="11" fill="url(#gs2)"/>
<circle cx="124" cy="395" r="12" fill="url(#gs2)"/>
<circle cx="420" cy="236" r="9" fill="url(#gs2)"/>
<circle cx="294" cy="266" r="10" fill="url(#gs2)"/>
<circle cx="359" cy="301" r="11" fill="url(#gs2)"/>
<circle cx="174" cy="255" r="12" fill="url(#gs2)"/>
<circle cx="425" cy="111" r="11" fill="url(#gs2)"/>
<circle cx="91" cy="263" r="10" fill="url(#gs2)"/>
<circle cx="76" cy="248" r="12" fill="url(#gs2)"/>
<circle cx="400" cy="94" r="11" fill="url(#gs2)"/>
<circle cx="443" cy="155" r="11" fill="url(#gs2)"/>
<circle cx="295" cy="376" r="13" fill="url(#gs2)"/>
<circle cx="215" cy="424" r="9" fill="url(#gs2)"/>
<circle cx="197" cy="250" r="13" fill="url(#gs2)"/>
<circle cx="233" cy="254" r="11" fill="url(#gs2)"/>
<circle cx="284" cy="254" r="12" fill="url(#gs2)"/>
<circle cx="315" cy="220" r="10" fill="url(#gs2)"/>
<circle cx="271" cy="344" r="10" fill="url(#gs2)"/>
<circle cx="156" cy="288" r="13" fill="url(#gs2)"/>
<circle cx="153" cy="302" r="11" fill="url(#gs2)"/>
<circle cx="216" cy="318" r="11" fill="url(#gs2)"/>
<circle cx="113" cy="436" r="12" fill="url(#gs2)"/>
<circle cx="38" cy="379" r="11" fill="url(#gs2)"/>
<circle cx="228" cy="112" r="12" fill="url(#gs2)"/>
<circle cx="205" cy="130" r="11" fill="url(#gs2)"/>
<circle cx="318" cy="162" r="9" fill="url(#gs2)"/>
<circle cx="383" cy="108" r="10" fill="url(#gs2)"/>
<circle cx="67" cy="238" r="9" fill="url(#gs2)"/>
<circle cx="219" cy="246" r="10" fill="url(#gs2)"/>
<circle cx="347" cy="195" r="11" fill="url(#gs2)"/>
<circle cx="264" cy="391" r="11" fill="url(#gs2)"/>
<circle cx="182" cy="366" r="13" fill="url(#gs2)"/>
<circle cx="46" cy="327" r="9" fill="url(#gs2)"/>
<circle cx="413" cy="122" r="10" fill="url(#gs2)"/>
<circle cx="295" cy="276" r="11" fill="url(#gs2)"/>
<circle cx="211" cy="167" r="11" fill="url(#gs2)"/>
<circle cx="403" cy="116" r="12" fill="url(#gs2)"/>
<circle cx="78" cy="422" r="12" fill="url(#gs2)"/>
<circle cx="165" cy="146" r="10" fill="url(#gs2)"/>
<circle cx="180" cy="313" r="11" fill="url(#gs2)"/>
<circle cx="202" cy="124" r="11" fill="url(#gs2)"/>
<circle cx="35" cy="313" r="10" fill="url(#gs2)"/>
<circle cx="210" cy="243" r="12" fill="url(#gs2)"/>
<circle cx="319" cy="337" r="12" fill="url(#gs2)"/>
<circle cx="382" cy="303" r="11" fill="url(#gs2)"/>
<circle cx="120" cy="174" r="11" fill="url(#gs2)"/>
<circle cx="289" cy="292" r="10" fill="url(#gs2)"/>
<circle cx="344" cy="142" r="12" fill="url(#gs2)"/>
<circle cx="123" cy="142" r="11" fill="url(#gs2)"/>
<circle cx="190" cy="338" r="10" fill="url(#gs2)"/>
<circle cx="83" cy="233" r="12" fill="url(#gs2)"/>
<circle cx="323" cy="238" r="10" fill="url(#gs2)"/>
<circle cx="220" cy="383" r="10" fill="url(#gs2)"/>
<circle cx="166" cy="202" r="10" fill="url(#gs2)"/>
<circle cx="103" cy="228" r="12" fill="url(#gs2)"/>
<circle cx="83" cy="265" r="11" fill="url(#gs2)"/>
<circle cx="313" cy="194" r="11" fill="url(#gs2)"/>
<circle cx="103" cy="377" r="11" fill="url(#gs2)"/>
<circle cx="136" cy="176" r="10" fill="url(#gs2)"/>
<circle cx="76" cy="399" r="10" fill="url(#gs2)"/>
<circle cx="142" cy="137" r="12" fill="url(#gs2)"/>
<circle cx="347" cy="209" r="10" fill="url(#gs2)"/>
<circle cx="146" cy="404" r="11" fill="url(#gs2)"/>
<circle cx="68" cy="350" r="13" fill="url(#gs2)"/>
<circle cx="197" cy="109" r="10" fill="url(#gs2)"/>
<circle cx="252" cy="225" r="10" fill="url(#gs2)"/>
<circle cx="387" cy="279" r="11" fill="url(#gs2)"/>
<circle cx="152" cy="442" r="11" fill="url(#gs2)"/>
<circle cx="137" cy="319" r="12" fill="url(#gs2)"/>
<circle cx="136" cy="393" r="11" fill="url(#gs2)"/>
<circle cx="380" cy="160" r="10" fill="url(#gs2)"/>
<circle cx="146" cy="230" r="11" fill="url(#gs2)"/>
<circle cx="30" cy="385" r="12" fill="url(#gs2)"/>
<circle cx="223" cy="222" r="9" fill="url(#gs2)"/>
<circle cx="144" cy="121" r="11" fill="url(#gs2)"/>
<circle cx="280" cy="109" r="11" fill="url(#gs2)"/>
<circle cx="285" cy="216" r="12" fill="url(#gs2)"/>
<circle cx="110" cy="214" r="12" fill="url(#gs2)"/>
<circle cx="142" cy="418" r="10" fill="url(#gs2)"/>
<circle cx="233" cy="164" r="10" fill="url(#gs2)"/>
<circle cx="100" cy="161" r="10" fill="url(#gs2)"/>
<circle cx="333" cy="123" r="12" fill="url(#gs2)"/>
<circle cx="300" cy="194" r="12" fill="url(#gs2)"/>
<circle cx="140" cy="290" r="12" fill="url(#gs2)"/>
<circle cx="237" cy="201" r="10" fill="url(#gs2)"/>
<circle cx="235" cy="229" r="10" fill="url(#gs2)"/>
<circle cx="329" cy="254" r="11" fill="url(#gs2)"/>
<circle cx="190" cy="330" r="11" fill="url(#gs2)"/>
<circle cx="211" cy="98" r="12" fill="url(#gs2)"/>
<circle cx="315" cy="130" r="10" fill="url(#gs2)"/>
<circle cx="35" cy="371" r="12" fill="url(#gs2)"/>
<circle cx="154" cy="158" r="11" fill="url(#gs2)"/>
<circle cx="251" cy="386" r="12" fill="url(#gs2)"/>
<circle cx="182" cy="432" r="11" fill="url(#gs2)"/>
<circle cx="126" cy="423" r="13" fill="url(#gs2)"/>
<circle cx="322" cy="90" r="11" fill="url(#gs2)"/>
<circle cx="246" cy="364" r="12" fill="url(#gs2)"/>
<circle cx="227" cy="340" r="10" fill="url(#gs2)"/>
<circle cx="203" cy="277" r="10" fill="url(#gs2)"/>
<circle cx="221" cy="358" r="9" fill="url(#gs2)"/>
<circle cx="240" cy="104" r="10" fill="url(#gs2)"/>
<circle cx="151" cy="217" r="10" fill="url(#gs2)"/>
<circle cx="198" cy="356" r="12" fill="url(#gs2)"/>
<circle cx="407" cy="203" r="12" fill="url(#gs2)"/>
<circle cx="158" cy="183" r="12" fill="url(#gs2)"/>
<circle cx="215" cy="112" r="10" fill="url(#gs2)"/>
<circle cx="264" cy="172" r="10" fill="url(#gs2)"/>
<circle cx="48" cy="364" r="12" fill="url(#gs2)"/>
<circle cx="186" cy="106" r="12" fill="url(#gs2)"/>
<circle cx="171" cy="316" r="10" fill="url(#gs2)"/>
<circle cx="182" cy="263" r="12" fill="url(#gs2)"/>
<circle cx="210" cy="264" r="11" fill="url(#gs2)"/>
<circle cx="309" cy="287" r="12" fill="url(#gs2)"/>
<circle cx="121" cy="406" r="12" fill="url(#gs2)"/>
<circle cx="189" cy="163" r="12" fill="url(#gs2)"/>
<circle cx="118" cy="379" r="10" fill="url(#gs2)"/>
<circle cx="396" cy="214" r="11" fill="url(#gs2)"/>
<circle cx="115" cy="117" r="10" fill="url(#gs2)"/>
<circle cx="277" cy="210" r="11" fill="url(#gs2)"/>
<circle cx="309" cy="358" r="11" fill="url(#gs2)"/>
<circle cx="330" cy="239" r="12" fill="url(#gs2)"/>
<circle cx="259" cy="213" r="12" fill="url(#gs2)"/>
<circle cx="227" cy="329" r="10" fill="url(#gs2)"/>
<circle cx="194" cy="92" r="10" fill="url(#gs2)"/>
<circle cx="61" cy="279" r="10" fill="url(#gs2)"/>
<circle cx="113" cy="425" r="10" fill="url(#gs2)"/>
<circle cx="403" cy="151" r="12" fill="url(#gs2)"/>
<circle cx="280" cy="228" r="12" fill="url(#gs2)"/>
<circle cx="187" cy="424" r="10" fill="url(#gs2)"/>
<circle cx="240" cy="259" r="12" fill="url(#gs2)"/>
<circle cx="91" cy="356" r="12" fill="url(#gs2)"/>
<circle cx="212" cy="289" r="11" fill="url(#gs2)"/>
<circle cx="278" cy="135" r="11" fill="url(#gs2)"/>
<circle cx="353" cy="132" r="10" fill="url(#gs2)"/>
<circle cx="395" cy="184" r="11" fill="url(#gs2)"/>
<circle cx="176" cy="150" r="10" fill="url(#gs2)"/>
<circle cx="204" cy="430" r="11" fill="url(#gs2)"/>
<circle cx="93" cy="418" r="12" fill="url(#gs2)"/>
<circle cx="23" cy="358" r="11" fill="url(#gs2)"/>
<circle cx="55" cy="385" r="10" fill="url(#gs2)"/>
<circle cx="309" cy="189" r="11" fill="url(#gs2)"/>
<circle cx="258" cy="111" r="12" fill="url(#gs2)"/>
<circle cx="315" cy="279" r="10" fill="url(#gs2)"/>
<circle cx="293" cy="329" r="12" fill="url(#gs2)"/>
<circle cx="99" cy="303" r="12" fill="url(#gs2)"/>
<circle cx="304" cy="242" r="10" fill="url(#gs2)"/>
<circle cx="117" cy="356" r="11" fill="url(#gs2)"/>
<circle cx="98" cy="328" r="11" fill="url(#gs2)"/>
<circle cx="217" cy="215" r="12" fill="url(#gs2)"/>
<circle cx="85" cy="250" r="12" fill="url(#gs2)"/>
<circle cx="415" cy="196" r="11" fill="url(#gs2)"/>
<circle cx="235" cy="175" r="11" fill="url(#gs2)"/>
<circle cx="302" cy="117" r="11" fill="url(#gs2)"/>
<circle cx="404" cy="277" r="12" fill="url(#gs2)"/>
<circle cx="212" cy="331" r="10" fill="url(#gs2)"/>
<circle cx="201" cy="316" r="11" fill="url(#gs2)"/>
<circle cx="213" cy="384" r="11" fill="url(#gs2)"/>
<circle cx="152" cy="275" r="11" fill="url(#gs2)"/>
<circle cx="238" cy="412" r="10" fill="url(#gs2)"/>
<circle cx="129" cy="326" r="10" fill="url(#gs2)"/>
<circle cx="64" cy="340" r="11" fill="url(#gs2)"/>
<circle cx="369" cy="169" r="10" fill="url(#gs2)"/>
<circle cx="381" cy="261" r="10" fill="url(#gs2)"/>
<circle cx="137" cy="181" r="9" fill="url(#gs2)"/>
<circle cx="285" cy="123" r="12" fill="url(#gs2)"/>
<circle cx="131" cy="94" r="11" fill="url(#gs2)"/>
<circle cx="194" cy="117" r="10" fill="url(#gs2)"/>
<circle cx="162" cy="434" r="12" fill="url(#gs2)"/>
<circle cx="308" cy="211" r="10" fill="url(#gs2)"/>
<circle cx="392" cy="110" r="10" fill="url(#gs2)"/>
<circle cx="382" cy="207" r="12" fill="url(#gs2)"/>
<circle cx="61" cy="325" r="10" fill="url(#gs2)"/>
<circle cx="153" cy="347" r="10" fill="url(#gs2)"/>
<circle cx="210" cy="302" r="10" fill="url(#gs2)"/>
<circle cx="203" cy="212" r="10" fill="url(#gs2)"/>
<circle cx="162" cy="334" r="12" fill="url(#gs2)"/>
<circle cx="134" cy="354" r="12" fill="url(#gs2)"/>
<circle cx="141" cy="365" r="10" fill="url(#gs2)"/>
<circle cx="68" cy="405" r="9" fill="url(#gs2)"/>
<circle cx="370" cy="285" r="10" fill="url(#gs2)"/>
<circle cx="275" cy="373" r="11" fill="url(#gs2)"/>
<circle cx="427" cy="207" r="12" fill="url(#gs2)"/>
<circle cx="112" cy="160" r="11" fill="url(#gs2)"/>
<circle cx="236" cy="95" r="12" fill="url(#gs2)"/>
<circle cx="344" cy="90" r="11" fill="url(#gs2)"/>
<circle cx="252" cy="247" r="11" fill="url(#gs2)"/>
<circle cx="364" cy="214" r="12" fill="url(#gs2)"/>
<circle cx="264" cy="247" r="11" fill="url(#gs2)"/>
<circle cx="115" cy="305" r="11" fill="url(#gs2)"/>
<circle cx="225" cy="207" r="12" fill="url(#gs2)"/>
<circle cx="61" cy="317" r="10" fill="url(#gs2)"/>
<circle cx="106" cy="288" r="11" fill="url(#gs2)"/>
<circle cx="118" cy="277" r="10" fill="url(#gs2)"/>
<circle cx="371" cy="302" r="12" fill="url(#gs2)"/>
<circle cx="53" cy="266" r="12" fill="url(#gs2)"/>
<circle cx="32" cy="391" r="10" fill="url(#gs2)"/>
<circle cx="257" cy="295" r="11" fill="url(#gs2)"/>
<circle cx="287" cy="356" r="11" fill="url(#gs2)"/>
<circle cx="243" cy="396" r="10" fill="url(#gs2)"/>
<circle cx="165" cy="250" r="10" fill="url(#gs2)"/>
<circle cx="355" cy="292" r="10" fill="url(#gs2)"/>
<circle cx="362" cy="107" r="11" fill="url(#gs2)"/>
<circle cx="126" cy="189" r="11" fill="url(#gs2)"/>
<circle cx="311" cy="333" r="11" fill="url(#gs2)"/>
<circle cx="330" cy="303" r="11" fill="url(#gs2)"/>
<circle cx="355" cy="200" r="10" fill="url(#gs2)"/>
<circle cx="91" cy="277" r="11" fill="url(#gs2)"/>
<circle cx="91" cy="226" r="13" fill="url(#gs2)"/>
<circle cx="96" cy="395" r="11" fill="url(#gs2)"/>
<circle cx="41" cy="303" r="10" fill="url(#gs2)"/>
<circle cx="148" cy="94" r="12" fill="url(#gs2)"/>
<circle cx="272" cy="162" r="10" fill="url(#gs2)"/>
<circle cx="184" cy="85" r="12" fill="url(#gs2)"/>
<circle cx="108" cy="391" r="12" fill="url(#gs2)"/>
<circle cx="97" cy="251" r="11" fill="url(#gs2)"/>
<circle cx="127" cy="130" r="11" fill="url(#gs2)"/>
<circle cx="159" cy="299" r="11" fill="url(#gs2)"/>
<circle cx="398" cy="260" r="12" fill="url(#gs2)"/>
<circle cx="128" cy="161" r="12" fill="url(#gs2)"/>
<circle cx="217" cy="78" r="12" fill="url(#gs2)"/>
<circle cx="362" cy="121" r="12" fill="url(#gs2)"/>
<circle cx="263" cy="91" r="13" fill="url(#gs2)"/>
<circle cx="148" cy="330" r="12" fill="url(#gs2)"/>
<circle cx="49" cy="392" r="12" fill="url(#gs2)"/>
<circle cx="415" cy="147" r="10" fill="url(#gs2)"/>
<circle cx="340" cy="106" r="10" fill="url(#gs2)"/>
<circle cx="268" cy="220" r="11" fill="url(#gs2)"/>
<circle cx="335" cy="290" r="11" fill="url(#gs2)"/>
<circle cx="334" cy="190" r="11" fill="url(#gs2)"/>
<circle cx="373" cy="95" r="10" fill="url(#gs2)"/>
<circle cx="341" cy="121" r="13" fill="url(#gs2)"/>
<circle cx="123" cy="224" r="12" fill="url(#gs2)"/>
<circle cx="217" cy="338" r="10" fill="url(#gs2)"/>
<circle cx="333" cy="315" r="11" fill="url(#gs2)"/>
<circle cx="283" cy="94" r="10" fill="url(#gs2)"/>
<circle cx="152" cy="316" r="12" fill="url(#gs2)"/>
<circle cx="235" cy="239" r="10" fill="url(#gs2)"/>
<circle cx="167" cy="371" r="9" fill="url(#gs2)"/>
<circle cx="167" cy="91" r="9" fill="url(#gs2)"/>
<circle cx="362" cy="93" r="12" fill="url(#gs2)"/>
<circle cx="153" cy="241" r="11" fill="url(#gs2)"/>
<circle cx="224" cy="308" r="11" fill="url(#gs2)"/>
<circle cx="325" cy="151" r="10" fill="url(#gs2)"/>
<circle cx="100" cy="217" r="12" fill="url(#gs2)"/>
<circle cx="405" cy="286" r="9" fill="url(#gs2)"/>
<circle cx="248" cy="151" r="10" fill="url(#gs2)"/>
<circle cx="237" cy="278" r="10" fill="url(#gs2)"/>
<circle cx="83" cy="365" r="12" fill="url(#gs2)"/>
<circle cx="278" cy="377" r="12" fill="url(#gs2)"/>
<circle cx="434" cy="229" r="13" fill="url(#gs2)"/>
<circle cx="125" cy="242" r="12" fill="url(#gs2)"/>
<circle cx="111" cy="338" r="12" fill="url(#gs2)"/>
<circle cx="316" cy="123" r="10" fill="url(#gs2)"/>
<circle cx="404" cy="222" r="10" fill="url(#gs2)"/>
<circle cx="414" cy="102" r="10" fill="url(#gs2)"/>
<circle cx="83" cy="382" r="11" fill="url(#gs2)"/>
<circle cx="268" cy="380" r="10" fill="url(#gs2)"/>
<circle cx="178" cy="333" r="10" fill="url(#gs2)"/>
<circle cx="145" cy="158" r="11" fill="url(#gs2)"/>
<circle cx="284" cy="168" r="10" fill="url(#gs2)"/>
<circle cx="91" cy="326" r="11" fill="url(#gs2)"/>
<circle cx="144" cy="168" r="10" fill="url(#gs2)"/>
<circle cx="336" cy="163" r="10" fill="url(#gs2)"/>
<circle cx="326" cy="194" r="12" fill="url(#gs2)"/>
<circle cx="206" cy="203" r="10" fill="url(#gs2)"/>
<circle cx="264" cy="260" r="9" fill="url(#gs2)"/>
<circle cx="367" cy="241" r="12" fill="url(#gs2)"/>
<circle cx="330" cy="228" r="13" fill="url(#gs2)"/>
<circle cx="378" cy="124" r="12" fill="url(#gs2)"/>
<circle cx="70" cy="286" r="12" fill="url(#gs2)"/>
<circle cx="262" cy="317" r="10" fill="url(#gs2)"/>
<circle cx="406" cy="256" r="12" fill="url(#gs2)"/>
<circle cx="200" cy="288" r="10" fill="url(#gs2)"/>
<circle cx="148" cy="429" r="10" fill="url(#gs2)"/>
<circle cx="177" cy="173" r="10" fill="url(#gs2)"/>
<circle cx="223" cy="195" r="12" fill="url(#gs2)"/>
<circle cx="241" cy="233" r="11" fill="url(#gs2)"/>
<circle cx="318" cy="90" r="13" fill="url(#gs2)"/>
<circle cx="101" cy="201" r="11" fill="url(#gs2)"/>
<circle cx="94" cy="291" r="11" fill="url(#gs2)"/>
<circle cx="258" cy="99" r="12" fill="url(#gs2)"/>
<circle cx="175" cy="89" r="12" fill="url(#gs2)"/>
<circle cx="129" cy="276" r="12" fill="url(#gs2)"/>
<circle cx="65" cy="263" r="10" fill="url(#gs2)"/>
<circle cx="148" cy="199" r="11" fill="url(#gs2)"/>
<circle cx="319" cy="289" r="11" fill="url(#gs2)"/>
<circle cx="212" cy="157" r="10" fill="url(#gs2)"/>
<circle cx="294" cy="173" r="11" fill="url(#gs2)"/>
<circle cx="329" cy="327" r="12" fill="url(#gs2)"/>
<circle cx="99" cy="321" r="11" fill="url(#gs2)"/>
<circle cx="211" cy="128" r="11" fill="url(#gs2)"/>
<circle cx="408" cy="180" r="12" fill="url(#gs2)"/>
<circle cx="55" cy="354" r="9" fill="url(#gs2)"/>
<circle cx="144" cy="146" r="11" fill="url(#gs2)"/>
<circle cx="348" cy="278" r="11" fill="url(#gs2)"/>
<circle cx="105" cy="318" r="12" fill="url(#gs2)"/>
<circle cx="104" cy="277" r="12" fill="url(#gs2)"/>
<circle cx="206" cy="230" r="10" fill="url(#gs2)"/>
<circle cx="180" cy="390" r="11" fill="url(#gs2)"/>
<circle cx="249" cy="407" r="10" fill="url(#gs2)"/>
<circle cx="129" cy="381" r="11" fill="url(#gs2)"/>
<circle cx="180" cy="200" r="11" fill="url(#gs2)"/>
<circle cx="215" cy="189" r="10" fill="url(#gs2)"/>
<circle cx="278" cy="148" r="11" fill="url(#gs2)"/>
<circle cx="128" cy="435" r="10" fill="url(#gs2)"/>
<circle cx="294" cy="132" r="10" fill="url(#gs2)"/>
<circle cx="175" cy="79" r="11" fill="url(#gs2)"/>
<circle cx="203" cy="236" r="10" fill="url(#gs2)"/>
<circle cx="245" cy="293" r="12" fill="url(#gs2)"/>
<circle cx="271" cy="394" r="13" fill="url(#gs2)"/>
<circle cx="392" cy="117" r="11" fill="url(#gs2)"/>
<circle cx="163" cy="276" r="10" fill="url(#gs2)"/>
<circle cx="128" cy="148" r="10" fill="url(#gs2)"/>
<circle cx="353" cy="272" r="11" fill="url(#gs2)"/>
<circle cx="52" cy="286" r="11" fill="url(#gs2)"/>
<circle cx="339" cy="305" r="12" fill="url(#gs2)"/>
<circle cx="210" cy="409" r="12" fill="url(#gs2)"/>
<circle cx="234" cy="394" r="10" fill="url(#gs2)"/>
<circle cx="345" cy="240" r="10" fill="url(#gs2)"/>
<circle cx="368" cy="254" r="11" fill="url(#gs2)"/>
<circle cx="180" cy="352" r="11" fill="url(#gs2)"/>
<circle cx="227" cy="136" r="11" fill="url(#gs2)"/>
<circle cx="302" cy="149" r="10" fill="url(#gs2)"/>
<circle cx="47" cy="409" r="9" fill="url(#gs2)"/>
<circle cx="175" cy="224" r="10" fill="url(#gs2)"/>
<circle cx="189" cy="215" r="12" fill="url(#gs2)"/>
<circle cx="405" cy="236" r="12" fill="url(#gs2)"/>
<circle cx="316" cy="308" r="11" fill="url(#gs2)"/>
<circle cx="320" cy="102" r="9" fill="url(#gs2)"/>
<circle cx="103" cy="357" r="10" fill="url(#gs2)"/>
<circle cx="193" cy="300" r="10" fill="url(#gs2)"/>
<circle cx="233" cy="190" r="11" fill="url(#gs2)"/>
<circle cx="351" cy="261" r="11" fill="url(#gs2)"/>
<circle cx="52" cy="421" r="12" fill="url(#gs2)"/>
<circle cx="308" cy="147" r="11" fill="url(#gs2)"/>
<circle cx="213" cy="396" r="10" fill="url(#gs2)"/>
<circle cx="171" cy="287" r="11" fill="url(#gs2)"/>
<circle cx="393" cy="223" r="10" fill="url(#gs2)"/>
<circle cx="375" cy="278" r="12" fill="url(#gs2)"/>
<circle cx="234" cy="119" r="12" fill="url(#gs2)"/>
<circle cx="145" cy="251" r="10" fill="url(#gs2)"/>
<circle cx="225" cy="142" r="12" fill="url(#gs2)"/>
<circle cx="174" cy="382" r="12" fill="url(#gs2)"/>
<circle cx="422" cy="255" r="10" fill="url(#gs2)"/>
<circle cx="267" cy="327" r="11" fill="url(#gs2)"/>
<circle cx="381" cy="134" r="12" fill="url(#gs2)"/>
<circle cx="190" cy="274" r="10" fill="url(#gs2)"/>
<circle cx="306" cy="262" r="12" fill="url(#gs2)"/>
<circle cx="308" cy="342" r="11" fill="url(#gs2)"/>
<circle cx="160" cy="227" r="10" fill="url(#gs2)"/>
<circle cx="263" cy="118" r="10" fill="url(#gs2)"/>
<circle cx="261" cy="242" r="10" fill="url(#gs2)"/>
<circle cx="271" cy="318" r="10" fill="url(#gs2)"/>
<circle cx="415" cy="226" r="10" fill="url(#gs2)"/>
<circle cx="196" cy="382" r="12" fill="url(#gs2)"/>
<circle cx="423" cy="185" r="11" fill="url(#gs2)"/>
<circle cx="289" cy="370" r="12" fill="url(#gs2)"/>
<circle cx="252" cy="279" r="10" fill="url(#gs2)"/>
<circle cx="306" cy="128" r="10" fill="url(#gs2)"/>
<circle cx="176" cy="120" r="9" fill="url(#gs2)"/>
<circle cx="94" cy="342" r="12" fill="url(#gs2)"/>
<circle cx="109" cy="184" r="10" fill="url(#gs2)"/>
<circle cx="240" cy="330" r="12" fill="url(#gs2)"/>
<circle cx="347" cy="155" r="10" fill="url(#gs2)"/>
<circle cx="256" cy="128" r="11" fill="url(#gs2)"/>
<circle cx="189" cy="285" r="11" fill="url(#gs2)"/>
<circle cx="270" cy="278" r="13" fill="url(#gs2)"/>
<circle cx="142" cy="210" r="11" fill="url(#gs2)"/>
<circle cx="135" cy="406" r="12" fill="url(#gs2)"/>
<circle cx="129" cy="122" r="10" fill="url(#gs2)"/>
<circle cx="335" cy="129" r="11" fill="url(#gs2)"/>
<circle cx="359" cy="226" r="10" fill="url(#gs2)"/>
<circle cx="204" cy="143" r="12" fill="url(#gs2)"/>
<circle cx="62" cy="303" r="10" fill="url(#gs2)"/>
</g>
<clipPath id="cp4"><polygon points="250,420 300,385 380,380 450,400 520,440 570,480 580,530 560,590 510,640 440,670 380,680 320,660 270,600 240,520 235,460"/></clipPath>
<g><polygon points="250,420 300,385 380,380 450,400 520,440 570,480 580,530 560,590 510,640 440,670 380,680 320,660 270,600 240,520 235,460" fill="#0a0a0a"/>
<circle cx="477" cy="559" r="15" fill="url(#bs)"/>
<circle cx="359" cy="466" r="14" fill="url(#bs)"/>
<circle cx="408" cy="457" r="12" fill="url(#bs)"/>
<circle cx="544" cy="556" r="12" fill="url(#bs)"/>
<circle cx="432" cy="463" r="12" fill="url(#bs)"/>
<circle cx="323" cy="660" r="12" fill="url(#bs)"/>
<circle cx="569" cy="557" r="13" fill="url(#bs)"/>
<circle cx="525" cy="475" r="14" fill="url(#bs)"/>
<circle cx="518" cy="458" r="11" fill="url(#bs)"/>
<circle cx="333" cy="508" r="14" fill="url(#bs)"/>
<circle cx="481" cy="456" r="14" fill="url(#bs)"/>
<circle cx="332" cy="644" r="13" fill="url(#bs)"/>
<circle cx="422" cy="476" r="14" fill="url(#bs)"/>
<circle cx="340" cy="569" r="13" fill="url(#bs)"/>
<circle cx="463" cy="545" r="12" fill="url(#bs)"/>
<circle cx="289" cy="599" r="14" fill="url(#bs)"/>
<circle cx="439" cy="437" r="12" fill="url(#bs)"/>
<circle cx="359" cy="626" r="14" fill="url(#bs)"/>
<circle cx="405" cy="406" r="14" fill="url(#bs)"/>
<circle cx="382" cy="490" r="15" fill="url(#bs)"/>
<circle cx="397" cy="394" r="12" fill="url(#bs)"/>
<circle cx="281" cy="478" r="12" fill="url(#bs)"/>
<circle cx="386" cy="601" r="14" fill="url(#bs)"/>
<circle cx="238" cy="484" r="12" fill="url(#bs)"/>
<circle cx="318" cy="572" r="12" fill="url(#bs)"/>
<circle cx="460" cy="471" r="14" fill="url(#bs)"/>
<circle cx="296" cy="494" r="14" fill="url(#bs)"/>
<circle cx="444" cy="528" r="14" fill="url(#bs)"/>
<circle cx="338" cy="486" r="12" fill="url(#bs)"/>
<circle cx="282" cy="612" r="13" fill="url(#bs)"/>
<circle cx="376" cy="611" r="14" fill="url(#bs)"/>
<circle cx="312" cy="445" r="11" fill="url(#bs)"/>
<circle cx="383" cy="666" r="12" fill="url(#bs)"/>
<circle cx="501" cy="576" r="13" fill="url(#bs)"/>
<circle cx="362" cy="666" r="12" fill="url(#bs)"/>
<circle cx="383" cy="529" r="12" fill="url(#bs)"/>
<circle cx="273" cy="436" r="14" fill="url(#bs)"/>
<circle cx="294" cy="586" r="12" fill="url(#bs)"/>
<circle cx="496" cy="459" r="13" fill="url(#bs)"/>
<circle cx="519" cy="631" r="13" fill="url(#bs)"/>
<circle cx="372" cy="545" r="11" fill="url(#bs)"/>
<circle cx="526" cy="513" r="14" fill="url(#bs)"/>
<circle cx="295" cy="449" r="14" fill="url(#bs)"/>
<circle cx="561" cy="545" r="13" fill="url(#bs)"/>
<circle cx="454" cy="411" r="12" fill="url(#bs)"/>
<circle cx="358" cy="549" r="14" fill="url(#bs)"/>
<circle cx="514" cy="513" r="14" fill="url(#bs)"/>
<circle cx="343" cy="562" r="14" fill="url(#bs)"/>
<circle cx="368" cy="401" r="13" fill="url(#bs)"/>
<circle cx="272" cy="507" r="13" fill="url(#bs)"/>
<circle cx="502" cy="528" r="12" fill="url(#bs)"/>
<circle cx="470" cy="508" r="14" fill="url(#bs)"/>
<circle cx="352" cy="592" r="12" fill="url(#bs)"/>
<circle cx="526" cy="537" r="12" fill="url(#bs)"/>
<circle cx="552" cy="529" r="13" fill="url(#bs)"/>
<circle cx="262" cy="421" r="13" fill="url(#bs)"/>
<circle cx="299" cy="473" r="11" fill="url(#bs)"/>
<circle cx="241" cy="458" r="14" fill="url(#bs)"/>
<circle cx="331" cy="534" r="12" fill="url(#bs)"/>
<circle cx="529" cy="568" r="12" fill="url(#bs)"/>
<circle cx="285" cy="453" r="13" fill="url(#bs)"/>
<circle cx="327" cy="437" r="15" fill="url(#bs)"/>
<circle cx="402" cy="519" r="12" fill="url(#bs)"/>
<circle cx="527" cy="559" r="11" fill="url(#bs)"/>
<circle cx="456" cy="500" r="14" fill="url(#bs)"/>
<circle cx="495" cy="528" r="13" fill="url(#bs)"/>
<circle cx="501" cy="515" r="15" fill="url(#bs)"/>
<circle cx="469" cy="597" r="15" fill="url(#bs)"/>
<circle cx="389" cy="516" r="12" fill="url(#bs)"/>
<circle cx="479" cy="633" r="11" fill="url(#bs)"/>
<circle cx="302" cy="568" r="14" fill="url(#bs)"/>
<circle cx="462" cy="623" r="14" fill="url(#bs)"/>
<circle cx="420" cy="409" r="13" fill="url(#bs)"/>
<circle cx="377" cy="592" r="13" fill="url(#bs)"/>
<circle cx="274" cy="541" r="14" fill="url(#bs)"/>
<circle cx="479" cy="450" r="11" fill="url(#bs)"/>
<circle cx="412" cy="641" r="14" fill="url(#bs)"/>
<circle cx="320" cy="643" r="12" fill="url(#bs)"/>
<circle cx="462" cy="590" r="15" fill="url(#bs)"/>
<circle cx="415" cy="541" r="13" fill="url(#bs)"/>
<circle cx="515" cy="549" r="13" fill="url(#bs)"/>
<circle cx="318" cy="520" r="12" fill="url(#bs)"/>
<circle cx="546" cy="568" r="13" fill="url(#bs)"/>
<circle cx="500" cy="438" r="11" fill="url(#bs)"/>
<circle cx="288" cy="506" r="14" fill="url(#bs)"/>
<circle cx="536" cy="501" r="11" fill="url(#bs)"/>
<circle cx="438" cy="401" r="11" fill="url(#bs)"/>
<circle cx="248" cy="472" r="15" fill="url(#bs)"/>
<circle cx="544" cy="474" r="14" fill="url(#bs)"/>
<circle cx="302" cy="601" r="14" fill="url(#bs)"/>
<circle cx="323" cy="550" r="14" fill="url(#bs)"/>
<circle cx="254" cy="432" r="12" fill="url(#bs)"/>
<circle cx="280" cy="462" r="14" fill="url(#bs)"/>
<circle cx="395" cy="530" r="15" fill="url(#bs)"/>
<circle cx="257" cy="549" r="14" fill="url(#bs)"/>
<circle cx="247" cy="444" r="15" fill="url(#bs)"/>
<circle cx="566" cy="521" r="12" fill="url(#bs)"/>
<circle cx="326" cy="406" r="12" fill="url(#bs)"/>
<circle cx="370" cy="604" r="13" fill="url(#bs)"/>
<circle cx="504" cy="493" r="12" fill="url(#bs)"/>
<circle cx="448" cy="568" r="12" fill="url(#bs)"/>
<circle cx="378" cy="415" r="13" fill="url(#bs)"/>
<circle cx="311" cy="550" r="13" fill="url(#bs)"/>
<circle cx="471" cy="619" r="11" fill="url(#bs)"/>
<circle cx="303" cy="433" r="13" fill="url(#bs)"/>
<circle cx="320" cy="562" r="12" fill="url(#bs)"/>
<circle cx="379" cy="387" r="14" fill="url(#bs)"/>
<circle cx="256" cy="513" r="13" fill="url(#bs)"/>
<circle cx="348" cy="420" r="12" fill="url(#bs)"/>
<circle cx="560" cy="504" r="15" fill="url(#bs)"/>
<circle cx="251" cy="504" r="11" fill="url(#bs)"/>
<circle cx="502" cy="542" r="15" fill="url(#bs)"/>
<circle cx="335" cy="598" r="15" fill="url(#bs)"/>
<circle cx="519" cy="599" r="13" fill="url(#bs)"/>
<circle cx="384" cy="437" r="12" fill="url(#bs)"/>
<circle cx="387" cy="630" r="14" fill="url(#bs)"/>
<circle cx="553" cy="556" r="15" fill="url(#bs)"/>
<circle cx="414" cy="535" r="12" fill="url(#bs)"/>
<circle cx="306" cy="487" r="15" fill="url(#bs)"/>
<circle cx="271" cy="559" r="14" fill="url(#bs)"/>
<circle cx="268" cy="590" r="14" fill="url(#bs)"/>
<circle cx="475" cy="532" r="14" fill="url(#bs)"/>
<circle cx="351" cy="517" r="12" fill="url(#bs)"/>
<circle cx="536" cy="611" r="15" fill="url(#bs)"/>
<circle cx="272" cy="600" r="12" fill="url(#bs)"/>
<circle cx="315" cy="619" r="12" fill="url(#bs)"/>
<circle cx="274" cy="516" r="13" fill="url(#bs)"/>
<circle cx="576" cy="514" r="15" fill="url(#bs)"/>
<circle cx="440" cy="521" r="14" fill="url(#bs)"/>
<circle cx="489" cy="475" r="13" fill="url(#bs)"/>
<circle cx="464" cy="428" r="12" fill="url(#bs)"/>
<circle cx="417" cy="460" r="11" fill="url(#bs)"/>
<circle cx="363" cy="643" r="15" fill="url(#bs)"/>
<circle cx="380" cy="474" r="14" fill="url(#bs)"/>
<circle cx="414" cy="560" r="12" fill="url(#bs)"/>
<circle cx="439" cy="629" r="12" fill="url(#bs)"/>
<circle cx="354" cy="598" r="12" fill="url(#bs)"/>
<circle cx="304" cy="623" r="14" fill="url(#bs)"/>
<circle cx="358" cy="656" r="14" fill="url(#bs)"/>
<circle cx="391" cy="415" r="13" fill="url(#bs)"/>
<circle cx="468" cy="518" r="14" fill="url(#bs)"/>
<circle cx="504" cy="453" r="13" fill="url(#bs)"/>
<circle cx="368" cy="462" r="15" fill="url(#bs)"/>
<circle cx="278" cy="526" r="12" fill="url(#bs)"/>
<circle cx="376" cy="514" r="13" fill="url(#bs)"/>
<circle cx="327" cy="488" r="13" fill="url(#bs)"/>
<circle cx="286" cy="573" r="14" fill="url(#bs)"/>
<circle cx="399" cy="450" r="12" fill="url(#bs)"/>
<circle cx="374" cy="451" r="14" fill="url(#bs)"/>
<circle cx="387" cy="652" r="12" fill="url(#bs)"/>
<circle cx="360" cy="451" r="14" fill="url(#bs)"/>
<circle cx="342" cy="446" r="13" fill="url(#bs)"/>
<circle cx="494" cy="445" r="11" fill="url(#bs)"/>
<circle cx="298" cy="555" r="13" fill="url(#bs)"/>
<circle cx="365" cy="502" r="12" fill="url(#bs)"/>
<circle cx="390" cy="615" r="15" fill="url(#bs)"/>
<circle cx="496" cy="637" r="12" fill="url(#bs)"/>
<circle cx="367" cy="390" r="15" fill="url(#bs)"/>
<circle cx="329" cy="424" r="13" fill="url(#bs)"/>
<circle cx="303" cy="388" r="14" fill="url(#bs)"/>
<circle cx="565" cy="491" r="12" fill="url(#bs)"/>
<circle cx="504" cy="474" r="12" fill="url(#bs)"/>
<circle cx="294" cy="465" r="14" fill="url(#bs)"/>
<circle cx="399" cy="498" r="13" fill="url(#bs)"/>
<circle cx="363" cy="531" r="14" fill="url(#bs)"/>
<circle cx="420" cy="627" r="14" fill="url(#bs)"/>
<circle cx="440" cy="610" r="12" fill="url(#bs)"/>
<circle cx="415" cy="598" r="12" fill="url(#bs)"/>
<circle cx="447" cy="507" r="15" fill="url(#bs)"/>
<circle cx="295" cy="434" r="14" fill="url(#bs)"/>
<circle cx="313" cy="507" r="11" fill="url(#bs)"/>
<circle cx="437" cy="660" r="12" fill="url(#bs)"/>
<circle cx="508" cy="615" r="14" fill="url(#bs)"/>
<circle cx="426" cy="535" r="14" fill="url(#bs)"/>
<circle cx="263" cy="527" r="11" fill="url(#bs)"/>
<circle cx="438" cy="586" r="13" fill="url(#bs)"/>
<circle cx="299" cy="612" r="12" fill="url(#bs)"/>
<circle cx="470" cy="576" r="12" fill="url(#bs)"/>
<circle cx="430" cy="567" r="13" fill="url(#bs)"/>
<circle cx="303" cy="462" r="13" fill="url(#bs)"/>
<circle cx="447" cy="456" r="14" fill="url(#bs)"/>
<circle cx="290" cy="520" r="12" fill="url(#bs)"/>
<circle cx="334" cy="389" r="14" fill="url(#bs)"/>
<circle cx="487" cy="550" r="12" fill="url(#bs)"/>
<circle cx="347" cy="394" r="14" fill="url(#bs)"/>
<circle cx="256" cy="536" r="14" fill="url(#bs)"/>
<circle cx="294" cy="502" r="12" fill="url(#bs)"/>
<circle cx="542" cy="494" r="11" fill="url(#bs)"/>
<circle cx="352" cy="436" r="12" fill="url(#bs)"/>
<circle cx="514" cy="484" r="12" fill="url(#bs)"/>
<circle cx="533" cy="544" r="14" fill="url(#bs)"/>
<circle cx="430" cy="449" r="14" fill="url(#bs)"/>
<circle cx="329" cy="619" r="11" fill="url(#bs)"/>
<circle cx="366" cy="480" r="12" fill="url(#bs)"/>
<circle cx="240" cy="507" r="14" fill="url(#bs)"/>
<circle cx="304" cy="422" r="14" fill="url(#bs)"/>
<circle cx="343" cy="529" r="13" fill="url(#bs)"/>
<circle cx="423" cy="494" r="13" fill="url(#bs)"/>
<circle cx="344" cy="462" r="12" fill="url(#bs)"/>
<circle cx="373" cy="657" r="13" fill="url(#bs)"/>
<circle cx="445" cy="554" r="13" fill="url(#bs)"/>
<circle cx="349" cy="638" r="13" fill="url(#bs)"/>
<circle cx="279" cy="588" r="12" fill="url(#bs)"/>
<circle cx="533" cy="600" r="11" fill="url(#bs)"/>
<circle cx="375" cy="434" r="13" fill="url(#bs)"/>
<circle cx="439" cy="420" r="13" fill="url(#bs)"/>
<circle cx="342" cy="438" r="12" fill="url(#bs)"/>
<circle cx="423" cy="577" r="12" fill="url(#bs)"/>
<circle cx="408" cy="472" r="12" fill="url(#bs)"/>
<circle cx="270" cy="452" r="15" fill="url(#bs)"/>
<circle cx="534" cy="589" r="12" fill="url(#bs)"/>
<circle cx="485" cy="569" r="15" fill="url(#bs)"/>
<circle cx="279" cy="577" r="11" fill="url(#bs)"/>
<circle cx="470" cy="486" r="11" fill="url(#bs)"/>
<circle cx="531" cy="492" r="11" fill="url(#bs)"/>
<circle cx="431" cy="555" r="14" fill="url(#bs)"/>
<circle cx="394" cy="675" r="14" fill="url(#bs)"/>
<circle cx="382" cy="640" r="12" fill="url(#bs)"/>
<circle cx="449" cy="521" r="14" fill="url(#bs)"/>
<circle cx="412" cy="417" r="12" fill="url(#bs)"/>
<circle cx="362" cy="585" r="15" fill="url(#bs)"/>
<circle cx="554" cy="587" r="14" fill="url(#bs)"/>
<circle cx="560" cy="472" r="14" fill="url(#bs)"/>
<circle cx="449" cy="544" r="12" fill="url(#bs)"/>
<circle cx="405" cy="629" r="12" fill="url(#bs)"/>
<circle cx="493" cy="586" r="12" fill="url(#bs)"/>
<circle cx="399" cy="548" r="11" fill="url(#bs)"/>
<circle cx="451" cy="486" r="14" fill="url(#bs)"/>
<circle cx="513" cy="567" r="12" fill="url(#bs)"/>
<circle cx="466" cy="461" r="14" fill="url(#bs)"/>
<circle cx="425" cy="642" r="15" fill="url(#bs)"/>
<circle cx="412" cy="582" r="15" fill="url(#bs)"/>
<circle cx="406" cy="505" r="14" fill="url(#bs)"/>
<circle cx="440" cy="667" r="14" fill="url(#bs)"/>
<circle cx="361" cy="425" r="13" fill="url(#bs)"/>
<circle cx="415" cy="446" r="14" fill="url(#bs)"/>
<circle cx="389" cy="569" r="12" fill="url(#bs)"/>
<circle cx="575" cy="532" r="14" fill="url(#bs)"/>
<circle cx="542" cy="529" r="11" fill="url(#bs)"/>
<circle cx="535" cy="456" r="13" fill="url(#bs)"/>
<circle cx="375" cy="562" r="11" fill="url(#bs)"/>
<circle cx="346" cy="475" r="12" fill="url(#bs)"/>
<circle cx="455" cy="645" r="15" fill="url(#bs)"/>
<circle cx="550" cy="466" r="11" fill="url(#bs)"/>
<circle cx="311" cy="477" r="13" fill="url(#bs)"/>
<circle cx="426" cy="592" r="14" fill="url(#bs)"/>
<circle cx="435" cy="605" r="14" fill="url(#bs)"/>
<circle cx="545" cy="548" r="13" fill="url(#bs)"/>
<circle cx="445" cy="443" r="12" fill="url(#bs)"/>
<circle cx="410" cy="668" r="15" fill="url(#bs)"/>
<circle cx="459" cy="450" r="11" fill="url(#bs)"/>
<circle cx="477" cy="646" r="13" fill="url(#bs)"/>
<circle cx="286" cy="554" r="11" fill="url(#bs)"/>
<circle cx="339" cy="404" r="12" fill="url(#bs)"/>
<circle cx="319" cy="423" r="14" fill="url(#bs)"/>
<circle cx="390" cy="587" r="15" fill="url(#bs)"/>
<circle cx="450" cy="436" r="13" fill="url(#bs)"/>
<circle cx="520" cy="590" r="15" fill="url(#bs)"/>
<circle cx="335" cy="542" r="12" fill="url(#bs)"/>
<circle cx="390" cy="549" r="13" fill="url(#bs)"/>
<circle cx="502" cy="499" r="13" fill="url(#bs)"/>
<circle cx="459" cy="528" r="13" fill="url(#bs)"/>
<circle cx="406" cy="661" r="13" fill="url(#bs)"/>
<circle cx="437" cy="544" r="12" fill="url(#bs)"/>
<circle cx="438" cy="484" r="13" fill="url(#bs)"/>
<circle cx="372" cy="574" r="13" fill="url(#bs)"/>
<circle cx="520" cy="617" r="14" fill="url(#bs)"/>
<circle cx="479" cy="584" r="12" fill="url(#bs)"/>
<circle cx="391" cy="464" r="14" fill="url(#bs)"/>
<circle cx="504" cy="634" r="14" fill="url(#bs)"/>
<circle cx="351" cy="495" r="11" fill="url(#bs)"/>
<circle cx="496" cy="501" r="12" fill="url(#bs)"/>
<circle cx="335" cy="659" r="12" fill="url(#bs)"/>
<circle cx="359" cy="554" r="12" fill="url(#bs)"/>
<circle cx="327" cy="463" r="14" fill="url(#bs)"/>
<circle cx="369" cy="626" r="15" fill="url(#bs)"/>
<circle cx="494" cy="599" r="14" fill="url(#bs)"/>
<circle cx="403" cy="439" r="13" fill="url(#bs)"/>
<circle cx="330" cy="582" r="12" fill="url(#bs)"/>
<circle cx="355" cy="571" r="12" fill="url(#bs)"/>
<circle cx="341" cy="518" r="11" fill="url(#bs)"/>
<circle cx="315" cy="535" r="11" fill="url(#bs)"/>
<circle cx="320" cy="389" r="12" fill="url(#bs)"/>
<circle cx="511" cy="586" r="14" fill="url(#bs)"/>
<circle cx="257" cy="462" r="14" fill="url(#bs)"/>
<circle cx="549" cy="517" r="11" fill="url(#bs)"/>
<circle cx="446" cy="600" r="12" fill="url(#bs)"/>
<circle cx="408" cy="598" r="15" fill="url(#bs)"/>
<circle cx="424" cy="617" r="11" fill="url(#bs)"/>
<circle cx="456" cy="555" r="14" fill="url(#bs)"/>
<circle cx="335" cy="559" r="12" fill="url(#bs)"/>
<circle cx="441" cy="472" r="14" fill="url(#bs)"/>
<circle cx="350" cy="406" r="11" fill="url(#bs)"/>
<circle cx="290" cy="539" r="13" fill="url(#bs)"/>
<circle cx="424" cy="431" r="13" fill="url(#bs)"/>
<circle cx="367" cy="493" r="14" fill="url(#bs)"/>
<circle cx="303" cy="403" r="14" fill="url(#bs)"/>
<circle cx="431" cy="506" r="15" fill="url(#bs)"/>
<circle cx="334" cy="480" r="14" fill="url(#bs)"/>
<circle cx="456" cy="416" r="15" fill="url(#bs)"/>
<circle cx="481" cy="428" r="13" fill="url(#bs)"/>
<circle cx="313" cy="583" r="13" fill="url(#bs)"/>
<circle cx="505" cy="562" r="13" fill="url(#bs)"/>
<circle cx="408" cy="614" r="12" fill="url(#bs)"/>
<circle cx="263" cy="492" r="13" fill="url(#bs)"/>
<circle cx="392" cy="406" r="11" fill="url(#bs)"/>
<circle cx="474" cy="421" r="14" fill="url(#bs)"/>
<circle cx="348" cy="616" r="15" fill="url(#bs)"/>
<circle cx="366" cy="615" r="12" fill="url(#bs)"/>
<circle cx="291" cy="403" r="14" fill="url(#bs)"/>
<circle cx="397" cy="476" r="15" fill="url(#bs)"/>
<circle cx="378" cy="498" r="12" fill="url(#bs)"/>
<circle cx="330" cy="451" r="13" fill="url(#bs)"/>
<circle cx="522" cy="504" r="15" fill="url(#bs)"/>
<circle cx="279" cy="488" r="13" fill="url(#bs)"/>
<circle cx="430" cy="423" r="12" fill="url(#bs)"/>
<circle cx="407" cy="485" r="11" fill="url(#bs)"/>
<circle cx="397" cy="648" r="13" fill="url(#bs)"/>
<circle cx="334" cy="631" r="14" fill="url(#bs)"/>
<circle cx="418" cy="519" r="11" fill="url(#bs)"/>
<circle cx="439" cy="642" r="12" fill="url(#bs)"/>
<circle cx="454" cy="624" r="12" fill="url(#bs)"/>
<circle cx="490" cy="562" r="13" fill="url(#bs)"/>
<circle cx="391" cy="564" r="12" fill="url(#bs)"/>
<circle cx="299" cy="533" r="14" fill="url(#bs)"/>
<circle cx="526" cy="452" r="13" fill="url(#bs)"/>
<circle cx="488" cy="491" r="12" fill="url(#bs)"/>
<circle cx="485" cy="519" r="15" fill="url(#bs)"/>
<circle cx="325" cy="596" r="14" fill="url(#bs)"/>
<circle cx="404" cy="571" r="12" fill="url(#bs)"/>
<circle cx="492" cy="616" r="14" fill="url(#bs)"/>
<circle cx="345" cy="502" r="15" fill="url(#bs)"/>
<circle cx="476" cy="473" r="12" fill="url(#bs)"/>
<circle cx="568" cy="508" r="13" fill="url(#bs)"/>
<circle cx="307" cy="517" r="12" fill="url(#bs)"/>
<circle cx="451" cy="655" r="15" fill="url(#bs)"/>
<circle cx="423" cy="654" r="13" fill="url(#bs)"/>
<circle cx="461" cy="611" r="12" fill="url(#bs)"/>
<circle cx="478" cy="604" r="13" fill="url(#bs)"/>
<circle cx="262" cy="471" r="11" fill="url(#bs)"/>
<circle cx="280" cy="415" r="12" fill="url(#bs)"/>
<circle cx="319" cy="627" r="13" fill="url(#bs)"/>
</g>
</g>
<g transform="translate(490,20) scale(0.12407)">
<path d="M320 419 Q347 451 338 448 Q225 374 371 404 Q364 318 295 339 Q307 392 222 335 Q265 447 343 326 Q348 322 319 320 Q220 439 254 334 Q377 440 266 454 Q306 408 253 451 Q331 455 363 348 Q278 327 243 310 Q268 396 221 408" fill="none" stroke="#7a7fc8" stroke-width="2.2"/>
<path d="M384 271 Q490 315 379 315 Q465 205 525 196 Q475 410 314 395 Q391 340 312 202 Q350 438 353 386 Q515 435 386 282 Q425 392 334 385 Q485 414 318 436 Q330 279 444 429 Q385 430 430 271 Q380 236 327 229 Q462 449 346 203 Q527 329 399 252 Q441 405 410 300 Q322 428 317 318 Q494 224 471 437" fill="none" stroke="#6a6fc0" stroke-width="2.2"/>
<path d="M551 329 Q467 244 474 343 Q497 249 610 345 Q606 249 528 315 Q527 210 515 175 Q510 377 604 290 Q530 221 464 205 Q575 348 508 329 Q574 307 556 322 Q508 309 495 257 Q573 306 497 367 Q554 279 452 271 Q490 301 524 336 Q554 331 506 295 Q568 339 506 342" fill="none" stroke="#6a6fc0" stroke-width="2.2"/>
<path d="M267 273 Q286 305 203 254 Q140 290 279 247 Q234 276 241 211 Q250 260 230 240 Q222 283 225 276 Q115 209 189 268 Q149 272 224 195 Q195 217 120 206 Q167 212 145 194 Q194 236 220 261" fill="none" stroke="#6b70c4" stroke-width="3"/>
<path d="M371 380 Q350 306 375 307 Q360 370 384 250 Q405 259 399 296 Q402 389 424 308 Q423 341 383 266 Q404 330 436 390 Q405 298 430 245 Q360 330 405 266 Q407 379 384 310 Q370 289 438 302 Q437 382 404 284 Q438 319 387 293 Q439 319 376 317 Q361 338 390 289" fill="none" stroke="#2a2f98" stroke-width="5"/>
<path d="M535 321 Q473 271 494 339 Q535 222 493 206 Q551 230 521 261 Q524 283 531 200 Q533 231 515 237 Q496 270 509 241 Q532 280 475 223 Q508 336 543 273 Q473 312 506 278 Q529 287 511 335 Q503 247 540 213 Q496 321 477 322 Q528 254 495 313 Q545 204 510 273" fill="none" stroke="#2a2f98" stroke-width="5"/>
<path d="M45 140 Q14 155 73 124 Q21 169 71 160 Q2 163 88 180 Q63 123 76 133 Q58 177 64 128 Q26 175 13 157" fill="none" stroke="#9a9fd8" stroke-width="5"/>
<circle cx="15" cy="130" r="11" fill="none" stroke="#8a8fd0" stroke-width="5"/><circle cx="78" cy="135" r="13" fill="none" stroke="#8a8fd0" stroke-width="6"/><ellipse cx="186" cy="186" rx="24" ry="14" fill="none" stroke="#2a2f9a" stroke-width="8"/>
<polyline points="351,282 352,284 354,285 356,285 359,286 361,287 364,288 365,289 366,290" fill="none" stroke="#15186a" stroke-width="11.3" stroke-linecap="round" stroke-linejoin="round"/>
<polyline points="356,304 357,305 359,306 361,307 364,308 366,309 369,310 370,311 371,312" fill="none" stroke="#15186a" stroke-width="11.3" stroke-linecap="round" stroke-linejoin="round"/>
<polyline points="361,326 362,327 364,328 366,329 369,330 371,330 374,331 375,332 376,334" fill="none" stroke="#15186a" stroke-width="11.3" stroke-linecap="round" stroke-linejoin="round"/>
<polyline points="366,347 367,349 369,350 371,350 374,351 376,352 379,353 380,354 381,355" fill="none" stroke="#15186a" stroke-width="11.3" stroke-linecap="round" stroke-linejoin="round"/>
<polyline points="371,369 372,370 374,371 376,372 379,373 381,374 384,375 385,376 386,377" fill="none" stroke="#15186a" stroke-width="11.3" stroke-linecap="round" stroke-linejoin="round"/>
<polyline points="376,391 377,392 379,393 381,394 384,395 386,395 389,396 390,397 391,399" fill="none" stroke="#15186a" stroke-width="11.3" stroke-linecap="round" stroke-linejoin="round"/>
<polyline points="361,269 361,270 360,272 358,274 356,275 354,277 353,279 351,281 351,282" fill="none" stroke="#2a2f98" stroke-width="13.3" stroke-linecap="round" stroke-linejoin="round"/>
<polyline points="366,290 366,292 365,293 363,295 361,297 359,299 358,301 356,302 356,304" fill="none" stroke="#2a2f98" stroke-width="13.3" stroke-linecap="round" stroke-linejoin="round"/>
<polyline points="371,312 371,313 370,315 368,317 366,319 364,321 363,322 361,324 361,326" fill="none" stroke="#2a2f98" stroke-width="13.3" stroke-linecap="round" stroke-linejoin="round"/>
<polyline points="376,334 376,335 375,337 373,339 371,340 369,342 368,344 366,346 366,347" fill="none" stroke="#2a2f98" stroke-width="13.3" stroke-linecap="round" stroke-linejoin="round"/>
<polyline points="381,355 381,357 380,358 378,360 376,362 374,364 373,366 371,367 371,369" fill="none" stroke="#2a2f98" stroke-width="13.3" stroke-linecap="round" stroke-linejoin="round"/>
<polyline points="386,377 386,378 385,380 383,382 381,384 379,386 378,387 376,389 376,391" fill="none" stroke="#2a2f98" stroke-width="13.3" stroke-linecap="round" stroke-linejoin="round"/>
<polyline points="389,248 390,250 392,251 394,252 396,253 399,254 401,255 402,257 403,258" fill="none" stroke="#15186a" stroke-width="12.6" stroke-linecap="round" stroke-linejoin="round"/>
<polyline points="395,272 396,274 397,275 399,276 402,277 404,278 406,279 408,281 408,282" fill="none" stroke="#15186a" stroke-width="12.6" stroke-linecap="round" stroke-linejoin="round"/>
<polyline points="400,297 401,298 403,299 405,300 407,301 410,302 412,304 413,305 414,306" fill="none" stroke="#15186a" stroke-width="12.6" stroke-linecap="round" stroke-linejoin="round"/>
<polyline points="406,321 407,322 408,323 410,325 413,326 415,327 417,328 419,329 419,330" fill="none" stroke="#15186a" stroke-width="12.6" stroke-linecap="round" stroke-linejoin="round"/>
<polyline points="411,345 412,346 414,348 416,349 418,350 421,351 423,352 424,353 425,355" fill="none" stroke="#15186a" stroke-width="12.6" stroke-linecap="round" stroke-linejoin="round"/>
<polyline points="417,369 418,371 419,372 421,373 424,374 426,375 428,376 430,377 430,379" fill="none" stroke="#15186a" stroke-width="12.6" stroke-linecap="round" stroke-linejoin="round"/>
<polyline points="397,234 397,235 397,237 395,239 393,241 392,243 390,245 389,247 389,248" fill="none" stroke="#2a2f98" stroke-width="14.9" stroke-linecap="round" stroke-linejoin="round"/>
<polyline points="403,258 403,260 402,261 401,263 399,265 397,267 396,269 395,271 395,272" fill="none" stroke="#2a2f98" stroke-width="14.9" stroke-linecap="round" stroke-linejoin="round"/>
<polyline points="408,282 408,284 408,285 406,287 404,289 403,291 401,293 400,295 400,297" fill="none" stroke="#2a2f98" stroke-width="14.9" stroke-linecap="round" stroke-linejoin="round"/>
<polyline points="414,306 414,308 413,310 412,312 410,314 408,316 407,317 406,319 406,321" fill="none" stroke="#2a2f98" stroke-width="14.9" stroke-linecap="round" stroke-linejoin="round"/>
<polyline points="419,330 419,332 419,334 417,336 415,338 414,340 412,342 411,343 411,345" fill="none" stroke="#2a2f98" stroke-width="14.9" stroke-linecap="round" stroke-linejoin="round"/>
<polyline points="425,355 425,356 424,358 423,360 421,362 419,364 418,366 417,368 417,369" fill="none" stroke="#2a2f98" stroke-width="14.9" stroke-linecap="round" stroke-linejoin="round"/>
<polyline points="467,187 468,188 469,189 472,191 474,192 477,193 479,194 480,195 481,196" fill="none" stroke="#15186a" stroke-width="11.4" stroke-linecap="round" stroke-linejoin="round"/>
<polyline points="470,209 471,210 472,212 474,213 477,214 480,215 482,216 483,217 484,218" fill="none" stroke="#15186a" stroke-width="11.4" stroke-linecap="round" stroke-linejoin="round"/>
<polyline points="473,231 474,232 475,234 477,235 480,236 482,237 485,238 486,239 487,241" fill="none" stroke="#15186a" stroke-width="11.4" stroke-linecap="round" stroke-linejoin="round"/>
<polyline points="476,253 476,255 478,256 480,257 483,258 485,259 487,260 489,261 490,263" fill="none" stroke="#15186a" stroke-width="11.4" stroke-linecap="round" stroke-linejoin="round"/>
<polyline points="479,275 479,277 481,278 483,279 486,280 488,281 490,282 492,284 493,285" fill="none" stroke="#15186a" stroke-width="11.4" stroke-linecap="round" stroke-linejoin="round"/>
<polyline points="481,298 482,299 484,300 486,301 488,302 491,303 493,305 495,306 495,307" fill="none" stroke="#15186a" stroke-width="11.4" stroke-linecap="round" stroke-linejoin="round"/>
<polyline points="484,320 485,321 487,322 489,323 491,324 494,326 496,327 498,328 498,329" fill="none" stroke="#15186a" stroke-width="11.4" stroke-linecap="round" stroke-linejoin="round"/>
<polyline points="478,174 478,176 477,177 475,179 473,181 471,182 469,184 467,185 467,187" fill="none" stroke="#2a2f98" stroke-width="13.4" stroke-linecap="round" stroke-linejoin="round"/>
<polyline points="481,196 481,198 480,199 478,201 476,203 473,204 472,206 470,208 470,209" fill="none" stroke="#2a2f98" stroke-width="13.4" stroke-linecap="round" stroke-linejoin="round"/>
<polyline points="484,218 484,220 482,221 481,223 478,225 476,227 474,228 473,230 473,231" fill="none" stroke="#2a2f98" stroke-width="13.4" stroke-linecap="round" stroke-linejoin="round"/>
<polyline points="487,241 487,242 485,244 483,245 481,247 479,249 477,250 476,252 476,253" fill="none" stroke="#2a2f98" stroke-width="13.4" stroke-linecap="round" stroke-linejoin="round"/>
<polyline points="490,263 489,264 488,266 486,267 484,269 482,271 480,272 479,274 479,275" fill="none" stroke="#2a2f98" stroke-width="13.4" stroke-linecap="round" stroke-linejoin="round"/>
<polyline points="493,285 492,286 491,288 489,290 487,291 485,293 483,295 482,296 481,298" fill="none" stroke="#2a2f98" stroke-width="13.4" stroke-linecap="round" stroke-linejoin="round"/>
<polyline points="495,307 495,308 494,310 492,312 490,313 488,315 486,317 485,318 484,320" fill="none" stroke="#2a2f98" stroke-width="13.4" stroke-linecap="round" stroke-linejoin="round"/>
<polyline points="504,202 504,203 506,205 508,206 511,207 513,208 516,209 517,210 518,211" fill="none" stroke="#15186a" stroke-width="11.5" stroke-linecap="round" stroke-linejoin="round"/>
<polyline points="508,224 508,226 510,227 512,228 515,229 517,230 520,231 521,232 522,233" fill="none" stroke="#15186a" stroke-width="11.5" stroke-linecap="round" stroke-linejoin="round"/>
<polyline points="511,246 512,248 514,249 516,250 519,251 521,252 523,253 525,254 526,255" fill="none" stroke="#15186a" stroke-width="11.5" stroke-linecap="round" stroke-linejoin="round"/>
<polyline points="515,269 516,270 518,271 520,272 522,273 525,274 527,275 529,276 530,277" fill="none" stroke="#15186a" stroke-width="11.5" stroke-linecap="round" stroke-linejoin="round"/>
<polyline points="519,291 520,292 521,293 524,294 526,295 529,296 531,297 533,298 533,300" fill="none" stroke="#15186a" stroke-width="11.5" stroke-linecap="round" stroke-linejoin="round"/>
<polyline points="523,313 524,314 525,315 528,316 530,317 533,318 535,319 537,320 537,322" fill="none" stroke="#15186a" stroke-width="11.5" stroke-linecap="round" stroke-linejoin="round"/>
<polyline points="527,335 528,336 529,337 531,338 534,339 537,340 539,341 540,343 541,344" fill="none" stroke="#15186a" stroke-width="11.5" stroke-linecap="round" stroke-linejoin="round"/>
<polyline points="514,189 514,190 513,192 511,194 509,196 507,197 505,199 504,201 504,202" fill="none" stroke="#2a2f98" stroke-width="13.5" stroke-linecap="round" stroke-linejoin="round"/>
<polyline points="518,211 518,213 517,214 515,216 513,218 511,219 509,221 508,223 508,224" fill="none" stroke="#2a2f98" stroke-width="13.5" stroke-linecap="round" stroke-linejoin="round"/>
<polyline points="522,233 522,235 521,236 519,238 517,240 515,242 513,243 512,245 511,246" fill="none" stroke="#2a2f98" stroke-width="13.5" stroke-linecap="round" stroke-linejoin="round"/>
<polyline points="526,255 526,257 524,258 523,260 521,262 518,264 517,265 516,267 515,269" fill="none" stroke="#2a2f98" stroke-width="13.5" stroke-linecap="round" stroke-linejoin="round"/>
<polyline points="530,277 529,279 528,281 527,282 524,284 522,286 521,288 519,289 519,291" fill="none" stroke="#2a2f98" stroke-width="13.5" stroke-linecap="round" stroke-linejoin="round"/>
<polyline points="533,300 533,301 532,303 530,304 528,306 526,308 524,310 523,311 523,313" fill="none" stroke="#2a2f98" stroke-width="13.5" stroke-linecap="round" stroke-linejoin="round"/>
<polyline points="537,322 537,323 536,325 534,327 532,328 530,330 528,332 527,334 527,335" fill="none" stroke="#2a2f98" stroke-width="13.5" stroke-linecap="round" stroke-linejoin="round"/>
<polyline points="-159,220 -157,219 -155,218 -153,215 -151,213 -148,210 -146,207 -144,206 -142,205" fill="none" stroke="#0c4fa8" stroke-width="17.1" stroke-linecap="round" stroke-linejoin="round"/>
<polyline points="-131,224 -129,224 -127,223 -125,220 -122,217 -120,214 -118,212 -116,210 -114,210" fill="none" stroke="#0c4fa8" stroke-width="17.1" stroke-linecap="round" stroke-linejoin="round"/>
<polyline points="-102,229 -101,229 -99,227 -96,225 -94,222 -92,219 -89,217 -87,215 -86,215" fill="none" stroke="#0c4fa8" stroke-width="17.1" stroke-linecap="round" stroke-linejoin="round"/>
<polyline points="-74,234 -72,233 -70,232 -68,230 -66,227 -63,224 -61,221 -59,220 -57,220" fill="none" stroke="#0c4fa8" stroke-width="17.1" stroke-linecap="round" stroke-linejoin="round"/>
<polyline points="-46,239 -44,238 -42,237 -40,234 -37,231 -35,229 -33,226 -31,225 -29,224" fill="none" stroke="#0c4fa8" stroke-width="17.1" stroke-linecap="round" stroke-linejoin="round"/>
<polyline points="-17,243 -16,243 -13,241 -11,239 -9,236 -7,233 -4,231 -2,229 -0,229" fill="none" stroke="#0c4fa8" stroke-width="17.1" stroke-linecap="round" stroke-linejoin="round"/>
<polyline points="11,248 13,248 15,246 17,244 19,241 22,238 24,236 26,234 28,234" fill="none" stroke="#0c4fa8" stroke-width="17.1" stroke-linecap="round" stroke-linejoin="round"/>
<polyline points="39,253 41,252 43,251 45,248 48,246 50,243 52,240 54,239 56,238" fill="none" stroke="#0c4fa8" stroke-width="17.1" stroke-linecap="round" stroke-linejoin="round"/>
<polyline points="68,257 70,257 72,256 74,253 76,250 78,247 81,245 83,243 85,243" fill="none" stroke="#0c4fa8" stroke-width="17.1" stroke-linecap="round" stroke-linejoin="round"/>
<polyline points="96,262 98,262 100,260 102,258 104,255 107,252 109,250 111,248 113,248" fill="none" stroke="#0c4fa8" stroke-width="17.1" stroke-linecap="round" stroke-linejoin="round"/>
<polyline points="124,267 126,266 128,265 131,263 133,260 135,257 137,254 139,253 141,253" fill="none" stroke="#0c4fa8" stroke-width="17.1" stroke-linecap="round" stroke-linejoin="round"/>
<polyline points="153,272 155,271 157,270 159,267 161,264 163,262 166,259 168,258 170,257" fill="none" stroke="#0c4fa8" stroke-width="17.1" stroke-linecap="round" stroke-linejoin="round"/>
<polyline points="181,276 183,276 185,274 187,272 190,269 192,266 194,264 196,262 198,262" fill="none" stroke="#0c4fa8" stroke-width="17.1" stroke-linecap="round" stroke-linejoin="round"/>
<polyline points="209,281 211,281 213,279 216,277 218,274 220,271 222,269 225,267 226,267" fill="none" stroke="#0c4fa8" stroke-width="17.1" stroke-linecap="round" stroke-linejoin="round"/>
<polyline points="-171,201 -169,202 -167,204 -166,207 -165,210 -164,214 -162,217 -161,219 -159,220" fill="none" stroke="#2b80e6" stroke-width="20.1" stroke-linecap="round" stroke-linejoin="round"/>
<polyline points="-142,205 -141,206 -139,208 -138,211 -137,215 -135,218 -134,221 -133,223 -131,224" fill="none" stroke="#2b80e6" stroke-width="20.1" stroke-linecap="round" stroke-linejoin="round"/>
<polyline points="-114,210 -112,211 -111,213 -109,216 -108,220 -107,223 -106,226 -104,228 -102,229" fill="none" stroke="#2b80e6" stroke-width="20.1" stroke-linecap="round" stroke-linejoin="round"/>
<polyline points="-86,215 -84,216 -82,218 -81,221 -80,224 -79,228 -77,231 -76,233 -74,234" fill="none" stroke="#2b80e6" stroke-width="20.1" stroke-linecap="round" stroke-linejoin="round"/>
<polyline points="-57,220 -56,220 -54,223 -53,226 -51,229 -50,233 -49,236 -47,238 -46,239" fill="none" stroke="#2b80e6" stroke-width="20.1" stroke-linecap="round" stroke-linejoin="round"/>
<polyline points="-29,224 -27,225 -26,227 -24,230 -23,234 -22,237 -21,240 -19,242 -17,243" fill="none" stroke="#2b80e6" stroke-width="20.1" stroke-linecap="round" stroke-linejoin="round"/>
<polyline points="-0,229 1,230 3,232 4,235 5,238 6,242 8,245 9,247 11,248" fill="none" stroke="#2b80e6" stroke-width="20.1" stroke-linecap="round" stroke-linejoin="round"/>
<polyline points="28,234 30,235 31,237 32,240 34,243 35,247 36,250 38,252 39,253" fill="none" stroke="#2b80e6" stroke-width="20.1" stroke-linecap="round" stroke-linejoin="round"/>
<polyline points="56,238 58,239 59,241 61,244 62,248 63,251 65,254 66,256 68,257" fill="none" stroke="#2b80e6" stroke-width="20.1" stroke-linecap="round" stroke-linejoin="round"/>
<polyline points="85,243 86,244 88,246 89,249 90,253 92,256 93,259 94,261 96,262" fill="none" stroke="#2b80e6" stroke-width="20.1" stroke-linecap="round" stroke-linejoin="round"/>
<polyline points="113,248 115,249 116,251 117,254 119,257 120,261 121,264 123,266 124,267" fill="none" stroke="#2b80e6" stroke-width="20.1" stroke-linecap="round" stroke-linejoin="round"/>
<polyline points="141,253 143,253 144,256 146,259 147,262 148,266 150,269 151,271 153,272" fill="none" stroke="#2b80e6" stroke-width="20.1" stroke-linecap="round" stroke-linejoin="round"/>
<polyline points="170,257 171,258 173,260 174,263 175,267 177,270 178,273 179,275 181,276" fill="none" stroke="#2b80e6" stroke-width="20.1" stroke-linecap="round" stroke-linejoin="round"/>
<polyline points="198,262 200,263 201,265 202,268 204,271 205,275 206,278 208,280 209,281" fill="none" stroke="#2b80e6" stroke-width="20.1" stroke-linecap="round" stroke-linejoin="round"/>
<polyline points="-144,261 -142,260 -140,259 -138,256 -135,253 -133,250 -131,248 -129,246 -127,246" fill="none" stroke="#0c4fa8" stroke-width="16.6" stroke-linecap="round" stroke-linejoin="round"/>
<polyline points="-116,265 -114,265 -112,263 -110,261 -108,258 -106,255 -104,252 -102,251 -100,250" fill="none" stroke="#0c4fa8" stroke-width="16.6" stroke-linecap="round" stroke-linejoin="round"/>
<polyline points="-89,270 -87,269 -85,268 -83,265 -80,262 -78,259 -76,257 -74,255 -72,255" fill="none" stroke="#0c4fa8" stroke-width="16.6" stroke-linecap="round" stroke-linejoin="round"/>
<polyline points="-61,274 -59,274 -57,272 -55,270 -53,266 -51,263 -49,261 -47,259 -45,259" fill="none" stroke="#0c4fa8" stroke-width="16.6" stroke-linecap="round" stroke-linejoin="round"/>
<polyline points="-34,278 -32,278 -30,276 -28,274 -26,271 -23,268 -21,265 -19,264 -17,263" fill="none" stroke="#0c4fa8" stroke-width="16.6" stroke-linecap="round" stroke-linejoin="round"/>
<polyline points="-6,283 -4,282 -2,281 -0,278 2,275 4,272 6,270 8,268 10,268" fill="none" stroke="#0c4fa8" stroke-width="16.6" stroke-linecap="round" stroke-linejoin="round"/>
<polyline points="21,287 23,287 25,285 27,283 29,280 32,277 34,274 36,273 38,272" fill="none" stroke="#0c4fa8" stroke-width="16.6" stroke-linecap="round" stroke-linejoin="round"/>
<polyline points="49,292 50,291 52,290 55,287 57,284 59,281 61,279 63,277 65,277" fill="none" stroke="#0c4fa8" stroke-width="16.6" stroke-linecap="round" stroke-linejoin="round"/>
<polyline points="76,296 78,296 80,294 82,292 84,289 87,285 89,283 91,281 93,281" fill="none" stroke="#0c4fa8" stroke-width="16.6" stroke-linecap="round" stroke-linejoin="round"/>
<polyline points="104,300 105,300 107,298 110,296 112,293 114,290 116,287 118,286 120,285" fill="none" stroke="#0c4fa8" stroke-width="16.6" stroke-linecap="round" stroke-linejoin="round"/>
<polyline points="131,305 133,304 135,303 137,300 139,297 142,294 144,292 146,290 148,290" fill="none" stroke="#0c4fa8" stroke-width="16.6" stroke-linecap="round" stroke-linejoin="round"/>
<polyline points="158,309 160,309 162,307 164,305 167,302 169,299 171,296 173,295 175,294" fill="none" stroke="#0c4fa8" stroke-width="16.6" stroke-linecap="round" stroke-linejoin="round"/>
<polyline points="186,314 188,313 190,312 192,309 194,306 196,303 199,301 201,299 202,299" fill="none" stroke="#0c4fa8" stroke-width="16.6" stroke-linecap="round" stroke-linejoin="round"/>
<polyline points="213,318 215,318 217,316 219,314 222,310 224,307 226,305 228,303 230,303" fill="none" stroke="#0c4fa8" stroke-width="16.6" stroke-linecap="round" stroke-linejoin="round"/>
<polyline points="241,322 243,322 245,320 247,318 249,315 251,312 254,309 256,308 257,307" fill="none" stroke="#0c4fa8" stroke-width="16.6" stroke-linecap="round" stroke-linejoin="round"/>
<polyline points="-155,241 -153,242 -152,244 -150,248 -149,251 -148,255 -147,258 -145,260 -144,261" fill="none" stroke="#2b80e6" stroke-width="19.5" stroke-linecap="round" stroke-linejoin="round"/>
<polyline points="-127,246 -126,247 -124,249 -123,252 -122,256 -120,259 -119,262 -118,264 -116,265" fill="none" stroke="#2b80e6" stroke-width="19.5" stroke-linecap="round" stroke-linejoin="round"/>
<polyline points="-100,250 -98,251 -97,253 -95,256 -94,260 -93,263 -92,267 -90,269 -89,270" fill="none" stroke="#2b80e6" stroke-width="19.5" stroke-linecap="round" stroke-linejoin="round"/>
<polyline points="-72,255 -71,255 -69,258 -68,261 -67,264 -66,268 -64,271 -63,273 -61,274" fill="none" stroke="#2b80e6" stroke-width="19.5" stroke-linecap="round" stroke-linejoin="round"/>
<polyline points="-45,259 -43,260 -42,262 -40,265 -39,269 -38,272 -37,275 -35,278 -34,278" fill="none" stroke="#2b80e6" stroke-width="19.5" stroke-linecap="round" stroke-linejoin="round"/>
<polyline points="-17,263 -16,264 -14,266 -13,270 -12,273 -11,277 -9,280 -8,282 -6,283" fill="none" stroke="#2b80e6" stroke-width="19.5" stroke-linecap="round" stroke-linejoin="round"/>
<polyline points="10,268 12,269 13,271 14,274 16,277 17,281 18,284 20,286 21,287" fill="none" stroke="#2b80e6" stroke-width="19.5" stroke-linecap="round" stroke-linejoin="round"/>
<polyline points="38,272 39,273 41,275 42,278 43,282 44,285 46,289 47,291 49,292" fill="none" stroke="#2b80e6" stroke-width="19.5" stroke-linecap="round" stroke-linejoin="round"/>
<polyline points="65,277 67,277 68,280 69,283 71,286 72,290 73,293 74,295 76,296" fill="none" stroke="#2b80e6" stroke-width="19.5" stroke-linecap="round" stroke-linejoin="round"/>
<polyline points="93,281 94,282 96,284 97,287 98,291 99,294 101,297 102,300 104,300" fill="none" stroke="#2b80e6" stroke-width="19.5" stroke-linecap="round" stroke-linejoin="round"/>
<polyline points="120,285 122,286 123,288 124,292 126,295 127,299 128,302 129,304 131,305" fill="none" stroke="#2b80e6" stroke-width="19.5" stroke-linecap="round" stroke-linejoin="round"/>
<polyline points="148,290 149,291 151,293 152,296 153,300 154,303 155,306 157,308 158,309" fill="none" stroke="#2b80e6" stroke-width="19.5" stroke-linecap="round" stroke-linejoin="round"/>
<polyline points="175,294 177,295 178,297 179,300 180,304 182,307 183,311 184,313 186,314" fill="none" stroke="#2b80e6" stroke-width="19.5" stroke-linecap="round" stroke-linejoin="round"/>
<polyline points="202,299 204,299 205,302 207,305 208,308 209,312 210,315 212,317 213,318" fill="none" stroke="#2b80e6" stroke-width="19.5" stroke-linecap="round" stroke-linejoin="round"/>
<polyline points="230,303 232,304 233,306 234,309 235,313 237,316 238,319 239,322 241,322" fill="none" stroke="#2b80e6" stroke-width="19.5" stroke-linecap="round" stroke-linejoin="round"/>
<polyline points="-10,311 -8,311 -6,310 -5,309 -3,308 -1,307 1,305 3,305 5,305" fill="none" stroke="#0c4fa8" stroke-width="17.0" stroke-linecap="round" stroke-linejoin="round"/>
<polyline points="18,314 20,314 22,313 24,312 26,310 28,309 30,308 31,307 33,307" fill="none" stroke="#0c4fa8" stroke-width="17.0" stroke-linecap="round" stroke-linejoin="round"/>
<polyline points="47,316 49,316 50,315 52,314 54,313 56,312 58,311 60,310 62,310" fill="none" stroke="#0c4fa8" stroke-width="17.0" stroke-linecap="round" stroke-linejoin="round"/>
<polyline points="75,319 77,319 79,318 81,317 83,316 85,314 87,313 88,312 90,312" fill="none" stroke="#0c4fa8" stroke-width="17.0" stroke-linecap="round" stroke-linejoin="round"/>
<polyline points="104,321 105,321 107,321 109,319 111,318 113,317 115,316 117,315 119,315" fill="none" stroke="#0c4fa8" stroke-width="17.0" stroke-linecap="round" stroke-linejoin="round"/>
<polyline points="132,324 134,324 136,323 138,322 140,321 142,319 143,318 145,317 147,317" fill="none" stroke="#0c4fa8" stroke-width="17.0" stroke-linecap="round" stroke-linejoin="round"/>
<polyline points="161,327 162,326 164,326 166,325 168,323 170,322 172,321 174,320 176,320" fill="none" stroke="#0c4fa8" stroke-width="17.0" stroke-linecap="round" stroke-linejoin="round"/>
<polyline points="189,329 191,329 193,328 195,327 197,326 198,324 200,323 202,323 204,322" fill="none" stroke="#0c4fa8" stroke-width="17.0" stroke-linecap="round" stroke-linejoin="round"/>
<polyline points="218,332 219,331 221,331 223,330 225,328 227,327 229,326 231,325 232,325" fill="none" stroke="#0c4fa8" stroke-width="17.0" stroke-linecap="round" stroke-linejoin="round"/>
<polyline points="246,334 248,334 250,333 252,332 253,331 255,329 257,328 259,328 261,327" fill="none" stroke="#0c4fa8" stroke-width="17.0" stroke-linecap="round" stroke-linejoin="round"/>
<polyline points="274,337 276,337 278,336 280,335 282,333 284,332 286,331 288,330 289,330" fill="none" stroke="#0c4fa8" stroke-width="17.0" stroke-linecap="round" stroke-linejoin="round"/>
<polyline points="-24,302 -22,302 -20,304 -19,305 -17,307 -15,308 -14,310 -12,311 -10,311" fill="none" stroke="#2b80e6" stroke-width="20.0" stroke-linecap="round" stroke-linejoin="round"/>
<polyline points="5,305 7,305 8,306 10,307 12,309 13,311 15,312 17,313 18,314" fill="none" stroke="#2b80e6" stroke-width="20.0" stroke-linecap="round" stroke-linejoin="round"/>
<polyline points="33,307 35,308 37,309 38,310 40,312 42,313 43,315 45,316 47,316" fill="none" stroke="#2b80e6" stroke-width="20.0" stroke-linecap="round" stroke-linejoin="round"/>
<polyline points="62,310 63,310 65,311 67,313 68,314 70,316 72,317 73,318 75,319" fill="none" stroke="#2b80e6" stroke-width="20.0" stroke-linecap="round" stroke-linejoin="round"/>
<polyline points="90,312 92,313 94,314 95,315 97,317 99,319 100,320 102,321 104,321" fill="none" stroke="#2b80e6" stroke-width="20.0" stroke-linecap="round" stroke-linejoin="round"/>
<polyline points="119,315 120,315 122,316 124,318 125,319 127,321 129,322 130,324 132,324" fill="none" stroke="#2b80e6" stroke-width="20.0" stroke-linecap="round" stroke-linejoin="round"/>
<polyline points="147,317 149,318 151,319 152,320 154,322 155,324 157,325 159,326 161,327" fill="none" stroke="#2b80e6" stroke-width="20.0" stroke-linecap="round" stroke-linejoin="round"/>
<polyline points="176,320 177,320 179,321 181,323 182,324 184,326 186,328 187,329 189,329" fill="none" stroke="#2b80e6" stroke-width="20.0" stroke-linecap="round" stroke-linejoin="round"/>
<polyline points="204,322 206,323 207,324 209,325 211,327 212,329 214,330 216,331 218,332" fill="none" stroke="#2b80e6" stroke-width="20.0" stroke-linecap="round" stroke-linejoin="round"/>
<polyline points="232,325 234,325 236,326 238,328 239,330 241,331 243,333 244,334 246,334" fill="none" stroke="#2b80e6" stroke-width="20.0" stroke-linecap="round" stroke-linejoin="round"/>
<polyline points="261,327 263,328 264,329 266,330 268,332 269,334 271,335 273,336 274,337" fill="none" stroke="#2b80e6" stroke-width="20.0" stroke-linecap="round" stroke-linejoin="round"/>
<line x1="110" y1="262" x2="290" y2="318" stroke="#2a2f9a" stroke-width="8"/>
</g>
<text x="449.6" y="106.4" font-size="10.6" fill="#111">ZIKV NS5</text>
<text x="526.6" y="90.4" font-size="10.6" fill="#3c6dc4">STAT2</text>
<path d="M437.8 65.8 L463 61.0" stroke="#ee2530" stroke-width="1.5" fill="none"/><path d="M468.9 58.5 L461.6 55.6 L463.6 64.6 Z" fill="#ee2530"/>
<path d="M571 25.8 Q540 -3 506.5 21.6" stroke="#ee2530" stroke-width="1.6" fill="none"/><path d="M500.2 29.4 L503.3 20.6 L509.4 27.4 Z" fill="#ee2530"/>
<g transform="translate(560,0) scale(0.18248)">
<clipPath id="boxN"><rect x="72" y="68" width="565" height="562"/></clipPath>
<g clip-path="url(#boxN)">
<clipPath id="cp5"><polygon points="72,68 637,68 637,630 72,630"/></clipPath>
<g clip-path="url(#cp5)"><polygon points="72,68 637,68 637,630 72,630" fill="#4c4c4c"/>
<circle cx="246" cy="240" r="37" fill="url(#gs3)"/>
<circle cx="106" cy="220" r="34" fill="url(#gs3)"/>
<circle cx="192" cy="410" r="31" fill="url(#gs3)"/>
<circle cx="145" cy="510" r="32" fill="url(#gs3)"/>
<circle cx="575" cy="125" r="30" fill="url(#gs3)"/>
<circle cx="347" cy="76" r="34" fill="url(#gs3)"/>
<circle cx="189" cy="100" r="36" fill="url(#gs3)"/>
<circle cx="420" cy="261" r="30" fill="url(#gs3)"/>
<circle cx="468" cy="413" r="35" fill="url(#gs3)"/>
<circle cx="632" cy="458" r="31" fill="url(#gs3)"/>
<circle cx="612" cy="337" r="31" fill="url(#gs3)"/>
<circle cx="42" cy="342" r="34" fill="url(#gs3)"/>
<circle cx="588" cy="378" r="34" fill="url(#gs3)"/>
<circle cx="147" cy="288" r="27" fill="url(#gs3)"/>
<circle cx="278" cy="599" r="36" fill="url(#gs3)"/>
<circle cx="387" cy="326" r="36" fill="url(#gs3)"/>
<circle cx="407" cy="293" r="35" fill="url(#gs3)"/>
<circle cx="56" cy="586" r="28" fill="url(#gs3)"/>
<circle cx="145" cy="67" r="28" fill="url(#gs3)"/>
<circle cx="622" cy="599" r="36" fill="url(#gs3)"/>
<circle cx="44" cy="223" r="33" fill="url(#gs3)"/>
<circle cx="306" cy="394" r="34" fill="url(#gs3)"/>
<circle cx="521" cy="288" r="33" fill="url(#gs3)"/>
<circle cx="104" cy="178" r="36" fill="url(#gs3)"/>
<circle cx="587" cy="471" r="33" fill="url(#gs3)"/>
<circle cx="472" cy="342" r="29" fill="url(#gs3)"/>
<circle cx="40" cy="473" r="35" fill="url(#gs3)"/>
<circle cx="187" cy="229" r="34" fill="url(#gs3)"/>
<circle cx="49" cy="460" r="32" fill="url(#gs3)"/>
<circle cx="412" cy="623" r="34" fill="url(#gs3)"/>
<circle cx="656" cy="222" r="31" fill="url(#gs3)"/>
<circle cx="66" cy="624" r="30" fill="url(#gs3)"/>
<circle cx="134" cy="455" r="27" fill="url(#gs3)"/>
<circle cx="447" cy="528" r="36" fill="url(#gs3)"/>
<circle cx="435" cy="211" r="35" fill="url(#gs3)"/>
<circle cx="149" cy="574" r="30" fill="url(#gs3)"/>
<circle cx="441" cy="126" r="28" fill="url(#gs3)"/>
<circle cx="629" cy="203" r="32" fill="url(#gs3)"/>
<circle cx="640" cy="165" r="31" fill="url(#gs3)"/>
<circle cx="163" cy="188" r="29" fill="url(#gs3)"/>
<circle cx="529" cy="66" r="31" fill="url(#gs3)"/>
<circle cx="598" cy="399" r="34" fill="url(#gs3)"/>
<circle cx="548" cy="164" r="34" fill="url(#gs3)"/>
<circle cx="434" cy="359" r="29" fill="url(#gs3)"/>
<circle cx="453" cy="546" r="35" fill="url(#gs3)"/>
<circle cx="300" cy="518" r="31" fill="url(#gs3)"/>
<circle cx="631" cy="400" r="28" fill="url(#gs3)"/>
<circle cx="629" cy="638" r="30" fill="url(#gs3)"/>
<circle cx="451" cy="72" r="29" fill="url(#gs3)"/>
<circle cx="346" cy="498" r="33" fill="url(#gs3)"/>
<circle cx="284" cy="143" r="31" fill="url(#gs3)"/>
<circle cx="172" cy="100" r="34" fill="url(#gs3)"/>
<circle cx="187" cy="50" r="28" fill="url(#gs3)"/>
<circle cx="192" cy="645" r="30" fill="url(#gs3)"/>
<circle cx="351" cy="612" r="29" fill="url(#gs3)"/>
<circle cx="368" cy="171" r="28" fill="url(#gs3)"/>
<circle cx="41" cy="301" r="30" fill="url(#gs3)"/>
<circle cx="635" cy="285" r="34" fill="url(#gs3)"/>
<circle cx="299" cy="190" r="30" fill="url(#gs3)"/>
<circle cx="668" cy="603" r="31" fill="url(#gs3)"/>
<circle cx="502" cy="139" r="36" fill="url(#gs3)"/>
<circle cx="512" cy="571" r="28" fill="url(#gs3)"/>
<circle cx="467" cy="86" r="36" fill="url(#gs3)"/>
<circle cx="574" cy="51" r="35" fill="url(#gs3)"/>
<circle cx="41" cy="124" r="29" fill="url(#gs3)"/>
<circle cx="538" cy="431" r="27" fill="url(#gs3)"/>
<circle cx="586" cy="168" r="30" fill="url(#gs3)"/>
<circle cx="182" cy="295" r="29" fill="url(#gs3)"/>
<circle cx="373" cy="244" r="33" fill="url(#gs3)"/>
<circle cx="393" cy="50" r="37" fill="url(#gs3)"/>
<circle cx="348" cy="250" r="29" fill="url(#gs3)"/>
<circle cx="408" cy="445" r="28" fill="url(#gs3)"/>
<circle cx="586" cy="299" r="30" fill="url(#gs3)"/>
<circle cx="102" cy="547" r="30" fill="url(#gs3)"/>
<circle cx="653" cy="300" r="34" fill="url(#gs3)"/>
<circle cx="619" cy="535" r="30" fill="url(#gs3)"/>
<circle cx="477" cy="358" r="33" fill="url(#gs3)"/>
<circle cx="329" cy="443" r="32" fill="url(#gs3)"/>
<circle cx="540" cy="597" r="33" fill="url(#gs3)"/>
<circle cx="134" cy="133" r="32" fill="url(#gs3)"/>
<circle cx="107" cy="331" r="36" fill="url(#gs3)"/>
<circle cx="506" cy="627" r="36" fill="url(#gs3)"/>
<circle cx="591" cy="587" r="30" fill="url(#gs3)"/>
<circle cx="508" cy="492" r="29" fill="url(#gs3)"/>
<circle cx="102" cy="91" r="28" fill="url(#gs3)"/>
<circle cx="465" cy="648" r="28" fill="url(#gs3)"/>
<circle cx="565" cy="649" r="32" fill="url(#gs3)"/>
<circle cx="603" cy="563" r="29" fill="url(#gs3)"/>
<circle cx="313" cy="588" r="29" fill="url(#gs3)"/>
<circle cx="269" cy="57" r="35" fill="url(#gs3)"/>
<circle cx="250" cy="173" r="33" fill="url(#gs3)"/>
<circle cx="305" cy="334" r="31" fill="url(#gs3)"/>
<circle cx="232" cy="208" r="35" fill="url(#gs3)"/>
<circle cx="532" cy="211" r="30" fill="url(#gs3)"/>
<circle cx="256" cy="368" r="35" fill="url(#gs3)"/>
<circle cx="289" cy="564" r="30" fill="url(#gs3)"/>
<circle cx="107" cy="481" r="30" fill="url(#gs3)"/>
<circle cx="197" cy="569" r="34" fill="url(#gs3)"/>
<circle cx="576" cy="529" r="32" fill="url(#gs3)"/>
<circle cx="90" cy="70" r="29" fill="url(#gs3)"/>
<circle cx="524" cy="535" r="28" fill="url(#gs3)"/>
<circle cx="100" cy="303" r="33" fill="url(#gs3)"/>
<circle cx="218" cy="444" r="31" fill="url(#gs3)"/>
<circle cx="493" cy="457" r="33" fill="url(#gs3)"/>
<circle cx="271" cy="431" r="29" fill="url(#gs3)"/>
<circle cx="504" cy="219" r="29" fill="url(#gs3)"/>
<circle cx="362" cy="382" r="29" fill="url(#gs3)"/>
<circle cx="236" cy="641" r="35" fill="url(#gs3)"/>
<circle cx="192" cy="473" r="32" fill="url(#gs3)"/>
<circle cx="241" cy="570" r="33" fill="url(#gs3)"/>
<circle cx="122" cy="414" r="28" fill="url(#gs3)"/>
<circle cx="437" cy="403" r="30" fill="url(#gs3)"/>
<circle cx="152" cy="345" r="32" fill="url(#gs3)"/>
<circle cx="588" cy="634" r="29" fill="url(#gs3)"/>
<circle cx="403" cy="154" r="32" fill="url(#gs3)"/>
<circle cx="553" cy="243" r="35" fill="url(#gs3)"/>
<circle cx="658" cy="548" r="28" fill="url(#gs3)"/>
<circle cx="93" cy="603" r="36" fill="url(#gs3)"/>
<circle cx="520" cy="131" r="28" fill="url(#gs3)"/>
<circle cx="332" cy="97" r="36" fill="url(#gs3)"/>
<circle cx="640" cy="479" r="32" fill="url(#gs3)"/>
<circle cx="164" cy="641" r="36" fill="url(#gs3)"/>
<circle cx="512" cy="37" r="33" fill="url(#gs3)"/>
<circle cx="229" cy="54" r="36" fill="url(#gs3)"/>
<circle cx="320" cy="289" r="37" fill="url(#gs3)"/>
<circle cx="231" cy="374" r="34" fill="url(#gs3)"/>
<circle cx="442" cy="295" r="34" fill="url(#gs3)"/>
<circle cx="329" cy="572" r="31" fill="url(#gs3)"/>
<circle cx="114" cy="252" r="35" fill="url(#gs3)"/>
<circle cx="216" cy="131" r="34" fill="url(#gs3)"/>
<circle cx="368" cy="305" r="34" fill="url(#gs3)"/>
<circle cx="201" cy="315" r="31" fill="url(#gs3)"/>
<circle cx="173" cy="255" r="37" fill="url(#gs3)"/>
<circle cx="238" cy="335" r="36" fill="url(#gs3)"/>
<circle cx="343" cy="515" r="32" fill="url(#gs3)"/>
<circle cx="66" cy="266" r="32" fill="url(#gs3)"/>
<circle cx="79" cy="97" r="28" fill="url(#gs3)"/>
<circle cx="600" cy="239" r="29" fill="url(#gs3)"/>
<circle cx="224" cy="522" r="33" fill="url(#gs3)"/>
<circle cx="157" cy="408" r="31" fill="url(#gs3)"/>
<circle cx="408" cy="379" r="32" fill="url(#gs3)"/>
<circle cx="557" cy="498" r="34" fill="url(#gs3)"/>
<circle cx="632" cy="260" r="36" fill="url(#gs3)"/>
<circle cx="300" cy="69" r="28" fill="url(#gs3)"/>
<circle cx="457" cy="164" r="30" fill="url(#gs3)"/>
<circle cx="175" cy="146" r="34" fill="url(#gs3)"/>
<circle cx="567" cy="407" r="28" fill="url(#gs3)"/>
<circle cx="444" cy="602" r="33" fill="url(#gs3)"/>
<circle cx="668" cy="532" r="29" fill="url(#gs3)"/>
<circle cx="223" cy="286" r="27" fill="url(#gs3)"/>
<circle cx="351" cy="202" r="35" fill="url(#gs3)"/>
<circle cx="190" cy="441" r="27" fill="url(#gs3)"/>
<circle cx="207" cy="241" r="35" fill="url(#gs3)"/>
<circle cx="304" cy="474" r="27" fill="url(#gs3)"/>
<circle cx="328" cy="363" r="35" fill="url(#gs3)"/>
<circle cx="619" cy="133" r="28" fill="url(#gs3)"/>
<circle cx="108" cy="359" r="27" fill="url(#gs3)"/>
<circle cx="96" cy="514" r="32" fill="url(#gs3)"/>
<circle cx="543" cy="332" r="35" fill="url(#gs3)"/>
<circle cx="414" cy="94" r="29" fill="url(#gs3)"/>
<circle cx="188" cy="506" r="35" fill="url(#gs3)"/>
<circle cx="304" cy="208" r="34" fill="url(#gs3)"/>
<circle cx="480" cy="587" r="32" fill="url(#gs3)"/>
<circle cx="140" cy="214" r="35" fill="url(#gs3)"/>
<circle cx="504" cy="537" r="30" fill="url(#gs3)"/>
<circle cx="295" cy="623" r="37" fill="url(#gs3)"/>
<circle cx="44" cy="362" r="33" fill="url(#gs3)"/>
<circle cx="432" cy="187" r="30" fill="url(#gs3)"/>
<circle cx="345" cy="438" r="36" fill="url(#gs3)"/>
<circle cx="559" cy="548" r="34" fill="url(#gs3)"/>
<circle cx="561" cy="100" r="36" fill="url(#gs3)"/>
<circle cx="443" cy="454" r="31" fill="url(#gs3)"/>
<circle cx="82" cy="338" r="33" fill="url(#gs3)"/>
<circle cx="172" cy="359" r="33" fill="url(#gs3)"/>
<circle cx="145" cy="585" r="33" fill="url(#gs3)"/>
<circle cx="279" cy="508" r="32" fill="url(#gs3)"/>
<circle cx="70" cy="498" r="37" fill="url(#gs3)"/>
<circle cx="652" cy="153" r="29" fill="url(#gs3)"/>
<circle cx="42" cy="263" r="28" fill="url(#gs3)"/>
<circle cx="404" cy="201" r="28" fill="url(#gs3)"/>
<circle cx="522" cy="376" r="34" fill="url(#gs3)"/>
<circle cx="410" cy="567" r="33" fill="url(#gs3)"/>
<circle cx="90" cy="458" r="28" fill="url(#gs3)"/>
<circle cx="193" cy="587" r="34" fill="url(#gs3)"/>
<circle cx="516" cy="338" r="29" fill="url(#gs3)"/>
<circle cx="74" cy="551" r="32" fill="url(#gs3)"/>
<circle cx="373" cy="634" r="30" fill="url(#gs3)"/>
<circle cx="235" cy="480" r="36" fill="url(#gs3)"/>
<circle cx="627" cy="72" r="31" fill="url(#gs3)"/>
<circle cx="219" cy="592" r="27" fill="url(#gs3)"/>
<circle cx="367" cy="136" r="28" fill="url(#gs3)"/>
<circle cx="252" cy="98" r="32" fill="url(#gs3)"/>
<circle cx="254" cy="407" r="36" fill="url(#gs3)"/>
<circle cx="407" cy="535" r="31" fill="url(#gs3)"/>
<circle cx="522" cy="264" r="33" fill="url(#gs3)"/>
<circle cx="334" cy="187" r="29" fill="url(#gs3)"/>
<circle cx="189" cy="178" r="32" fill="url(#gs3)"/>
<circle cx="159" cy="477" r="34" fill="url(#gs3)"/>
<circle cx="437" cy="469" r="29" fill="url(#gs3)"/>
<circle cx="389" cy="594" r="28" fill="url(#gs3)"/>
<circle cx="329" cy="124" r="28" fill="url(#gs3)"/>
<circle cx="63" cy="403" r="32" fill="url(#gs3)"/>
<circle cx="499" cy="175" r="33" fill="url(#gs3)"/>
<circle cx="494" cy="58" r="29" fill="url(#gs3)"/>
<circle cx="324" cy="336" r="33" fill="url(#gs3)"/>
<circle cx="642" cy="331" r="36" fill="url(#gs3)"/>
<circle cx="514" cy="401" r="30" fill="url(#gs3)"/>
<circle cx="278" cy="256" r="32" fill="url(#gs3)"/>
<circle cx="563" cy="218" r="35" fill="url(#gs3)"/>
<circle cx="112" cy="648" r="30" fill="url(#gs3)"/>
<circle cx="415" cy="324" r="30" fill="url(#gs3)"/>
<circle cx="332" cy="641" r="34" fill="url(#gs3)"/>
<circle cx="379" cy="402" r="34" fill="url(#gs3)"/>
<circle cx="466" cy="476" r="34" fill="url(#gs3)"/>
<circle cx="369" cy="475" r="36" fill="url(#gs3)"/>
<circle cx="369" cy="93" r="30" fill="url(#gs3)"/>
<circle cx="508" cy="114" r="34" fill="url(#gs3)"/>
<circle cx="343" cy="401" r="28" fill="url(#gs3)"/>
<circle cx="586" cy="442" r="36" fill="url(#gs3)"/>
<circle cx="81" cy="136" r="37" fill="url(#gs3)"/>
<circle cx="266" cy="204" r="28" fill="url(#gs3)"/>
<circle cx="392" cy="550" r="29" fill="url(#gs3)"/>
<circle cx="73" cy="164" r="30" fill="url(#gs3)"/>
<circle cx="588" cy="106" r="30" fill="url(#gs3)"/>
<circle cx="491" cy="285" r="28" fill="url(#gs3)"/>
<circle cx="126" cy="370" r="33" fill="url(#gs3)"/>
<circle cx="280" cy="90" r="29" fill="url(#gs3)"/>
<circle cx="264" cy="288" r="32" fill="url(#gs3)"/>
<circle cx="463" cy="246" r="37" fill="url(#gs3)"/>
<circle cx="635" cy="383" r="33" fill="url(#gs3)"/>
<circle cx="53" cy="536" r="30" fill="url(#gs3)"/>
<circle cx="649" cy="108" r="29" fill="url(#gs3)"/>
</g>
<clipPath id="cp6"><polygon points="72,300 130,310 200,345 232,385 300,440 332,520 305,560 285,630 72,630"/></clipPath>
<g clip-path="url(#cp6)"><polygon points="72,300 130,310 200,345 232,385 300,440 332,520 305,560 285,630 72,630" fill="#0a0a0a"/>
<circle cx="95" cy="304" r="32" fill="url(#bs)"/>
<circle cx="108" cy="516" r="29" fill="url(#bs)"/>
<circle cx="173" cy="528" r="33" fill="url(#bs)"/>
<circle cx="225" cy="594" r="26" fill="url(#bs)"/>
<circle cx="147" cy="601" r="28" fill="url(#bs)"/>
<circle cx="207" cy="512" r="28" fill="url(#bs)"/>
<circle cx="288" cy="464" r="34" fill="url(#bs)"/>
<circle cx="220" cy="656" r="28" fill="url(#bs)"/>
<circle cx="46" cy="381" r="29" fill="url(#bs)"/>
<circle cx="155" cy="341" r="34" fill="url(#bs)"/>
<circle cx="172" cy="583" r="26" fill="url(#bs)"/>
<circle cx="231" cy="548" r="32" fill="url(#bs)"/>
<circle cx="255" cy="440" r="34" fill="url(#bs)"/>
<circle cx="63" cy="332" r="32" fill="url(#bs)"/>
<circle cx="293" cy="555" r="26" fill="url(#bs)"/>
<circle cx="186" cy="463" r="27" fill="url(#bs)"/>
<circle cx="177" cy="376" r="30" fill="url(#bs)"/>
<circle cx="274" cy="628" r="26" fill="url(#bs)"/>
<circle cx="134" cy="513" r="26" fill="url(#bs)"/>
<circle cx="307" cy="595" r="34" fill="url(#bs)"/>
<circle cx="318" cy="471" r="29" fill="url(#bs)"/>
<circle cx="63" cy="565" r="26" fill="url(#bs)"/>
<circle cx="164" cy="475" r="34" fill="url(#bs)"/>
<circle cx="304" cy="441" r="26" fill="url(#bs)"/>
<circle cx="232" cy="443" r="34" fill="url(#bs)"/>
<circle cx="127" cy="338" r="32" fill="url(#bs)"/>
<circle cx="163" cy="454" r="32" fill="url(#bs)"/>
<circle cx="55" cy="438" r="34" fill="url(#bs)"/>
<circle cx="101" cy="472" r="26" fill="url(#bs)"/>
<circle cx="247" cy="631" r="34" fill="url(#bs)"/>
<circle cx="313" cy="552" r="26" fill="url(#bs)"/>
<circle cx="85" cy="416" r="32" fill="url(#bs)"/>
<circle cx="170" cy="633" r="32" fill="url(#bs)"/>
<circle cx="293" cy="414" r="31" fill="url(#bs)"/>
<circle cx="197" cy="616" r="26" fill="url(#bs)"/>
<circle cx="234" cy="479" r="31" fill="url(#bs)"/>
<circle cx="108" cy="620" r="28" fill="url(#bs)"/>
<circle cx="45" cy="520" r="30" fill="url(#bs)"/>
<circle cx="119" cy="545" r="27" fill="url(#bs)"/>
<circle cx="79" cy="586" r="27" fill="url(#bs)"/>
<circle cx="338" cy="503" r="33" fill="url(#bs)"/>
<circle cx="90" cy="369" r="34" fill="url(#bs)"/>
<circle cx="207" cy="372" r="28" fill="url(#bs)"/>
<circle cx="61" cy="573" r="27" fill="url(#bs)"/>
<circle cx="121" cy="367" r="26" fill="url(#bs)"/>
<circle cx="104" cy="436" r="26" fill="url(#bs)"/>
<circle cx="267" cy="576" r="34" fill="url(#bs)"/>
<circle cx="292" cy="511" r="30" fill="url(#bs)"/>
<circle cx="146" cy="562" r="30" fill="url(#bs)"/>
<circle cx="187" cy="547" r="27" fill="url(#bs)"/>
<circle cx="79" cy="490" r="27" fill="url(#bs)"/>
<circle cx="156" cy="415" r="27" fill="url(#bs)"/>
<circle cx="242" cy="418" r="30" fill="url(#bs)"/>
<circle cx="88" cy="652" r="31" fill="url(#bs)"/>
<circle cx="205" cy="342" r="30" fill="url(#bs)"/>
<circle cx="130" cy="450" r="30" fill="url(#bs)"/>
<circle cx="273" cy="509" r="31" fill="url(#bs)"/>
<circle cx="60" cy="304" r="34" fill="url(#bs)"/>
<circle cx="192" cy="402" r="31" fill="url(#bs)"/>
<circle cx="125" cy="409" r="26" fill="url(#bs)"/>
</g>
<path d="M72 68 L100 68 L92 100 L72 120 Z M80 262 L130 290 L200 282 L240 300 L262 350 L232 360 L200 338 L130 302 L80 300 Z M236 392 L322 398 L312 420 L258 416 Z" fill="#fff"/>
<polyline points="113,272 117,271 120,268 123,264 126,259 129,254 132,250 136,247 139,246" fill="none" stroke="#0a3f88" stroke-width="23.4" stroke-linecap="round" stroke-linejoin="round"/>
<polyline points="84,250 88,250 91,253 95,257 99,261 103,265 106,269 110,272 113,272" fill="none" stroke="#1a6ed0" stroke-width="27.6" stroke-linecap="round" stroke-linejoin="round"/>
<polyline points="180,256 183,256 186,254 191,250 195,246 199,242 204,239 207,237 210,237" fill="none" stroke="#0a3f88" stroke-width="18.2" stroke-linecap="round" stroke-linejoin="round"/>
<polyline points="170,222 172,224 174,227 174,233 175,239 176,245 176,250 178,254 180,256" fill="none" stroke="#1a6ed0" stroke-width="21.4" stroke-linecap="round" stroke-linejoin="round"/>
<polyline points="264,97 268,96 275,93 282,86 290,78 298,70 305,63 312,60 316,59" fill="none" stroke="#777cbc" stroke-width="41.3" stroke-linecap="round" stroke-linejoin="round"/>
<polyline points="324,123 328,123 335,119 342,113 350,105 358,97 365,90 372,86 376,86" fill="none" stroke="#777cbc" stroke-width="41.3" stroke-linecap="round" stroke-linejoin="round"/>
<polyline points="384,150 388,150 395,146 402,139 410,131 418,123 425,117 432,113 436,113" fill="none" stroke="#777cbc" stroke-width="41.3" stroke-linecap="round" stroke-linejoin="round"/>
<polyline points="256,33 259,36 260,43 261,53 260,65 259,76 260,86 261,93 264,97" fill="none" stroke="#5f649f" stroke-width="55.6" stroke-linecap="round" stroke-linejoin="round"/>
<polyline points="256,33 259,36 260,43 261,53 260,65 259,76 260,86 261,93 264,97" fill="none" stroke="#b9bdee" stroke-width="48.6" stroke-linecap="round" stroke-linejoin="round"/>
<polyline points="316,59 319,63 320,70 321,80 320,91 319,103 320,113 321,120 324,123" fill="none" stroke="#5f649f" stroke-width="55.6" stroke-linecap="round" stroke-linejoin="round"/>
<polyline points="316,59 319,63 320,70 321,80 320,91 319,103 320,113 321,120 324,123" fill="none" stroke="#b9bdee" stroke-width="48.6" stroke-linecap="round" stroke-linejoin="round"/>
<polyline points="376,86 379,90 380,97 381,107 380,118 379,129 380,139 381,146 384,150" fill="none" stroke="#5f649f" stroke-width="55.6" stroke-linecap="round" stroke-linejoin="round"/>
<polyline points="376,86 379,90 380,97 381,107 380,118 379,129 380,139 381,146 384,150" fill="none" stroke="#b9bdee" stroke-width="48.6" stroke-linecap="round" stroke-linejoin="round"/>
<polyline points="97,116 102,117 110,114 122,108 134,101 147,93 158,87 167,84 172,85" fill="none" stroke="#777cbc" stroke-width="44.5" stroke-linecap="round" stroke-linejoin="round"/>
<polyline points="149,164 154,164 163,161 174,156 187,148 200,141 211,135 220,132 225,133" fill="none" stroke="#777cbc" stroke-width="44.5" stroke-linecap="round" stroke-linejoin="round"/>
<polyline points="202,211 207,212 215,209 227,203 239,196 252,188 263,182 272,179 277,180" fill="none" stroke="#777cbc" stroke-width="44.5" stroke-linecap="round" stroke-linejoin="round"/>
<polyline points="254,259 259,259 268,256 279,251 292,243 305,236 316,230 325,227 330,228" fill="none" stroke="#777cbc" stroke-width="44.5" stroke-linecap="round" stroke-linejoin="round"/>
<polyline points="120,38 121,43 119,52 114,63 108,77 102,90 97,102 95,111 97,116" fill="none" stroke="#5f649f" stroke-width="59.4" stroke-linecap="round" stroke-linejoin="round"/>
<polyline points="120,38 121,43 119,52 114,63 108,77 102,90 97,102 95,111 97,116" fill="none" stroke="#b9bdee" stroke-width="52.4" stroke-linecap="round" stroke-linejoin="round"/>
<polyline points="172,85 174,90 172,99 167,111 161,124 154,138 150,150 148,158 149,164" fill="none" stroke="#5f649f" stroke-width="59.4" stroke-linecap="round" stroke-linejoin="round"/>
<polyline points="172,85 174,90 172,99 167,111 161,124 154,138 150,150 148,158 149,164" fill="none" stroke="#b9bdee" stroke-width="52.4" stroke-linecap="round" stroke-linejoin="round"/>
<polyline points="225,133 226,138 224,147 219,158 213,172 207,185 202,197 200,206 202,211" fill="none" stroke="#5f649f" stroke-width="59.4" stroke-linecap="round" stroke-linejoin="round"/>
<polyline points="225,133 226,138 224,147 219,158 213,172 207,185 202,197 200,206 202,211" fill="none" stroke="#b9bdee" stroke-width="52.4" stroke-linecap="round" stroke-linejoin="round"/>
<polyline points="277,180 279,185 277,194 272,206 266,219 259,233 255,245 253,253 254,259" fill="none" stroke="#5f649f" stroke-width="59.4" stroke-linecap="round" stroke-linejoin="round"/>
<polyline points="277,180 279,185 277,194 272,206 266,219 259,233 255,245 253,253 254,259" fill="none" stroke="#b9bdee" stroke-width="52.4" stroke-linecap="round" stroke-linejoin="round"/>
<polyline points="306,308 310,309 317,306 326,302 336,296 346,290 355,285 362,282 366,283" fill="none" stroke="#7277b8" stroke-width="33.9" stroke-linecap="round" stroke-linejoin="round"/>
<polyline points="348,345 352,346 359,343 367,338 377,332 387,326 396,322 403,319 407,320" fill="none" stroke="#7277b8" stroke-width="33.9" stroke-linecap="round" stroke-linejoin="round"/>
<polyline points="389,382 393,382 400,380 409,375 419,369 429,363 438,358 444,356 449,357" fill="none" stroke="#7277b8" stroke-width="33.9" stroke-linecap="round" stroke-linejoin="round"/>
<polyline points="431,419 435,419 441,417 450,412 460,406 470,400 479,395 486,393 490,393" fill="none" stroke="#7277b8" stroke-width="33.9" stroke-linecap="round" stroke-linejoin="round"/>
<polyline points="472,455 476,456 483,454 492,449 502,443 512,437 520,432 527,430 531,430" fill="none" stroke="#7277b8" stroke-width="33.9" stroke-linecap="round" stroke-linejoin="round"/>
<polyline points="324,246 325,250 324,257 320,267 315,277 311,288 307,297 305,304 306,308" fill="none" stroke="#5f649f" stroke-width="46.9" stroke-linecap="round" stroke-linejoin="round"/>
<polyline points="324,246 325,250 324,257 320,267 315,277 311,288 307,297 305,304 306,308" fill="none" stroke="#b3b8ea" stroke-width="39.9" stroke-linecap="round" stroke-linejoin="round"/>
<polyline points="366,283 367,287 365,294 362,303 357,314 352,325 348,334 347,341 348,345" fill="none" stroke="#5f649f" stroke-width="46.9" stroke-linecap="round" stroke-linejoin="round"/>
<polyline points="366,283 367,287 365,294 362,303 357,314 352,325 348,334 347,341 348,345" fill="none" stroke="#b3b8ea" stroke-width="39.9" stroke-linecap="round" stroke-linejoin="round"/>
<polyline points="407,320 408,324 407,331 403,340 398,351 393,361 390,371 388,378 389,382" fill="none" stroke="#5f649f" stroke-width="46.9" stroke-linecap="round" stroke-linejoin="round"/>
<polyline points="407,320 408,324 407,331 403,340 398,351 393,361 390,371 388,378 389,382" fill="none" stroke="#b3b8ea" stroke-width="39.9" stroke-linecap="round" stroke-linejoin="round"/>
<polyline points="449,357 450,361 448,368 444,377 440,388 435,398 431,408 429,415 431,419" fill="none" stroke="#5f649f" stroke-width="46.9" stroke-linecap="round" stroke-linejoin="round"/>
<polyline points="449,357 450,361 448,368 444,377 440,388 435,398 431,408 429,415 431,419" fill="none" stroke="#b3b8ea" stroke-width="39.9" stroke-linecap="round" stroke-linejoin="round"/>
<polyline points="490,393 491,397 489,404 486,414 481,424 476,435 472,444 471,451 472,455" fill="none" stroke="#5f649f" stroke-width="46.9" stroke-linecap="round" stroke-linejoin="round"/>
<polyline points="490,393 491,397 489,404 486,414 481,424 476,435 472,444 471,451 472,455" fill="none" stroke="#b3b8ea" stroke-width="39.9" stroke-linecap="round" stroke-linejoin="round"/>
<circle cx="125" cy="195" r="26" fill="none" stroke="#777cbc" stroke-width="20"/><circle cx="125" cy="195" r="26" fill="none" stroke="#b9bdee" stroke-width="13"/>
<path d="M322 282 L385 275 L390 300 L340 312 Z" fill="#d40f0f"/>
<path d="M505 190 Q520 240 518 285 Q540 360 572 430 M470 440 Q520 500 560 450 M85 460 Q120 490 150 430 Q180 400 232 400 Q270 380 245 310" fill="none" stroke="#a9aee6" stroke-width="6"/>
<path d="M562 418 L578 410 L572 445 L560 448 Z" fill="#d40f0f"/>
<line x1="515" y1="165" x2="380" y2="272" stroke="#fff" stroke-width="4.5"/>
<line x1="572" y1="150" x2="637" y2="134" stroke="#fff" stroke-width="4.5"/>
<line x1="310" y1="474" x2="355" y2="481" stroke="#fff" stroke-width="4.5"/>
<line x1="425" y1="481" x2="568" y2="432" stroke="#fff" stroke-width="4.5"/>
<path d="M400 208 L425 212 L410 228 Z M398 265 L415 250 L418 270 Z" fill="#fff"/>
<text x="545" y="163" text-anchor="middle" font-size="48" fill="#fff">91</text>
<text x="390" y="505" text-anchor="middle" font-size="48" fill="#fff">78</text>
</g>
<rect x="72" y="68" width="565" height="562" fill="none" stroke="#ee2530" stroke-width="8.5" stroke-dasharray="16.5 14"/>
</g>
<text x="625.2" y="10.9" text-anchor="middle" font-size="10.6" fill="#111">ND</text>
<text x="-0.20" y="14.80" text-anchor="start" font-size="16" fill="#111" >a</text>
<text x="132.80" y="35.80" text-anchor="end" font-size="10.8" fill="#c4323e" >Resistance Determinants</text>
<text x="132.80" y="47.10" text-anchor="end" font-size="10.8" fill="#f94cf4" >Susceptibility Determinants</text>
<rect x="85.60" y="54.40" width="96.60" height="13.40" fill="#bcb6dd" stroke="#3a3a3a" stroke-width="0.9" rx="3" ry="3"/>
<rect x="182.20" y="54.40" width="136.60" height="13.40" fill="#5c8fcd" stroke="#3a3a3a" stroke-width="0.9" rx="3" ry="3"/>
<text x="133.70" y="64.90" text-anchor="middle" font-size="10.8" fill="#111" >ND</text>
<text x="252.20" y="64.90" text-anchor="middle" font-size="10.8" fill="#111" >CCD</text>
<text x="141.70" y="34.80" text-anchor="middle" font-size="8.0" fill="#c4323e" >78</text>
<line x1="142.70" y1="36.30" x2="142.70" y2="54.40" stroke="#c4323e" stroke-width="0.9" />
<text x="154.00" y="34.80" text-anchor="middle" font-size="8.0" fill="#c4323e" >91</text>
<line x1="152.50" y1="36.30" x2="152.50" y2="54.40" stroke="#c4323e" stroke-width="0.9" />
<text x="215.30" y="34.80" text-anchor="middle" font-size="8.0" fill="#c4323e" >179</text>
<line x1="216.30" y1="36.30" x2="216.30" y2="54.40" stroke="#c4323e" stroke-width="0.9" />
<text x="231.00" y="34.80" text-anchor="middle" font-size="8.0" fill="#c4323e" >198</text>
<line x1="229.80" y1="36.30" x2="229.80" y2="54.40" stroke="#c4323e" stroke-width="0.9" />
<text x="173.30" y="45.90" text-anchor="middle" font-size="8.0" fill="#f94cf4" >127</text>
<line x1="173.30" y1="47.60" x2="173.30" y2="54.40" stroke="#f94cf4" stroke-width="0.9" />
<text x="290.80" y="45.90" text-anchor="middle" font-size="8.0" fill="#f94cf4" >289</text>
<text x="310.80" y="45.90" text-anchor="middle" font-size="8.0" fill="#f94cf4" >290</text>
<line x1="284.00" y1="47.20" x2="297.70" y2="47.20" stroke="#f94cf4" stroke-width="0.8" />
<line x1="303.80" y1="47.20" x2="317.80" y2="47.20" stroke="#f94cf4" stroke-width="0.8" />
<path d="M295.7 48.8 L299.7 52.6 L303.7 48.8 M299.7 52.6 L299.7 54.4" fill="none" stroke="#f94cf4" stroke-width="0.9" />
<line x1="123.60" y1="67.80" x2="123.60" y2="75.00" stroke="#333" stroke-width="0.9" />
<text x="123.20" y="82.90" text-anchor="middle" font-size="8.0" fill="#222" >51</text>
<line x1="144.50" y1="67.80" x2="144.50" y2="75.00" stroke="#333" stroke-width="0.9" />
<text x="144.60" y="82.90" text-anchor="middle" font-size="8.0" fill="#222" >80</text>
<line x1="196.70" y1="67.80" x2="196.70" y2="75.00" stroke="#333" stroke-width="0.9" />
<text x="196.90" y="82.90" text-anchor="middle" font-size="8.0" fill="#222" >150</text>
<line x1="221.60" y1="67.80" x2="221.60" y2="75.00" stroke="#333" stroke-width="0.9" />
<text x="221.70" y="82.90" text-anchor="middle" font-size="8.0" fill="#222" >184</text>
<line x1="273.60" y1="67.80" x2="273.60" y2="75.00" stroke="#333" stroke-width="0.9" />
<text x="273.20" y="82.90" text-anchor="middle" font-size="8.0" fill="#222" >254</text>
<path d="M299.7 54.4 L299.7 72.8 L295.7 76.6 M299.7 72.8 L303.7 76.6" fill="none" stroke="#222" stroke-width="1.1" />
<text x="290.90" y="82.90" text-anchor="middle" font-size="8.0" fill="#222" >289</text>
<text x="310.80" y="82.90" text-anchor="middle" font-size="8.0" fill="#222" >290</text>
<line x1="284.00" y1="84.20" x2="297.80" y2="84.20" stroke="#222" stroke-width="0.8" />
<line x1="303.80" y1="84.20" x2="317.80" y2="84.20" stroke="#222" stroke-width="0.8" />
<text x="133.70" y="95.50" text-anchor="start" font-size="10.75" fill="#111" >Evolving under positive selection</text>
<text x="0.00" y="144.50" text-anchor="start" font-size="16.3" fill="#111" >b</text>
<rect x="129.50" y="148.90" width="106.20" height="6.00" fill="#d9d9d9" stroke="#2a2a2a" stroke-width="0.8" />
<rect x="129.50" y="154.90" width="40.80" height="6.00" fill="#5f97d3" stroke="#2a2a2a" stroke-width="0.8" />
<text x="126.90" y="158.50" text-anchor="end" font-size="10.8" fill="#111" font-style="italic" >Homo sapiens</text>
<circle cx="235.90" cy="150.85" r="1.4" fill="#000" />
<circle cx="237.01" cy="150.62" r="1.4" fill="#000" />
<circle cx="236.62" cy="151.50" r="1.4" fill="#000" />
<circle cx="235.00" cy="151.92" r="1.4" fill="#000" />
<circle cx="169.53" cy="157.70" r="1.4" fill="#000" />
<circle cx="169.64" cy="156.67" r="1.4" fill="#000" />
<circle cx="170.84" cy="158.88" r="1.4" fill="#000" />
<circle cx="169.82" cy="157.07" r="1.4" fill="#000" />
<rect x="129.50" y="163.93" width="105.30" height="6.00" fill="#d9d9d9" stroke="#2a2a2a" stroke-width="0.8" />
<rect x="129.50" y="169.93" width="53.10" height="6.00" fill="#5f97d3" stroke="#2a2a2a" stroke-width="0.8" />
<text x="126.90" y="173.53" text-anchor="end" font-size="10.8" fill="#111" font-style="italic" >D. madagascarensis</text>
<circle cx="236.03" cy="168.27" r="1.4" fill="#000" />
<circle cx="235.86" cy="166.62" r="1.4" fill="#000" />
<circle cx="237.22" cy="165.57" r="1.4" fill="#000" />
<circle cx="236.82" cy="166.30" r="1.4" fill="#000" />
<circle cx="182.19" cy="171.78" r="1.4" fill="#000" />
<circle cx="182.75" cy="173.88" r="1.4" fill="#000" />
<circle cx="182.31" cy="173.17" r="1.4" fill="#000" />
<circle cx="183.87" cy="172.55" r="1.4" fill="#000" />
<rect x="129.50" y="178.96" width="98.30" height="6.00" fill="#d9d9d9" stroke="#2a2a2a" stroke-width="0.8" />
<rect x="129.50" y="184.96" width="99.00" height="6.00" fill="#5f97d3" stroke="#2a2a2a" stroke-width="0.8" />
<text x="126.90" y="188.56" text-anchor="end" font-size="10.8" fill="#111" font-style="italic" >P. coquereli / P. tattersali</text>
<circle cx="228.76" cy="180.65" r="1.4" fill="#000" />
<circle cx="227.10" cy="181.08" r="1.4" fill="#000" />
<circle cx="229.21" cy="181.74" r="1.4" fill="#000" />
<circle cx="227.97" cy="182.22" r="1.4" fill="#000" />
<circle cx="229.14" cy="187.36" r="1.4" fill="#000" />
<circle cx="230.30" cy="188.56" r="1.4" fill="#000" />
<circle cx="228.43" cy="188.18" r="1.4" fill="#000" />
<circle cx="229.39" cy="189.09" r="1.4" fill="#000" />
<rect x="129.50" y="193.99" width="93.00" height="6.00" fill="#d9d9d9" stroke="#2a2a2a" stroke-width="0.8" />
<rect x="129.50" y="199.99" width="94.50" height="6.00" fill="#5f97d3" stroke="#2a2a2a" stroke-width="0.8" />
<text x="126.90" y="203.59" text-anchor="end" font-size="10.8" fill="#111" font-style="italic" >Microcebus murinus</text>
<circle cx="224.08" cy="196.35" r="1.4" fill="#000" />
<circle cx="224.93" cy="195.84" r="1.4" fill="#000" />
<circle cx="223.02" cy="197.76" r="1.4" fill="#000" />
<circle cx="222.12" cy="196.96" r="1.4" fill="#000" />
<circle cx="223.23" cy="203.49" r="1.4" fill="#000" />
<circle cx="225.70" cy="203.21" r="1.4" fill="#000" />
<circle cx="226.08" cy="202.43" r="1.4" fill="#000" />
<circle cx="225.46" cy="203.27" r="1.4" fill="#000" />
<rect x="129.50" y="209.02" width="100.50" height="6.00" fill="#d9d9d9" stroke="#2a2a2a" stroke-width="0.8" />
<rect x="129.50" y="215.02" width="102.10" height="6.00" fill="#5f97d3" stroke="#2a2a2a" stroke-width="0.8" />
<text x="126.90" y="218.62" text-anchor="end" font-size="10.8" fill="#111" font-style="italic" >Mirza zaza</text>
<circle cx="231.07" cy="211.89" r="1.4" fill="#000" />
<circle cx="231.96" cy="213.35" r="1.4" fill="#000" />
<circle cx="230.71" cy="212.51" r="1.4" fill="#000" />
<circle cx="229.31" cy="212.62" r="1.4" fill="#000" />
<circle cx="232.90" cy="219.50" r="1.4" fill="#000" />
<circle cx="233.49" cy="217.37" r="1.4" fill="#000" />
<circle cx="232.01" cy="218.53" r="1.4" fill="#000" />
<circle cx="230.78" cy="217.91" r="1.4" fill="#000" />
<rect x="129.50" y="224.05" width="60.70" height="6.00" fill="#d9d9d9" stroke="#2a2a2a" stroke-width="0.8" />
<rect x="129.50" y="230.05" width="60.30" height="6.00" fill="#5f97d3" stroke="#2a2a2a" stroke-width="0.8" />
<text x="126.90" y="233.65" text-anchor="end" font-size="10.8" fill="#111" font-style="italic" >Cheriogaleus medius</text>
<circle cx="189.87" cy="225.90" r="1.4" fill="#000" />
<circle cx="189.50" cy="227.85" r="1.4" fill="#000" />
<circle cx="189.74" cy="226.29" r="1.4" fill="#000" />
<circle cx="190.63" cy="228.16" r="1.4" fill="#000" />
<circle cx="189.17" cy="232.90" r="1.4" fill="#000" />
<circle cx="190.77" cy="234.20" r="1.4" fill="#000" />
<circle cx="191.69" cy="234.14" r="1.4" fill="#000" />
<circle cx="189.85" cy="232.80" r="1.4" fill="#000" />
<rect x="129.50" y="239.08" width="99.30" height="6.00" fill="#d9d9d9" stroke="#2a2a2a" stroke-width="0.8" />
<rect x="129.50" y="245.08" width="99.30" height="6.00" fill="#5f97d3" stroke="#2a2a2a" stroke-width="0.8" />
<text x="126.90" y="248.68" text-anchor="end" font-size="10.8" fill="#111" font-style="italic" >V. variegata / V. rubra</text>
<circle cx="229.12" cy="243.23" r="1.4" fill="#000" />
<circle cx="231.16" cy="241.03" r="1.4" fill="#000" />
<circle cx="228.50" cy="241.28" r="1.4" fill="#000" />
<circle cx="228.69" cy="242.03" r="1.4" fill="#000" />
<circle cx="229.90" cy="247.37" r="1.4" fill="#000" />
<circle cx="227.91" cy="247.84" r="1.4" fill="#000" />
<circle cx="229.16" cy="248.28" r="1.4" fill="#000" />
<circle cx="231.14" cy="248.65" r="1.4" fill="#000" />
<rect x="129.50" y="254.11" width="98.40" height="6.00" fill="#d9d9d9" stroke="#2a2a2a" stroke-width="0.8" />
<rect x="129.50" y="260.11" width="61.00" height="6.00" fill="#5f97d3" stroke="#2a2a2a" stroke-width="0.8" />
<text x="126.90" y="263.71" text-anchor="end" font-size="10.8" fill="#111" font-style="italic" >Lemur catta</text>
<circle cx="228.75" cy="257.46" r="1.4" fill="#000" />
<circle cx="229.30" cy="255.77" r="1.4" fill="#000" />
<circle cx="230.06" cy="257.95" r="1.4" fill="#000" />
<circle cx="229.97" cy="258.00" r="1.4" fill="#000" />
<circle cx="190.93" cy="262.81" r="1.4" fill="#000" />
<circle cx="189.95" cy="263.51" r="1.4" fill="#000" />
<circle cx="189.81" cy="261.81" r="1.4" fill="#000" />
<circle cx="190.31" cy="262.10" r="1.4" fill="#000" />
<rect x="129.50" y="269.14" width="99.30" height="6.00" fill="#d9d9d9" stroke="#2a2a2a" stroke-width="0.8" />
<rect x="129.50" y="275.14" width="65.60" height="6.00" fill="#5f97d3" stroke="#2a2a2a" stroke-width="0.8" />
<text x="126.90" y="278.74" text-anchor="end" font-size="10.8" fill="#111" font-style="italic" >Prolemur simus</text>
<circle cx="229.06" cy="270.80" r="1.4" fill="#000" />
<circle cx="227.90" cy="271.09" r="1.4" fill="#000" />
<circle cx="228.24" cy="271.73" r="1.4" fill="#000" />
<circle cx="227.99" cy="273.26" r="1.4" fill="#000" />
<circle cx="196.29" cy="277.09" r="1.4" fill="#000" />
<circle cx="195.06" cy="277.68" r="1.4" fill="#000" />
<circle cx="195.44" cy="277.01" r="1.4" fill="#000" />
<circle cx="197.09" cy="279.62" r="1.4" fill="#000" />
<rect x="129.50" y="284.17" width="94.70" height="6.00" fill="#d9d9d9" stroke="#2a2a2a" stroke-width="0.8" />
<rect x="129.50" y="290.17" width="41.10" height="6.00" fill="#5f97d3" stroke="#2a2a2a" stroke-width="0.8" />
<text x="126.90" y="293.77" text-anchor="end" font-size="10.8" fill="#111" font-style="italic" >Eulemur flavifrons</text>
<circle cx="224.88" cy="287.12" r="1.4" fill="#000" />
<circle cx="223.59" cy="285.98" r="1.4" fill="#000" />
<circle cx="224.46" cy="286.46" r="1.4" fill="#000" />
<circle cx="226.12" cy="286.15" r="1.4" fill="#000" />
<circle cx="169.78" cy="294.52" r="1.4" fill="#000" />
<circle cx="171.50" cy="292.11" r="1.4" fill="#000" />
<circle cx="171.55" cy="291.75" r="1.4" fill="#000" />
<circle cx="171.50" cy="294.61" r="1.4" fill="#000" />
<rect x="129.50" y="299.20" width="100.90" height="6.00" fill="#d9d9d9" stroke="#2a2a2a" stroke-width="0.8" />
<rect x="129.50" y="305.20" width="49.40" height="6.00" fill="#5f97d3" stroke="#2a2a2a" stroke-width="0.8" />
<text x="126.90" y="308.80" text-anchor="end" font-size="10.8" fill="#111" font-style="italic" >E.fulvus / E. rufus</text>
<circle cx="232.44" cy="302.79" r="1.4" fill="#000" />
<circle cx="230.39" cy="301.80" r="1.4" fill="#000" />
<circle cx="230.07" cy="303.02" r="1.4" fill="#000" />
<circle cx="231.31" cy="303.04" r="1.4" fill="#000" />
<circle cx="179.12" cy="307.37" r="1.4" fill="#000" />
<circle cx="180.76" cy="309.65" r="1.4" fill="#000" />
<circle cx="180.90" cy="309.12" r="1.4" fill="#000" />
<circle cx="180.78" cy="308.92" r="1.4" fill="#000" />
<rect x="129.50" y="314.23" width="36.50" height="6.00" fill="#d9d9d9" stroke="#2a2a2a" stroke-width="0.8" />
<rect x="129.50" y="320.23" width="38.00" height="6.00" fill="#5f97d3" stroke="#2a2a2a" stroke-width="0.8" />
<text x="126.90" y="323.83" text-anchor="end" font-size="10.8" fill="#111" >No STAT2</text>
<circle cx="165.87" cy="317.28" r="1.4" fill="#000" />
<circle cx="166.31" cy="315.82" r="1.4" fill="#000" />
<circle cx="165.19" cy="316.57" r="1.4" fill="#000" />
<circle cx="165.98" cy="317.81" r="1.4" fill="#000" />
<circle cx="169.85" cy="323.07" r="1.4" fill="#000" />
<circle cx="169.79" cy="324.69" r="1.4" fill="#000" />
<circle cx="169.85" cy="322.82" r="1.4" fill="#000" />
<circle cx="167.35" cy="322.41" r="1.4" fill="#000" />
<line x1="129.50" y1="137.80" x2="129.50" y2="332.00" stroke="#222" stroke-width="1" />
<line x1="129.00" y1="331.50" x2="247.00" y2="331.50" stroke="#222" stroke-width="1" />
<line x1="129.50" y1="331.50" x2="129.50" y2="335.00" stroke="#222" stroke-width="1" />
<text x="129.50" y="345.20" text-anchor="middle" font-size="10.8" fill="#111" >0.1</text>
<line x1="164.60" y1="331.50" x2="164.60" y2="335.00" stroke="#222" stroke-width="1" />
<text x="164.60" y="345.20" text-anchor="middle" font-size="10.8" fill="#111" >1</text>
<line x1="199.70" y1="331.50" x2="199.70" y2="335.00" stroke="#222" stroke-width="1" />
<text x="199.70" y="345.20" text-anchor="middle" font-size="10.8" fill="#111" >10</text>
<line x1="234.90" y1="331.50" x2="234.90" y2="335.00" stroke="#222" stroke-width="1" />
<text x="234.90" y="345.20" text-anchor="middle" font-size="10.8" fill="#111" >100</text>
<text x="188.50" y="356.40" text-anchor="middle" font-size="10.9" fill="#111" >Relative IFN Signaling</text>
<rect x="233.30" y="308.30" width="10.20" height="9.20" fill="#d9d9d9" stroke="#2a2a2a" stroke-width="0.9" />
<rect x="233.30" y="319.70" width="10.20" height="9.40" fill="#5f97d3" stroke="#2a2a2a" stroke-width="0.9" />
<text x="245.00" y="316.90" text-anchor="start" font-size="10.8" fill="#111" >No Antagonist</text>
<text x="245.00" y="328.40" text-anchor="start" font-size="10.8" fill="#111" >DENV2 NS5</text>
<text x="319.20" y="144.30" text-anchor="start" font-size="16.3" fill="#111" >c</text>
<line x1="320.30" y1="195.77" x2="327.50" y2="195.77" stroke="#555" stroke-width="1.0" />
<line x1="327.50" y1="178.70" x2="327.50" y2="212.83" stroke="#555" stroke-width="1.0" />
<line x1="327.50" y1="179.20" x2="419.20" y2="179.20" stroke="#555" stroke-width="1.0" />
<line x1="327.50" y1="212.33" x2="338.70" y2="212.33" stroke="#555" stroke-width="1.0" />
<line x1="338.70" y1="190.07" x2="338.70" y2="234.60" stroke="#555" stroke-width="1.0" />
<line x1="338.70" y1="190.57" x2="419.20" y2="190.57" stroke="#555" stroke-width="1.0" />
<line x1="338.70" y1="234.10" x2="350.60" y2="234.10" stroke="#555" stroke-width="1.0" />
<line x1="350.60" y1="207.12" x2="350.60" y2="261.07" stroke="#555" stroke-width="1.0" />
<line x1="350.60" y1="207.62" x2="407.60" y2="207.62" stroke="#555" stroke-width="1.0" />
<line x1="407.60" y1="201.44" x2="407.60" y2="213.81" stroke="#555" stroke-width="1.0" />
<line x1="407.60" y1="201.94" x2="419.20" y2="201.94" stroke="#555" stroke-width="1.0" />
<line x1="407.60" y1="213.31" x2="419.20" y2="213.31" stroke="#555" stroke-width="1.0" />
<line x1="350.60" y1="260.57" x2="361.70" y2="260.57" stroke="#555" stroke-width="1.0" />
<line x1="361.70" y1="238.39" x2="361.70" y2="282.74" stroke="#555" stroke-width="1.0" />
<line x1="361.70" y1="238.89" x2="396.00" y2="238.89" stroke="#555" stroke-width="1.0" />
<line x1="396.00" y1="229.86" x2="396.00" y2="247.92" stroke="#555" stroke-width="1.0" />
<line x1="396.00" y1="247.42" x2="419.20" y2="247.42" stroke="#555" stroke-width="1.0" />
<line x1="396.00" y1="230.36" x2="407.60" y2="230.36" stroke="#555" stroke-width="1.0" />
<line x1="407.60" y1="224.18" x2="407.60" y2="236.55" stroke="#555" stroke-width="1.0" />
<line x1="407.60" y1="224.68" x2="419.20" y2="224.68" stroke="#555" stroke-width="1.0" />
<line x1="407.60" y1="236.05" x2="419.20" y2="236.05" stroke="#555" stroke-width="1.0" />
<line x1="361.70" y1="282.24" x2="373.60" y2="282.24" stroke="#555" stroke-width="1.0" />
<line x1="373.60" y1="263.97" x2="373.60" y2="300.51" stroke="#555" stroke-width="1.0" />
<line x1="373.60" y1="264.47" x2="407.60" y2="264.47" stroke="#555" stroke-width="1.0" />
<line x1="407.60" y1="258.29" x2="407.60" y2="270.66" stroke="#555" stroke-width="1.0" />
<line x1="407.60" y1="258.79" x2="419.20" y2="258.79" stroke="#555" stroke-width="1.0" />
<line x1="407.60" y1="270.16" x2="419.20" y2="270.16" stroke="#555" stroke-width="1.0" />
<line x1="373.60" y1="300.01" x2="384.40" y2="300.01" stroke="#555" stroke-width="1.0" />
<line x1="384.40" y1="286.71" x2="384.40" y2="313.30" stroke="#555" stroke-width="1.0" />
<line x1="384.40" y1="287.21" x2="407.60" y2="287.21" stroke="#555" stroke-width="1.0" />
<line x1="407.60" y1="281.03" x2="407.60" y2="293.40" stroke="#555" stroke-width="1.0" />
<line x1="407.60" y1="281.53" x2="419.20" y2="281.53" stroke="#555" stroke-width="1.0" />
<line x1="407.60" y1="292.90" x2="419.20" y2="292.90" stroke="#555" stroke-width="1.0" />
<line x1="384.40" y1="312.80" x2="396.00" y2="312.80" stroke="#555" stroke-width="1.0" />
<line x1="396.00" y1="303.77" x2="396.00" y2="321.82" stroke="#555" stroke-width="1.0" />
<line x1="396.00" y1="304.27" x2="419.20" y2="304.27" stroke="#555" stroke-width="1.0" />
<line x1="396.00" y1="321.32" x2="407.60" y2="321.32" stroke="#555" stroke-width="1.0" />
<line x1="407.60" y1="315.14" x2="407.60" y2="327.51" stroke="#555" stroke-width="1.0" />
<line x1="407.60" y1="315.64" x2="419.20" y2="315.64" stroke="#555" stroke-width="1.0" />
<line x1="407.60" y1="327.01" x2="419.20" y2="327.01" stroke="#555" stroke-width="1.0" />
<path d="M338.1 234.9 L320.8 240.3 L328.2 242.5 L329 250.3 Z" fill="#000" stroke="none" stroke-width="1" />
<text x="336.00" y="250.30" text-anchor="middle" font-size="9.4" fill="#111" >1</text>
<path d="M372.8 300.8 L355.7 306 L363 308.5 L363.6 316.6 Z" fill="#000" stroke="none" stroke-width="1" />
<text x="371.90" y="315.00" text-anchor="middle" font-size="9.4" fill="#111" >2</text>
<line x1="317.60" y1="330.00" x2="317.60" y2="334.40" stroke="#222" stroke-width="1" />
<text x="317.60" y="345.20" text-anchor="middle" font-size="10.8" fill="#111" >80</text>
<line x1="330.30" y1="330.00" x2="330.30" y2="332.30" stroke="#222" stroke-width="1" />
<line x1="343.00" y1="330.00" x2="343.00" y2="334.40" stroke="#222" stroke-width="1" />
<text x="343.00" y="345.20" text-anchor="middle" font-size="10.8" fill="#111" >60</text>
<line x1="355.70" y1="330.00" x2="355.70" y2="332.30" stroke="#222" stroke-width="1" />
<line x1="368.40" y1="330.00" x2="368.40" y2="334.40" stroke="#222" stroke-width="1" />
<text x="368.40" y="345.20" text-anchor="middle" font-size="10.8" fill="#111" >40</text>
<line x1="381.10" y1="330.00" x2="381.10" y2="332.30" stroke="#222" stroke-width="1" />
<line x1="393.80" y1="330.00" x2="393.80" y2="334.40" stroke="#222" stroke-width="1" />
<text x="393.80" y="345.20" text-anchor="middle" font-size="10.8" fill="#111" >20</text>
<line x1="406.50" y1="330.00" x2="406.50" y2="332.30" stroke="#222" stroke-width="1" />
<line x1="419.20" y1="330.00" x2="419.20" y2="334.40" stroke="#222" stroke-width="1" />
<text x="419.20" y="345.20" text-anchor="middle" font-size="10.8" fill="#111" >0</text>
<text x="367.90" y="356.30" text-anchor="middle" font-size="10.8" fill="#111" >Millions of Years</text>
<text x="424.60" y="356.30" text-anchor="start" font-size="10.8" fill="#3cb521" >*Resistant to DENV NS5</text>
<text x="531.60" y="182.70" text-anchor="end" font-size="10.8" fill="#111" font-style="italic" >Homo sapiens</text>
<text x="531.60" y="194.07" text-anchor="end" font-size="10.8" fill="#111" font-style="italic" >D. madagascarensis</text>
<text x="531.60" y="205.44" text-anchor="end" font-size="10.8" fill="#3cb521" font-style="italic" >Propithecus coquereli*</text>
<text x="531.60" y="216.81" text-anchor="end" font-size="10.8" fill="#3cb521" font-style="italic" >Propithecus tattersali*</text>
<text x="531.60" y="228.18" text-anchor="end" font-size="10.8" fill="#3cb521" font-style="italic" >Microcebus murinus*</text>
<text x="531.60" y="239.55" text-anchor="end" font-size="10.8" fill="#3cb521" font-style="italic" >Mirza zaza*</text>
<text x="531.60" y="250.92" text-anchor="end" font-size="10.8" fill="#3cb521" font-style="italic" >Cheirogaleus medius*</text>
<text x="531.60" y="262.29" text-anchor="end" font-size="10.8" fill="#3cb521" font-style="italic" >Varecia variegata*</text>
<text x="531.60" y="273.66" text-anchor="end" font-size="10.8" fill="#3cb521" font-style="italic" >Varecia rubra*</text>
<text x="531.60" y="285.03" text-anchor="end" font-size="10.8" fill="#111" font-style="italic" >Lemur catta</text>
<text x="531.60" y="296.40" text-anchor="end" font-size="10.8" fill="#111" font-style="italic" >Prolemur simus</text>
<text x="531.60" y="307.77" text-anchor="end" font-size="10.8" fill="#111" font-style="italic" >Eulemur flavifrons</text>
<text x="531.60" y="319.14" text-anchor="end" font-size="10.8" fill="#111" font-style="italic" >Eulemur fulvus</text>
<text x="531.60" y="330.51" text-anchor="end" font-size="10.8" fill="#111" font-style="italic" >Eulemur rufus</text>
<rect x="536.10" y="173.60" width="81.80" height="11.29" fill="#cbcbcb" stroke="none" stroke-width="1" />
<rect x="536.10" y="184.88" width="21.30" height="11.29" fill="#cbcbcb" stroke="none" stroke-width="1" />
<rect x="597.60" y="184.88" width="20.30" height="11.29" fill="#cbcbcb" stroke="none" stroke-width="1" />
<rect x="663.30" y="218.74" width="21.00" height="22.57" fill="#cbcbcb" stroke="none" stroke-width="1" />
<rect x="643.40" y="241.31" width="19.50" height="11.29" fill="#cbcbcb" stroke="none" stroke-width="1" />
<rect x="643.40" y="275.16" width="40.90" height="22.57" fill="#cbcbcb" stroke="none" stroke-width="1" />
<rect x="622.70" y="297.74" width="61.60" height="33.86" fill="#cbcbcb" stroke="none" stroke-width="1" />
<rect x="536.10" y="173.60" width="81.80" height="157.99" fill="none" stroke="#333" stroke-width="1" />
<rect x="622.70" y="173.60" width="61.60" height="157.99" fill="none" stroke="#333" stroke-width="1" />
<text x="546.30" y="183.14" text-anchor="middle" font-size="10.8" fill="#111" >P</text>
<text x="566.60" y="183.14" text-anchor="middle" font-size="10.8" fill="#111" >C</text>
<text x="587.40" y="183.14" text-anchor="middle" font-size="10.8" fill="#111" >I</text>
<text x="607.30" y="183.14" text-anchor="middle" font-size="10.8" fill="#111" >I</text>
<text x="632.30" y="183.14" text-anchor="middle" font-size="10.8" fill="#111" >L</text>
<text x="653.10" y="183.14" text-anchor="middle" font-size="10.8" fill="#111" >Q</text>
<text x="672.60" y="183.14" text-anchor="middle" font-size="10.8" fill="#111" >D</text>
<text x="546.30" y="194.43" text-anchor="middle" font-size="10.8" fill="#111" >P</text>
<text x="566.60" y="194.43" text-anchor="middle" font-size="10.8" fill="#111" >Y</text>
<text x="587.40" y="194.43" text-anchor="middle" font-size="10.8" fill="#111" >T</text>
<text x="607.30" y="194.43" text-anchor="middle" font-size="10.8" fill="#111" >L</text>
<text x="632.30" y="194.43" text-anchor="middle" font-size="10.8" fill="#111" >L</text>
<text x="653.10" y="194.43" text-anchor="middle" font-size="10.8" fill="#111" >Q</text>
<text x="672.60" y="194.43" text-anchor="middle" font-size="10.8" fill="#111" >D</text>
<text x="546.30" y="205.71" text-anchor="middle" font-size="10.8" fill="#111" >R</text>
<text x="566.60" y="205.71" text-anchor="middle" font-size="10.8" fill="#111" >Y</text>
<text x="587.40" y="205.71" text-anchor="middle" font-size="10.8" fill="#111" >T</text>
<text x="607.30" y="205.71" text-anchor="middle" font-size="10.8" fill="#111" >R</text>
<text x="632.30" y="205.71" text-anchor="middle" font-size="10.8" fill="#111" >L</text>
<text x="653.10" y="205.71" text-anchor="middle" font-size="10.8" fill="#111" >Q</text>
<text x="672.60" y="205.71" text-anchor="middle" font-size="10.8" fill="#111" >D</text>
<text x="546.30" y="217.00" text-anchor="middle" font-size="10.8" fill="#111" >R</text>
<text x="566.60" y="217.00" text-anchor="middle" font-size="10.8" fill="#111" >Y</text>
<text x="587.40" y="217.00" text-anchor="middle" font-size="10.8" fill="#111" >T</text>
<text x="607.30" y="217.00" text-anchor="middle" font-size="10.8" fill="#111" >R</text>
<text x="632.30" y="217.00" text-anchor="middle" font-size="10.8" fill="#111" >L</text>
<text x="653.10" y="217.00" text-anchor="middle" font-size="10.8" fill="#111" >Q</text>
<text x="672.60" y="217.00" text-anchor="middle" font-size="10.8" fill="#111" >D</text>
<text x="546.30" y="228.28" text-anchor="middle" font-size="10.8" fill="#111" >R</text>
<text x="566.60" y="228.28" text-anchor="middle" font-size="10.8" fill="#111" >Y</text>
<text x="587.40" y="228.28" text-anchor="middle" font-size="10.8" fill="#111" >T</text>
<text x="607.30" y="228.28" text-anchor="middle" font-size="10.8" fill="#111" >R</text>
<text x="632.30" y="228.28" text-anchor="middle" font-size="10.8" fill="#111" >L</text>
<text x="653.10" y="228.28" text-anchor="middle" font-size="10.8" fill="#111" >Q</text>
<text x="672.60" y="228.28" text-anchor="middle" font-size="10.8" fill="#111" >A</text>
<text x="546.30" y="239.57" text-anchor="middle" font-size="10.8" fill="#111" >R</text>
<text x="566.60" y="239.57" text-anchor="middle" font-size="10.8" fill="#111" >Y</text>
<text x="587.40" y="239.57" text-anchor="middle" font-size="10.8" fill="#111" >T</text>
<text x="607.30" y="239.57" text-anchor="middle" font-size="10.8" fill="#111" >R</text>
<text x="632.30" y="239.57" text-anchor="middle" font-size="10.8" fill="#111" >L</text>
<text x="653.10" y="239.57" text-anchor="middle" font-size="10.8" fill="#111" >Q</text>
<text x="672.60" y="239.57" text-anchor="middle" font-size="10.8" fill="#111" >A</text>
<text x="546.30" y="250.85" text-anchor="middle" font-size="10.8" fill="#111" >R</text>
<text x="566.60" y="250.85" text-anchor="middle" font-size="10.8" fill="#111" >Y</text>
<text x="587.40" y="250.85" text-anchor="middle" font-size="10.8" fill="#111" >T</text>
<text x="607.30" y="250.85" text-anchor="middle" font-size="10.8" fill="#111" >R</text>
<text x="632.30" y="250.85" text-anchor="middle" font-size="10.8" fill="#111" >L</text>
<text x="653.10" y="250.85" text-anchor="middle" font-size="10.8" fill="#111" >P</text>
<text x="672.60" y="250.85" text-anchor="middle" font-size="10.8" fill="#111" >D</text>
<text x="546.30" y="262.14" text-anchor="middle" font-size="10.8" fill="#111" >R</text>
<text x="566.60" y="262.14" text-anchor="middle" font-size="10.8" fill="#111" >Y</text>
<text x="587.40" y="262.14" text-anchor="middle" font-size="10.8" fill="#111" >T</text>
<text x="607.30" y="262.14" text-anchor="middle" font-size="10.8" fill="#111" >R</text>
<text x="632.30" y="262.14" text-anchor="middle" font-size="10.8" fill="#111" >L</text>
<text x="653.10" y="262.14" text-anchor="middle" font-size="10.8" fill="#111" >Q</text>
<text x="672.60" y="262.14" text-anchor="middle" font-size="10.8" fill="#111" >D</text>
<text x="546.30" y="273.42" text-anchor="middle" font-size="10.8" fill="#111" >R</text>
<text x="566.60" y="273.42" text-anchor="middle" font-size="10.8" fill="#111" >Y</text>
<text x="587.40" y="273.42" text-anchor="middle" font-size="10.8" fill="#111" >T</text>
<text x="607.30" y="273.42" text-anchor="middle" font-size="10.8" fill="#111" >R</text>
<text x="632.30" y="273.42" text-anchor="middle" font-size="10.8" fill="#111" >L</text>
<text x="653.10" y="273.42" text-anchor="middle" font-size="10.8" fill="#111" >Q</text>
<text x="672.60" y="273.42" text-anchor="middle" font-size="10.8" fill="#111" >D</text>
<text x="546.30" y="284.71" text-anchor="middle" font-size="10.8" fill="#111" >R</text>
<text x="566.60" y="284.71" text-anchor="middle" font-size="10.8" fill="#111" >Y</text>
<text x="587.40" y="284.71" text-anchor="middle" font-size="10.8" fill="#111" >T</text>
<text x="607.30" y="284.71" text-anchor="middle" font-size="10.8" fill="#111" >R</text>
<text x="632.30" y="284.71" text-anchor="middle" font-size="10.8" fill="#111" >L</text>
<text x="653.10" y="284.71" text-anchor="middle" font-size="10.8" fill="#111" >K</text>
<text x="672.60" y="284.71" text-anchor="middle" font-size="10.8" fill="#111" >G</text>
<text x="546.30" y="295.99" text-anchor="middle" font-size="10.8" fill="#111" >R</text>
<text x="566.60" y="295.99" text-anchor="middle" font-size="10.8" fill="#111" >Y</text>
<text x="587.40" y="295.99" text-anchor="middle" font-size="10.8" fill="#111" >T</text>
<text x="607.30" y="295.99" text-anchor="middle" font-size="10.8" fill="#111" >R</text>
<text x="632.30" y="295.99" text-anchor="middle" font-size="10.8" fill="#111" >L</text>
<text x="653.10" y="295.99" text-anchor="middle" font-size="10.8" fill="#111" >K</text>
<text x="672.60" y="295.99" text-anchor="middle" font-size="10.8" fill="#111" >G</text>
<text x="546.30" y="307.28" text-anchor="middle" font-size="10.8" fill="#111" >R</text>
<text x="566.60" y="307.28" text-anchor="middle" font-size="10.8" fill="#111" >Y</text>
<text x="587.40" y="307.28" text-anchor="middle" font-size="10.8" fill="#111" >T</text>
<text x="607.30" y="307.28" text-anchor="middle" font-size="10.8" fill="#111" >R</text>
<text x="632.30" y="307.28" text-anchor="middle" font-size="10.8" fill="#111" >S</text>
<text x="653.10" y="307.28" text-anchor="middle" font-size="10.8" fill="#111" >E</text>
<text x="672.60" y="307.28" text-anchor="middle" font-size="10.8" fill="#111" >R</text>
<text x="546.30" y="318.56" text-anchor="middle" font-size="10.8" fill="#111" >R</text>
<text x="566.60" y="318.56" text-anchor="middle" font-size="10.8" fill="#111" >Y</text>
<text x="587.40" y="318.56" text-anchor="middle" font-size="10.8" fill="#111" >T</text>
<text x="607.30" y="318.56" text-anchor="middle" font-size="10.8" fill="#111" >R</text>
<text x="632.30" y="318.56" text-anchor="middle" font-size="10.8" fill="#111" >S</text>
<text x="653.10" y="318.56" text-anchor="middle" font-size="10.8" fill="#111" >E</text>
<text x="672.60" y="318.56" text-anchor="middle" font-size="10.8" fill="#111" >R</text>
<text x="546.30" y="329.85" text-anchor="middle" font-size="10.8" fill="#111" >R</text>
<text x="566.60" y="329.85" text-anchor="middle" font-size="10.8" fill="#111" >Y</text>
<text x="587.40" y="329.85" text-anchor="middle" font-size="10.8" fill="#111" >T</text>
<text x="607.30" y="329.85" text-anchor="middle" font-size="10.8" fill="#111" >R</text>
<text x="632.30" y="329.85" text-anchor="middle" font-size="10.8" fill="#111" >S</text>
<text x="653.10" y="329.85" text-anchor="middle" font-size="10.8" fill="#111" >E</text>
<text x="672.60" y="329.85" text-anchor="middle" font-size="10.8" fill="#111" >R</text>
<text x="577.00" y="146.90" text-anchor="middle" font-size="10.8" fill="#111" >Resistance</text>
<text x="577.00" y="159.30" text-anchor="middle" font-size="10.8" fill="#111" >Determinants</text>
<text x="653.30" y="146.90" text-anchor="middle" font-size="10.8" fill="#111" >Susceptibility</text>
<text x="653.50" y="159.30" text-anchor="middle" font-size="10.8" fill="#111" >Determinants</text>
<text x="546.30" y="171.90" text-anchor="middle" font-size="10.8" fill="#111" >78</text>
<text x="566.60" y="171.90" text-anchor="middle" font-size="10.8" fill="#111" >91</text>
<text x="587.40" y="171.90" text-anchor="middle" font-size="10.8" fill="#111" >179</text>
<text x="607.30" y="171.90" text-anchor="middle" font-size="10.8" fill="#111" >198</text>
<text x="632.30" y="171.90" text-anchor="middle" font-size="10.8" fill="#111" >127</text>
<text x="653.10" y="171.90" text-anchor="middle" font-size="10.8" fill="#111" >289</text>
<text x="672.60" y="171.90" text-anchor="middle" font-size="10.8" fill="#111" >290</text>
<text x="7.80" y="390.20" text-anchor="start" font-size="16.3" fill="#111" >d</text>
<rect x="152.40" y="379.30" width="130.30" height="5.70" fill="#d9d9d9" stroke="#2a2a2a" stroke-width="0.8" />
<rect x="152.40" y="385.00" width="40.20" height="5.70" fill="#5f97d3" stroke="#2a2a2a" stroke-width="0.8" />
<text x="148.30" y="388.80" text-anchor="end" font-size="10.8" fill="#111" font-style="italic" >Homo sapiens</text>
<line x1="281.44" y1="382.15" x2="286.90" y2="382.15" stroke="#111" stroke-width="0.8" />
<line x1="281.44" y1="380.25" x2="281.44" y2="384.05" stroke="#111" stroke-width="0.8" />
<line x1="286.90" y1="380.25" x2="286.90" y2="384.05" stroke="#111" stroke-width="0.8" />
<circle cx="281.14" cy="381.62" r="1.2" fill="#000" />
<circle cx="282.00" cy="382.87" r="1.2" fill="#000" />
<circle cx="282.98" cy="382.11" r="1.2" fill="#000" />
<circle cx="285.96" cy="382.69" r="1.2" fill="#000" />
<circle cx="286.48" cy="382.44" r="1.2" fill="#000" />
<circle cx="287.96" cy="382.66" r="1.2" fill="#000" />
<line x1="172.26" y1="387.85" x2="202.03" y2="387.85" stroke="#111" stroke-width="0.8" />
<line x1="172.26" y1="385.95" x2="172.26" y2="389.75" stroke="#111" stroke-width="0.8" />
<line x1="202.03" y1="385.95" x2="202.03" y2="389.75" stroke="#111" stroke-width="0.8" />
<circle cx="172.51" cy="387.81" r="1.2" fill="#000" />
<circle cx="174.32" cy="388.37" r="1.2" fill="#000" />
<circle cx="178.64" cy="388.39" r="1.2" fill="#000" />
<circle cx="196.55" cy="387.66" r="1.2" fill="#000" />
<circle cx="201.94" cy="388.65" r="1.2" fill="#000" />
<circle cx="205.83" cy="387.26" r="1.2" fill="#000" />
<rect x="152.40" y="399.40" width="128.60" height="5.70" fill="#d9d9d9" stroke="#2a2a2a" stroke-width="0.8" />
<rect x="152.40" y="405.10" width="125.60" height="5.70" fill="#5f97d3" stroke="#2a2a2a" stroke-width="0.8" />
<text x="148.30" y="408.90" text-anchor="end" font-size="10.8" fill="#111" >ND/CCD</text>
<line x1="278.96" y1="402.25" x2="286.90" y2="402.25" stroke="#111" stroke-width="0.8" />
<line x1="278.96" y1="400.35" x2="278.96" y2="404.15" stroke="#111" stroke-width="0.8" />
<line x1="286.90" y1="400.35" x2="286.90" y2="404.15" stroke="#111" stroke-width="0.8" />
<circle cx="278.58" cy="401.62" r="1.2" fill="#000" />
<circle cx="280.00" cy="402.80" r="1.2" fill="#000" />
<circle cx="280.35" cy="402.84" r="1.2" fill="#000" />
<circle cx="285.79" cy="402.53" r="1.2" fill="#000" />
<circle cx="286.75" cy="402.34" r="1.2" fill="#000" />
<circle cx="287.48" cy="401.38" r="1.2" fill="#000" />
<line x1="272.75" y1="407.95" x2="280.20" y2="407.95" stroke="#111" stroke-width="0.8" />
<line x1="272.75" y1="406.05" x2="272.75" y2="409.85" stroke="#111" stroke-width="0.8" />
<line x1="280.20" y1="406.05" x2="280.20" y2="409.85" stroke="#111" stroke-width="0.8" />
<circle cx="273.23" cy="408.22" r="1.2" fill="#000" />
<circle cx="273.38" cy="408.73" r="1.2" fill="#000" />
<circle cx="274.33" cy="408.62" r="1.2" fill="#000" />
<circle cx="279.04" cy="407.43" r="1.2" fill="#000" />
<circle cx="279.95" cy="407.58" r="1.2" fill="#000" />
<circle cx="280.83" cy="408.11" r="1.2" fill="#000" />
<rect x="152.40" y="412.70" width="119.10" height="5.70" fill="#d9d9d9" stroke="#2a2a2a" stroke-width="0.8" />
<rect x="152.40" y="418.40" width="114.20" height="5.70" fill="#5f97d3" stroke="#2a2a2a" stroke-width="0.8" />
<text x="148.30" y="422.20" text-anchor="end" font-size="10.8" fill="#111" >Q289K</text>
<line x1="269.53" y1="415.55" x2="278.96" y2="415.55" stroke="#111" stroke-width="0.8" />
<line x1="269.53" y1="413.65" x2="269.53" y2="417.45" stroke="#111" stroke-width="0.8" />
<line x1="278.96" y1="413.65" x2="278.96" y2="417.45" stroke="#111" stroke-width="0.8" />
<circle cx="269.29" cy="415.40" r="1.2" fill="#000" />
<circle cx="269.91" cy="416.29" r="1.2" fill="#000" />
<circle cx="271.46" cy="415.47" r="1.2" fill="#000" />
<circle cx="277.16" cy="416.28" r="1.2" fill="#000" />
<circle cx="278.88" cy="416.30" r="1.2" fill="#000" />
<circle cx="280.09" cy="415.61" r="1.2" fill="#000" />
<line x1="259.60" y1="421.25" x2="275.24" y2="421.25" stroke="#111" stroke-width="0.8" />
<line x1="259.60" y1="419.35" x2="259.60" y2="423.15" stroke="#111" stroke-width="0.8" />
<line x1="275.24" y1="419.35" x2="275.24" y2="423.15" stroke="#111" stroke-width="0.8" />
<circle cx="259.63" cy="420.38" r="1.2" fill="#000" />
<circle cx="260.79" cy="420.68" r="1.2" fill="#000" />
<circle cx="262.55" cy="421.79" r="1.2" fill="#000" />
<circle cx="271.78" cy="421.20" r="1.2" fill="#000" />
<circle cx="275.46" cy="421.35" r="1.2" fill="#000" />
<circle cx="276.94" cy="421.28" r="1.2" fill="#000" />
<rect x="152.40" y="426.00" width="57.10" height="5.70" fill="#d9d9d9" stroke="#2a2a2a" stroke-width="0.8" />
<rect x="152.40" y="431.70" width="39.20" height="5.70" fill="#5f97d3" stroke="#2a2a2a" stroke-width="0.8" />
<text x="148.30" y="435.50" text-anchor="end" font-size="10.8" fill="#111" >D290G</text>
<line x1="203.28" y1="428.85" x2="213.20" y2="428.85" stroke="#111" stroke-width="0.8" />
<line x1="203.28" y1="426.95" x2="203.28" y2="430.75" stroke="#111" stroke-width="0.8" />
<line x1="213.20" y1="426.95" x2="213.20" y2="430.75" stroke="#111" stroke-width="0.8" />
<circle cx="203.33" cy="429.36" r="1.2" fill="#000" />
<circle cx="203.68" cy="428.96" r="1.2" fill="#000" />
<circle cx="205.21" cy="428.45" r="1.2" fill="#000" />
<circle cx="211.49" cy="428.86" r="1.2" fill="#000" />
<circle cx="213.26" cy="429.32" r="1.2" fill="#000" />
<circle cx="214.80" cy="428.75" r="1.2" fill="#000" />
<line x1="169.78" y1="434.55" x2="204.52" y2="434.55" stroke="#111" stroke-width="0.8" />
<line x1="169.78" y1="432.65" x2="169.78" y2="436.45" stroke="#111" stroke-width="0.8" />
<line x1="204.52" y1="432.65" x2="204.52" y2="436.45" stroke="#111" stroke-width="0.8" />
<circle cx="169.89" cy="434.56" r="1.2" fill="#000" />
<circle cx="172.57" cy="434.90" r="1.2" fill="#000" />
<circle cx="177.37" cy="434.61" r="1.2" fill="#000" />
<circle cx="197.55" cy="435.34" r="1.2" fill="#000" />
<circle cx="204.72" cy="435.23" r="1.2" fill="#000" />
<circle cx="209.13" cy="434.12" r="1.2" fill="#000" />
<rect x="152.40" y="439.30" width="125.80" height="5.70" fill="#d9d9d9" stroke="#2a2a2a" stroke-width="0.8" />
<rect x="152.40" y="445.00" width="65.30" height="5.70" fill="#5f97d3" stroke="#2a2a2a" stroke-width="0.8" />
<text x="148.30" y="448.80" text-anchor="end" font-size="10.8" fill="#111" >Q289K/D290G</text>
<line x1="272.75" y1="442.15" x2="279.45" y2="442.15" stroke="#111" stroke-width="0.8" />
<line x1="272.75" y1="440.25" x2="272.75" y2="444.05" stroke="#111" stroke-width="0.8" />
<line x1="279.45" y1="440.25" x2="279.45" y2="444.05" stroke="#111" stroke-width="0.8" />
<circle cx="272.81" cy="442.95" r="1.2" fill="#000" />
<circle cx="273.63" cy="441.50" r="1.2" fill="#000" />
<circle cx="273.85" cy="442.05" r="1.2" fill="#000" />
<circle cx="277.69" cy="441.68" r="1.2" fill="#000" />
<circle cx="279.03" cy="442.46" r="1.2" fill="#000" />
<circle cx="280.54" cy="442.86" r="1.2" fill="#000" />
<line x1="207.00" y1="447.85" x2="225.61" y2="447.85" stroke="#111" stroke-width="0.8" />
<line x1="207.00" y1="445.95" x2="207.00" y2="449.75" stroke="#111" stroke-width="0.8" />
<line x1="225.61" y1="445.95" x2="225.61" y2="449.75" stroke="#111" stroke-width="0.8" />
<circle cx="206.65" cy="448.24" r="1.2" fill="#000" />
<circle cx="208.65" cy="447.21" r="1.2" fill="#000" />
<circle cx="211.47" cy="448.69" r="1.2" fill="#000" />
<circle cx="221.61" cy="448.66" r="1.2" fill="#000" />
<circle cx="225.51" cy="447.83" r="1.2" fill="#000" />
<circle cx="228.33" cy="448.45" r="1.2" fill="#000" />
<rect x="152.40" y="459.50" width="117.90" height="5.70" fill="#d9d9d9" stroke="#2a2a2a" stroke-width="0.8" />
<rect x="152.40" y="465.20" width="67.00" height="5.70" fill="#5f97d3" stroke="#2a2a2a" stroke-width="0.8" />
<text x="148.30" y="469.00" text-anchor="end" font-size="10.8" fill="#111" >NC/CCD</text>
<line x1="264.07" y1="462.35" x2="275.24" y2="462.35" stroke="#111" stroke-width="0.8" />
<line x1="264.07" y1="460.45" x2="264.07" y2="464.25" stroke="#111" stroke-width="0.8" />
<line x1="275.24" y1="460.45" x2="275.24" y2="464.25" stroke="#111" stroke-width="0.8" />
<circle cx="263.73" cy="462.23" r="1.2" fill="#000" />
<circle cx="264.98" cy="462.06" r="1.2" fill="#000" />
<circle cx="266.22" cy="462.02" r="1.2" fill="#000" />
<circle cx="273.22" cy="461.49" r="1.2" fill="#000" />
<circle cx="275.29" cy="462.24" r="1.2" fill="#000" />
<circle cx="276.09" cy="462.05" r="1.2" fill="#000" />
<line x1="210.72" y1="468.05" x2="225.61" y2="468.05" stroke="#111" stroke-width="0.8" />
<line x1="210.72" y1="466.15" x2="210.72" y2="469.95" stroke="#111" stroke-width="0.8" />
<line x1="225.61" y1="466.15" x2="225.61" y2="469.95" stroke="#111" stroke-width="0.8" />
<circle cx="210.84" cy="468.07" r="1.2" fill="#000" />
<circle cx="211.47" cy="468.92" r="1.2" fill="#000" />
<circle cx="214.28" cy="468.90" r="1.2" fill="#000" />
<circle cx="222.24" cy="467.63" r="1.2" fill="#000" />
<circle cx="225.15" cy="468.55" r="1.2" fill="#000" />
<circle cx="227.16" cy="467.38" r="1.2" fill="#000" />
<rect x="152.40" y="472.80" width="132.30" height="5.70" fill="#d9d9d9" stroke="#2a2a2a" stroke-width="0.8" />
<rect x="152.40" y="478.50" width="93.10" height="5.70" fill="#5f97d3" stroke="#2a2a2a" stroke-width="0.8" />
<text x="148.30" y="482.30" text-anchor="end" font-size="10.8" fill="#111" >K289Q</text>
<line x1="275.24" y1="475.65" x2="290.12" y2="475.65" stroke="#111" stroke-width="0.8" />
<line x1="275.24" y1="473.75" x2="275.24" y2="477.55" stroke="#111" stroke-width="0.8" />
<line x1="290.12" y1="473.75" x2="290.12" y2="477.55" stroke="#111" stroke-width="0.8" />
<circle cx="275.16" cy="476.39" r="1.2" fill="#000" />
<circle cx="276.75" cy="475.22" r="1.2" fill="#000" />
<circle cx="278.16" cy="476.40" r="1.2" fill="#000" />
<circle cx="287.22" cy="476.01" r="1.2" fill="#000" />
<circle cx="289.71" cy="474.85" r="1.2" fill="#000" />
<circle cx="292.10" cy="475.52" r="1.2" fill="#000" />
<line x1="238.01" y1="481.35" x2="252.90" y2="481.35" stroke="#111" stroke-width="0.8" />
<line x1="238.01" y1="479.45" x2="238.01" y2="483.25" stroke="#111" stroke-width="0.8" />
<line x1="252.90" y1="479.45" x2="252.90" y2="483.25" stroke="#111" stroke-width="0.8" />
<circle cx="237.59" cy="482.14" r="1.2" fill="#000" />
<circle cx="239.34" cy="481.89" r="1.2" fill="#000" />
<circle cx="240.87" cy="481.99" r="1.2" fill="#000" />
<circle cx="249.49" cy="482.00" r="1.2" fill="#000" />
<circle cx="252.86" cy="481.06" r="1.2" fill="#000" />
<circle cx="254.74" cy="482.12" r="1.2" fill="#000" />
<rect x="152.40" y="486.10" width="52.90" height="5.70" fill="#d9d9d9" stroke="#2a2a2a" stroke-width="0.8" />
<rect x="152.40" y="491.80" width="51.60" height="5.70" fill="#5f97d3" stroke="#2a2a2a" stroke-width="0.8" />
<text x="148.30" y="495.60" text-anchor="end" font-size="10.8" fill="#111" >G290D</text>
<line x1="194.59" y1="488.95" x2="214.44" y2="488.95" stroke="#111" stroke-width="0.8" />
<line x1="194.59" y1="487.05" x2="194.59" y2="490.85" stroke="#111" stroke-width="0.8" />
<line x1="214.44" y1="487.05" x2="214.44" y2="490.85" stroke="#111" stroke-width="0.8" />
<circle cx="194.36" cy="488.28" r="1.2" fill="#000" />
<circle cx="196.21" cy="488.48" r="1.2" fill="#000" />
<circle cx="198.57" cy="488.34" r="1.2" fill="#000" />
<circle cx="210.02" cy="488.41" r="1.2" fill="#000" />
<circle cx="214.25" cy="488.60" r="1.2" fill="#000" />
<circle cx="217.08" cy="488.57" r="1.2" fill="#000" />
<line x1="193.35" y1="494.65" x2="213.20" y2="494.65" stroke="#111" stroke-width="0.8" />
<line x1="193.35" y1="492.75" x2="193.35" y2="496.55" stroke="#111" stroke-width="0.8" />
<line x1="213.20" y1="492.75" x2="213.20" y2="496.55" stroke="#111" stroke-width="0.8" />
<circle cx="193.35" cy="494.07" r="1.2" fill="#000" />
<circle cx="194.78" cy="493.78" r="1.2" fill="#000" />
<circle cx="197.47" cy="493.78" r="1.2" fill="#000" />
<circle cx="209.46" cy="494.74" r="1.2" fill="#000" />
<circle cx="212.89" cy="494.60" r="1.2" fill="#000" />
<circle cx="216.02" cy="493.94" r="1.2" fill="#000" />
<rect x="152.40" y="499.40" width="129.00" height="5.70" fill="#d9d9d9" stroke="#2a2a2a" stroke-width="0.8" />
<rect x="152.40" y="505.10" width="136.00" height="5.70" fill="#5f97d3" stroke="#2a2a2a" stroke-width="0.8" />
<text x="148.30" y="508.90" text-anchor="end" font-size="10.8" fill="#111" >K289Q/G290D</text>
<line x1="272.75" y1="502.25" x2="288.88" y2="502.25" stroke="#111" stroke-width="0.8" />
<line x1="272.75" y1="500.35" x2="272.75" y2="504.15" stroke="#111" stroke-width="0.8" />
<line x1="288.88" y1="500.35" x2="288.88" y2="504.15" stroke="#111" stroke-width="0.8" />
<circle cx="273.07" cy="502.13" r="1.2" fill="#000" />
<circle cx="274.04" cy="502.85" r="1.2" fill="#000" />
<circle cx="276.20" cy="502.26" r="1.2" fill="#000" />
<circle cx="285.85" cy="503.12" r="1.2" fill="#000" />
<circle cx="288.73" cy="502.85" r="1.2" fill="#000" />
<circle cx="291.03" cy="502.49" r="1.2" fill="#000" />
<line x1="286.40" y1="507.95" x2="292.61" y2="507.95" stroke="#111" stroke-width="0.8" />
<line x1="286.40" y1="506.05" x2="286.40" y2="509.85" stroke="#111" stroke-width="0.8" />
<line x1="292.61" y1="506.05" x2="292.61" y2="509.85" stroke="#111" stroke-width="0.8" />
<circle cx="286.31" cy="507.68" r="1.2" fill="#000" />
<circle cx="286.45" cy="507.28" r="1.2" fill="#000" />
<circle cx="287.34" cy="508.38" r="1.2" fill="#000" />
<circle cx="291.12" cy="507.34" r="1.2" fill="#000" />
<circle cx="292.19" cy="508.56" r="1.2" fill="#000" />
<circle cx="293.72" cy="508.26" r="1.2" fill="#000" />
<rect x="152.40" y="519.60" width="47.90" height="5.70" fill="#d9d9d9" stroke="#2a2a2a" stroke-width="0.8" />
<rect x="152.40" y="525.30" width="36.00" height="5.70" fill="#5f97d3" stroke="#2a2a2a" stroke-width="0.8" />
<text x="148.30" y="529.10" text-anchor="end" font-size="10.8" fill="#111" >L127S</text>
<line x1="199.55" y1="522.45" x2="208.24" y2="522.45" stroke="#111" stroke-width="0.8" />
<line x1="199.55" y1="520.55" x2="199.55" y2="524.35" stroke="#111" stroke-width="0.8" />
<line x1="208.24" y1="520.55" x2="208.24" y2="524.35" stroke="#111" stroke-width="0.8" />
<circle cx="199.34" cy="521.99" r="1.2" fill="#000" />
<circle cx="200.04" cy="522.38" r="1.2" fill="#000" />
<circle cx="201.12" cy="522.35" r="1.2" fill="#000" />
<circle cx="206.26" cy="523.28" r="1.2" fill="#000" />
<circle cx="208.71" cy="522.53" r="1.2" fill="#000" />
<circle cx="209.02" cy="523.29" r="1.2" fill="#000" />
<line x1="167.30" y1="528.15" x2="200.79" y2="528.15" stroke="#111" stroke-width="0.8" />
<line x1="167.30" y1="526.25" x2="167.30" y2="530.05" stroke="#111" stroke-width="0.8" />
<line x1="200.79" y1="526.25" x2="200.79" y2="530.05" stroke="#111" stroke-width="0.8" />
<circle cx="167.10" cy="527.89" r="1.2" fill="#000" />
<circle cx="169.48" cy="527.94" r="1.2" fill="#000" />
<circle cx="174.64" cy="528.15" r="1.2" fill="#000" />
<circle cx="193.80" cy="528.16" r="1.2" fill="#000" />
<circle cx="200.30" cy="527.73" r="1.2" fill="#000" />
<circle cx="204.40" cy="527.97" r="1.2" fill="#000" />
<rect x="152.40" y="532.90" width="137.70" height="5.70" fill="#d9d9d9" stroke="#2a2a2a" stroke-width="0.8" />
<rect x="152.40" y="538.60" width="105.00" height="5.70" fill="#5f97d3" stroke="#2a2a2a" stroke-width="0.8" />
<text x="148.30" y="542.40" text-anchor="end" font-size="10.8" fill="#111" >K289E</text>
<line x1="286.40" y1="535.75" x2="296.33" y2="535.75" stroke="#111" stroke-width="0.8" />
<line x1="286.40" y1="533.85" x2="286.40" y2="537.65" stroke="#111" stroke-width="0.8" />
<line x1="296.33" y1="533.85" x2="296.33" y2="537.65" stroke="#111" stroke-width="0.8" />
<circle cx="285.94" cy="534.89" r="1.2" fill="#000" />
<circle cx="287.00" cy="535.27" r="1.2" fill="#000" />
<circle cx="288.67" cy="535.80" r="1.2" fill="#000" />
<circle cx="294.59" cy="536.03" r="1.2" fill="#000" />
<circle cx="296.54" cy="536.43" r="1.2" fill="#000" />
<circle cx="297.41" cy="535.44" r="1.2" fill="#000" />
<line x1="251.66" y1="541.45" x2="264.07" y2="541.45" stroke="#111" stroke-width="0.8" />
<line x1="251.66" y1="539.55" x2="251.66" y2="543.35" stroke="#111" stroke-width="0.8" />
<line x1="264.07" y1="539.55" x2="264.07" y2="543.35" stroke="#111" stroke-width="0.8" />
<circle cx="252.15" cy="540.82" r="1.2" fill="#000" />
<circle cx="252.88" cy="541.71" r="1.2" fill="#000" />
<circle cx="253.94" cy="542.05" r="1.2" fill="#000" />
<circle cx="261.98" cy="541.68" r="1.2" fill="#000" />
<circle cx="264.30" cy="542.01" r="1.2" fill="#000" />
<circle cx="265.20" cy="541.49" r="1.2" fill="#000" />
<rect x="152.40" y="546.20" width="52.90" height="5.70" fill="#d9d9d9" stroke="#2a2a2a" stroke-width="0.8" />
<rect x="152.40" y="551.90" width="43.40" height="5.70" fill="#5f97d3" stroke="#2a2a2a" stroke-width="0.8" />
<text x="148.30" y="555.70" text-anchor="end" font-size="10.8" fill="#111" >G290R</text>
<line x1="194.59" y1="549.05" x2="213.20" y2="549.05" stroke="#111" stroke-width="0.8" />
<line x1="194.59" y1="547.15" x2="194.59" y2="550.95" stroke="#111" stroke-width="0.8" />
<line x1="213.20" y1="547.15" x2="213.20" y2="550.95" stroke="#111" stroke-width="0.8" />
<circle cx="194.59" cy="549.65" r="1.2" fill="#000" />
<circle cx="196.38" cy="549.64" r="1.2" fill="#000" />
<circle cx="198.77" cy="549.76" r="1.2" fill="#000" />
<circle cx="209.66" cy="549.40" r="1.2" fill="#000" />
<circle cx="212.93" cy="548.21" r="1.2" fill="#000" />
<circle cx="215.07" cy="548.80" r="1.2" fill="#000" />
<line x1="185.91" y1="554.75" x2="202.03" y2="554.75" stroke="#111" stroke-width="0.8" />
<line x1="185.91" y1="552.85" x2="185.91" y2="556.65" stroke="#111" stroke-width="0.8" />
<line x1="202.03" y1="552.85" x2="202.03" y2="556.65" stroke="#111" stroke-width="0.8" />
<circle cx="185.51" cy="555.35" r="1.2" fill="#000" />
<circle cx="187.25" cy="554.98" r="1.2" fill="#000" />
<circle cx="189.58" cy="555.08" r="1.2" fill="#000" />
<circle cx="198.80" cy="553.86" r="1.2" fill="#000" />
<circle cx="202.33" cy="555.20" r="1.2" fill="#000" />
<circle cx="203.97" cy="554.81" r="1.2" fill="#000" />
<rect x="152.40" y="559.50" width="141.40" height="5.70" fill="#d9d9d9" stroke="#2a2a2a" stroke-width="0.8" />
<rect x="152.40" y="565.20" width="55.10" height="5.70" fill="#5f97d3" stroke="#2a2a2a" stroke-width="0.8" />
<text x="148.30" y="569.00" text-anchor="end" font-size="10.8" fill="#111" >L127S/K289E</text>
<line x1="286.90" y1="562.35" x2="301.29" y2="562.35" stroke="#111" stroke-width="0.8" />
<line x1="286.90" y1="560.45" x2="286.90" y2="564.25" stroke="#111" stroke-width="0.8" />
<line x1="301.29" y1="560.45" x2="301.29" y2="564.25" stroke="#111" stroke-width="0.8" />
<circle cx="287.06" cy="561.57" r="1.2" fill="#000" />
<circle cx="288.29" cy="561.90" r="1.2" fill="#000" />
<circle cx="289.64" cy="561.93" r="1.2" fill="#000" />
<circle cx="298.64" cy="561.82" r="1.2" fill="#000" />
<circle cx="301.53" cy="563.21" r="1.2" fill="#000" />
<circle cx="303.01" cy="562.14" r="1.2" fill="#000" />
<line x1="193.35" y1="568.05" x2="215.68" y2="568.05" stroke="#111" stroke-width="0.8" />
<line x1="193.35" y1="566.15" x2="193.35" y2="569.95" stroke="#111" stroke-width="0.8" />
<line x1="215.68" y1="566.15" x2="215.68" y2="569.95" stroke="#111" stroke-width="0.8" />
<circle cx="193.33" cy="568.38" r="1.2" fill="#000" />
<circle cx="195.40" cy="568.26" r="1.2" fill="#000" />
<circle cx="198.41" cy="567.29" r="1.2" fill="#000" />
<circle cx="210.86" cy="567.61" r="1.2" fill="#000" />
<circle cx="215.93" cy="567.70" r="1.2" fill="#000" />
<circle cx="218.43" cy="567.17" r="1.2" fill="#000" />
<rect x="152.40" y="572.80" width="104.20" height="5.70" fill="#d9d9d9" stroke="#2a2a2a" stroke-width="0.8" />
<rect x="152.40" y="578.50" width="42.20" height="5.70" fill="#5f97d3" stroke="#2a2a2a" stroke-width="0.8" />
<text x="148.30" y="582.30" text-anchor="end" font-size="10.8" fill="#111" >L127S/G290R</text>
<line x1="249.18" y1="575.65" x2="266.55" y2="575.65" stroke="#111" stroke-width="0.8" />
<line x1="249.18" y1="573.75" x2="249.18" y2="577.55" stroke="#111" stroke-width="0.8" />
<line x1="266.55" y1="573.75" x2="266.55" y2="577.55" stroke="#111" stroke-width="0.8" />
<circle cx="248.74" cy="575.23" r="1.2" fill="#000" />
<circle cx="250.74" cy="576.00" r="1.2" fill="#000" />
<circle cx="253.18" cy="575.27" r="1.2" fill="#000" />
<circle cx="263.09" cy="575.59" r="1.2" fill="#000" />
<circle cx="266.52" cy="574.96" r="1.2" fill="#000" />
<circle cx="269.03" cy="575.11" r="1.2" fill="#000" />
<line x1="188.39" y1="581.35" x2="202.03" y2="581.35" stroke="#111" stroke-width="0.8" />
<line x1="188.39" y1="579.45" x2="188.39" y2="583.25" stroke="#111" stroke-width="0.8" />
<line x1="202.03" y1="579.45" x2="202.03" y2="583.25" stroke="#111" stroke-width="0.8" />
<circle cx="188.87" cy="582.14" r="1.2" fill="#000" />
<circle cx="189.00" cy="581.28" r="1.2" fill="#000" />
<circle cx="191.71" cy="582.19" r="1.2" fill="#000" />
<circle cx="199.25" cy="580.93" r="1.2" fill="#000" />
<circle cx="201.74" cy="582.15" r="1.2" fill="#000" />
<circle cx="203.38" cy="581.50" r="1.2" fill="#000" />
<rect x="152.40" y="586.10" width="53.90" height="5.70" fill="#d9d9d9" stroke="#2a2a2a" stroke-width="0.8" />
<rect x="152.40" y="591.80" width="35.20" height="5.70" fill="#5f97d3" stroke="#2a2a2a" stroke-width="0.8" />
<text x="148.30" y="595.60" text-anchor="end" font-size="10.8" fill="#111" >K289E/G290R</text>
<line x1="198.31" y1="588.95" x2="211.96" y2="588.95" stroke="#111" stroke-width="0.8" />
<line x1="198.31" y1="587.05" x2="198.31" y2="590.85" stroke="#111" stroke-width="0.8" />
<line x1="211.96" y1="587.05" x2="211.96" y2="590.85" stroke="#111" stroke-width="0.8" />
<circle cx="197.95" cy="588.99" r="1.2" fill="#000" />
<circle cx="199.86" cy="588.29" r="1.2" fill="#000" />
<circle cx="201.64" cy="588.97" r="1.2" fill="#000" />
<circle cx="209.62" cy="589.32" r="1.2" fill="#000" />
<circle cx="211.69" cy="589.67" r="1.2" fill="#000" />
<circle cx="213.58" cy="588.09" r="1.2" fill="#000" />
<line x1="173.50" y1="594.65" x2="197.07" y2="594.65" stroke="#111" stroke-width="0.8" />
<line x1="173.50" y1="592.75" x2="173.50" y2="596.55" stroke="#111" stroke-width="0.8" />
<line x1="197.07" y1="592.75" x2="197.07" y2="596.55" stroke="#111" stroke-width="0.8" />
<circle cx="173.00" cy="594.64" r="1.2" fill="#000" />
<circle cx="175.34" cy="594.29" r="1.2" fill="#000" />
<circle cx="178.33" cy="594.37" r="1.2" fill="#000" />
<circle cx="192.17" cy="595.26" r="1.2" fill="#000" />
<circle cx="196.57" cy="595.10" r="1.2" fill="#000" />
<circle cx="200.24" cy="593.97" r="1.2" fill="#000" />
<rect x="152.40" y="599.40" width="74.40" height="5.70" fill="#d9d9d9" stroke="#2a2a2a" stroke-width="0.8" />
<rect x="152.40" y="605.10" width="38.00" height="5.70" fill="#5f97d3" stroke="#2a2a2a" stroke-width="0.8" />
<text x="148.30" y="608.90" text-anchor="end" font-size="10.8" fill="#111" >L127S/K289E/G290R</text>
<line x1="220.65" y1="602.25" x2="236.77" y2="602.25" stroke="#111" stroke-width="0.8" />
<line x1="220.65" y1="600.35" x2="220.65" y2="604.15" stroke="#111" stroke-width="0.8" />
<line x1="236.77" y1="600.35" x2="236.77" y2="604.15" stroke="#111" stroke-width="0.8" />
<circle cx="221.07" cy="602.63" r="1.2" fill="#000" />
<circle cx="222.34" cy="601.87" r="1.2" fill="#000" />
<circle cx="224.07" cy="602.06" r="1.2" fill="#000" />
<circle cx="234.05" cy="602.41" r="1.2" fill="#000" />
<circle cx="236.63" cy="602.12" r="1.2" fill="#000" />
<circle cx="238.48" cy="601.44" r="1.2" fill="#000" />
<line x1="179.70" y1="607.95" x2="199.55" y2="607.95" stroke="#111" stroke-width="0.8" />
<line x1="179.70" y1="606.05" x2="179.70" y2="609.85" stroke="#111" stroke-width="0.8" />
<line x1="199.55" y1="606.05" x2="199.55" y2="609.85" stroke="#111" stroke-width="0.8" />
<circle cx="179.30" cy="608.55" r="1.2" fill="#000" />
<circle cx="181.08" cy="608.73" r="1.2" fill="#000" />
<circle cx="183.82" cy="607.53" r="1.2" fill="#000" />
<circle cx="195.59" cy="607.39" r="1.2" fill="#000" />
<circle cx="199.43" cy="608.77" r="1.2" fill="#000" />
<circle cx="202.32" cy="608.51" r="1.2" fill="#000" />
<rect x="152.40" y="619.60" width="118.60" height="5.70" fill="#d9d9d9" stroke="#2a2a2a" stroke-width="0.8" />
<rect x="152.40" y="625.30" width="37.20" height="5.70" fill="#5f97d3" stroke="#2a2a2a" stroke-width="0.8" />
<text x="148.30" y="629.10" text-anchor="end" font-size="10.8" fill="#111" >ND/CCD</text>
<line x1="254.14" y1="622.45" x2="285.16" y2="622.45" stroke="#111" stroke-width="0.8" />
<line x1="254.14" y1="620.55" x2="254.14" y2="624.35" stroke="#111" stroke-width="0.8" />
<line x1="285.16" y1="620.55" x2="285.16" y2="624.35" stroke="#111" stroke-width="0.8" />
<circle cx="254.27" cy="623.19" r="1.2" fill="#000" />
<circle cx="257.07" cy="622.54" r="1.2" fill="#000" />
<circle cx="261.19" cy="621.64" r="1.2" fill="#000" />
<circle cx="279.19" cy="622.36" r="1.2" fill="#000" />
<circle cx="285.41" cy="622.71" r="1.2" fill="#000" />
<circle cx="288.67" cy="621.64" r="1.2" fill="#000" />
<line x1="169.78" y1="628.15" x2="200.79" y2="628.15" stroke="#111" stroke-width="0.8" />
<line x1="169.78" y1="626.25" x2="169.78" y2="630.05" stroke="#111" stroke-width="0.8" />
<line x1="200.79" y1="626.25" x2="200.79" y2="630.05" stroke="#111" stroke-width="0.8" />
<circle cx="170.20" cy="627.48" r="1.2" fill="#000" />
<circle cx="172.23" cy="627.87" r="1.2" fill="#000" />
<circle cx="176.40" cy="628.58" r="1.2" fill="#000" />
<circle cx="195.07" cy="627.72" r="1.2" fill="#000" />
<circle cx="200.95" cy="627.79" r="1.2" fill="#000" />
<circle cx="204.57" cy="627.96" r="1.2" fill="#000" />
<rect x="152.40" y="632.90" width="52.60" height="5.70" fill="#d9d9d9" stroke="#2a2a2a" stroke-width="0.8" />
<rect x="152.40" y="638.60" width="37.20" height="5.70" fill="#5f97d3" stroke="#2a2a2a" stroke-width="0.8" />
<text x="148.30" y="642.40" text-anchor="end" font-size="10.8" fill="#111" >S127L</text>
<line x1="194.59" y1="635.75" x2="213.20" y2="635.75" stroke="#111" stroke-width="0.8" />
<line x1="194.59" y1="633.85" x2="194.59" y2="637.65" stroke="#111" stroke-width="0.8" />
<line x1="213.20" y1="633.85" x2="213.20" y2="637.65" stroke="#111" stroke-width="0.8" />
<circle cx="194.26" cy="635.14" r="1.2" fill="#000" />
<circle cx="195.79" cy="636.48" r="1.2" fill="#000" />
<circle cx="198.68" cy="635.25" r="1.2" fill="#000" />
<circle cx="209.89" cy="636.64" r="1.2" fill="#000" />
<circle cx="213.15" cy="635.10" r="1.2" fill="#000" />
<circle cx="215.13" cy="635.01" r="1.2" fill="#000" />
<line x1="168.54" y1="641.45" x2="198.31" y2="641.45" stroke="#111" stroke-width="0.8" />
<line x1="168.54" y1="639.55" x2="168.54" y2="643.35" stroke="#111" stroke-width="0.8" />
<line x1="198.31" y1="639.55" x2="198.31" y2="643.35" stroke="#111" stroke-width="0.8" />
<circle cx="168.38" cy="640.71" r="1.2" fill="#000" />
<circle cx="170.66" cy="641.02" r="1.2" fill="#000" />
<circle cx="175.16" cy="642.15" r="1.2" fill="#000" />
<circle cx="192.61" cy="641.29" r="1.2" fill="#000" />
<circle cx="198.23" cy="641.49" r="1.2" fill="#000" />
<circle cx="201.76" cy="641.16" r="1.2" fill="#000" />
<rect x="152.40" y="646.20" width="50.10" height="5.70" fill="#d9d9d9" stroke="#2a2a2a" stroke-width="0.8" />
<rect x="152.40" y="651.90" width="38.50" height="5.70" fill="#5f97d3" stroke="#2a2a2a" stroke-width="0.8" />
<text x="148.30" y="655.70" text-anchor="end" font-size="10.8" fill="#111" >E289K</text>
<line x1="189.63" y1="649.05" x2="211.96" y2="649.05" stroke="#111" stroke-width="0.8" />
<line x1="189.63" y1="647.15" x2="189.63" y2="650.95" stroke="#111" stroke-width="0.8" />
<line x1="211.96" y1="647.15" x2="211.96" y2="650.95" stroke="#111" stroke-width="0.8" />
<circle cx="189.19" cy="648.65" r="1.2" fill="#000" />
<circle cx="191.88" cy="648.38" r="1.2" fill="#000" />
<circle cx="194.54" cy="649.28" r="1.2" fill="#000" />
<circle cx="207.86" cy="648.54" r="1.2" fill="#000" />
<circle cx="211.73" cy="648.60" r="1.2" fill="#000" />
<circle cx="214.54" cy="648.95" r="1.2" fill="#000" />
<line x1="172.26" y1="654.75" x2="198.31" y2="654.75" stroke="#111" stroke-width="0.8" />
<line x1="172.26" y1="652.85" x2="172.26" y2="656.65" stroke="#111" stroke-width="0.8" />
<line x1="198.31" y1="652.85" x2="198.31" y2="656.65" stroke="#111" stroke-width="0.8" />
<circle cx="172.71" cy="655.38" r="1.2" fill="#000" />
<circle cx="174.72" cy="653.89" r="1.2" fill="#000" />
<circle cx="177.52" cy="655.13" r="1.2" fill="#000" />
<circle cx="193.50" cy="654.70" r="1.2" fill="#000" />
<circle cx="198.40" cy="653.85" r="1.2" fill="#000" />
<circle cx="201.33" cy="655.52" r="1.2" fill="#000" />
<rect x="152.40" y="659.50" width="52.60" height="5.70" fill="#d9d9d9" stroke="#2a2a2a" stroke-width="0.8" />
<rect x="152.40" y="665.20" width="42.20" height="5.70" fill="#5f97d3" stroke="#2a2a2a" stroke-width="0.8" />
<text x="148.30" y="669.00" text-anchor="end" font-size="10.8" fill="#111" >R290G</text>
<line x1="195.83" y1="662.35" x2="213.20" y2="662.35" stroke="#111" stroke-width="0.8" />
<line x1="195.83" y1="660.45" x2="195.83" y2="664.25" stroke="#111" stroke-width="0.8" />
<line x1="213.20" y1="660.45" x2="213.20" y2="664.25" stroke="#111" stroke-width="0.8" />
<circle cx="196.16" cy="662.99" r="1.2" fill="#000" />
<circle cx="197.69" cy="661.90" r="1.2" fill="#000" />
<circle cx="199.26" cy="661.73" r="1.2" fill="#000" />
<circle cx="209.75" cy="662.68" r="1.2" fill="#000" />
<circle cx="213.64" cy="662.75" r="1.2" fill="#000" />
<circle cx="215.43" cy="662.83" r="1.2" fill="#000" />
<line x1="183.42" y1="668.05" x2="202.03" y2="668.05" stroke="#111" stroke-width="0.8" />
<line x1="183.42" y1="666.15" x2="183.42" y2="669.95" stroke="#111" stroke-width="0.8" />
<line x1="202.03" y1="666.15" x2="202.03" y2="669.95" stroke="#111" stroke-width="0.8" />
<circle cx="183.38" cy="668.14" r="1.2" fill="#000" />
<circle cx="184.45" cy="668.56" r="1.2" fill="#000" />
<circle cx="187.25" cy="668.81" r="1.2" fill="#000" />
<circle cx="198.46" cy="667.70" r="1.2" fill="#000" />
<circle cx="201.66" cy="667.60" r="1.2" fill="#000" />
<circle cx="204.40" cy="668.41" r="1.2" fill="#000" />
<rect x="152.40" y="672.80" width="126.10" height="5.70" fill="#d9d9d9" stroke="#2a2a2a" stroke-width="0.8" />
<rect x="152.40" y="678.50" width="51.40" height="5.70" fill="#5f97d3" stroke="#2a2a2a" stroke-width="0.8" />
<text x="148.30" y="682.30" text-anchor="end" font-size="10.8" fill="#111" >S127L/E289K</text>
<line x1="271.51" y1="675.65" x2="282.68" y2="675.65" stroke="#111" stroke-width="0.8" />
<line x1="271.51" y1="673.75" x2="271.51" y2="677.55" stroke="#111" stroke-width="0.8" />
<line x1="282.68" y1="673.75" x2="282.68" y2="677.55" stroke="#111" stroke-width="0.8" />
<circle cx="271.13" cy="674.88" r="1.2" fill="#000" />
<circle cx="272.43" cy="675.80" r="1.2" fill="#000" />
<circle cx="273.86" cy="675.15" r="1.2" fill="#000" />
<circle cx="280.55" cy="674.77" r="1.2" fill="#000" />
<circle cx="282.48" cy="675.58" r="1.2" fill="#000" />
<circle cx="284.48" cy="675.91" r="1.2" fill="#000" />
<line x1="194.59" y1="681.35" x2="210.72" y2="681.35" stroke="#111" stroke-width="0.8" />
<line x1="194.59" y1="679.45" x2="194.59" y2="683.25" stroke="#111" stroke-width="0.8" />
<line x1="210.72" y1="679.45" x2="210.72" y2="683.25" stroke="#111" stroke-width="0.8" />
<circle cx="194.97" cy="681.31" r="1.2" fill="#000" />
<circle cx="195.62" cy="680.89" r="1.2" fill="#000" />
<circle cx="198.60" cy="681.72" r="1.2" fill="#000" />
<circle cx="207.30" cy="680.49" r="1.2" fill="#000" />
<circle cx="210.72" cy="681.66" r="1.2" fill="#000" />
<circle cx="212.58" cy="680.91" r="1.2" fill="#000" />
<rect x="152.40" y="686.10" width="135.20" height="5.70" fill="#d9d9d9" stroke="#2a2a2a" stroke-width="0.8" />
<rect x="152.40" y="691.80" width="88.10" height="5.70" fill="#5f97d3" stroke="#2a2a2a" stroke-width="0.8" />
<text x="148.30" y="695.60" text-anchor="end" font-size="10.8" fill="#111" >S127L/R290G</text>
<line x1="283.92" y1="688.95" x2="291.36" y2="688.95" stroke="#111" stroke-width="0.8" />
<line x1="283.92" y1="687.05" x2="283.92" y2="690.85" stroke="#111" stroke-width="0.8" />
<line x1="291.36" y1="687.05" x2="291.36" y2="690.85" stroke="#111" stroke-width="0.8" />
<circle cx="284.09" cy="689.72" r="1.2" fill="#000" />
<circle cx="284.24" cy="688.11" r="1.2" fill="#000" />
<circle cx="285.40" cy="688.81" r="1.2" fill="#000" />
<circle cx="290.06" cy="688.41" r="1.2" fill="#000" />
<circle cx="291.66" cy="689.38" r="1.2" fill="#000" />
<circle cx="292.26" cy="688.42" r="1.2" fill="#000" />
<line x1="233.05" y1="694.65" x2="247.94" y2="694.65" stroke="#111" stroke-width="0.8" />
<line x1="233.05" y1="692.75" x2="233.05" y2="696.55" stroke="#111" stroke-width="0.8" />
<line x1="247.94" y1="692.75" x2="247.94" y2="696.55" stroke="#111" stroke-width="0.8" />
<circle cx="233.52" cy="694.31" r="1.2" fill="#000" />
<circle cx="234.56" cy="694.17" r="1.2" fill="#000" />
<circle cx="236.05" cy="695.12" r="1.2" fill="#000" />
<circle cx="244.76" cy="695.46" r="1.2" fill="#000" />
<circle cx="247.94" cy="694.09" r="1.2" fill="#000" />
<circle cx="249.45" cy="694.50" r="1.2" fill="#000" />
<rect x="152.40" y="699.40" width="55.10" height="5.70" fill="#d9d9d9" stroke="#2a2a2a" stroke-width="0.8" />
<rect x="152.40" y="705.10" width="38.50" height="5.70" fill="#5f97d3" stroke="#2a2a2a" stroke-width="0.8" />
<text x="148.30" y="708.90" text-anchor="end" font-size="10.8" fill="#111" >E289K/R290G</text>
<line x1="195.83" y1="702.25" x2="215.68" y2="702.25" stroke="#111" stroke-width="0.8" />
<line x1="195.83" y1="700.35" x2="195.83" y2="704.15" stroke="#111" stroke-width="0.8" />
<line x1="215.68" y1="700.35" x2="215.68" y2="704.15" stroke="#111" stroke-width="0.8" />
<circle cx="196.00" cy="703.06" r="1.2" fill="#000" />
<circle cx="197.07" cy="702.06" r="1.2" fill="#000" />
<circle cx="199.91" cy="703.10" r="1.2" fill="#000" />
<circle cx="211.35" cy="701.44" r="1.2" fill="#000" />
<circle cx="215.24" cy="702.06" r="1.2" fill="#000" />
<circle cx="218.46" cy="702.94" r="1.2" fill="#000" />
<line x1="175.98" y1="707.95" x2="200.79" y2="707.95" stroke="#111" stroke-width="0.8" />
<line x1="175.98" y1="706.05" x2="175.98" y2="709.85" stroke="#111" stroke-width="0.8" />
<line x1="200.79" y1="706.05" x2="200.79" y2="709.85" stroke="#111" stroke-width="0.8" />
<circle cx="176.21" cy="708.85" r="1.2" fill="#000" />
<circle cx="178.40" cy="707.64" r="1.2" fill="#000" />
<circle cx="181.12" cy="708.73" r="1.2" fill="#000" />
<circle cx="196.08" cy="707.11" r="1.2" fill="#000" />
<circle cx="200.96" cy="707.73" r="1.2" fill="#000" />
<circle cx="203.65" cy="707.65" r="1.2" fill="#000" />
<rect x="152.40" y="712.70" width="131.50" height="5.70" fill="#d9d9d9" stroke="#2a2a2a" stroke-width="0.8" />
<rect x="152.40" y="718.40" width="85.10" height="5.70" fill="#5f97d3" stroke="#2a2a2a" stroke-width="0.8" />
<text x="148.30" y="722.20" text-anchor="end" font-size="10.8" fill="#111" >S127L/E289K/R290G</text>
<line x1="277.72" y1="715.55" x2="288.88" y2="715.55" stroke="#111" stroke-width="0.8" />
<line x1="277.72" y1="713.65" x2="277.72" y2="717.45" stroke="#111" stroke-width="0.8" />
<line x1="288.88" y1="713.65" x2="288.88" y2="717.45" stroke="#111" stroke-width="0.8" />
<circle cx="277.39" cy="714.66" r="1.2" fill="#000" />
<circle cx="278.39" cy="715.28" r="1.2" fill="#000" />
<circle cx="280.63" cy="714.87" r="1.2" fill="#000" />
<circle cx="287.11" cy="715.02" r="1.2" fill="#000" />
<circle cx="288.74" cy="716.13" r="1.2" fill="#000" />
<circle cx="290.55" cy="715.43" r="1.2" fill="#000" />
<line x1="225.61" y1="721.25" x2="244.22" y2="721.25" stroke="#111" stroke-width="0.8" />
<line x1="225.61" y1="719.35" x2="225.61" y2="723.15" stroke="#111" stroke-width="0.8" />
<line x1="244.22" y1="719.35" x2="244.22" y2="723.15" stroke="#111" stroke-width="0.8" />
<circle cx="225.16" cy="721.20" r="1.2" fill="#000" />
<circle cx="226.97" cy="722.01" r="1.2" fill="#000" />
<circle cx="229.40" cy="721.01" r="1.2" fill="#000" />
<circle cx="240.89" cy="720.40" r="1.2" fill="#000" />
<circle cx="244.13" cy="721.81" r="1.2" fill="#000" />
<circle cx="246.72" cy="720.42" r="1.2" fill="#000" />
<rect x="152.40" y="726.00" width="45.20" height="5.70" fill="#d9d9d9" stroke="#2a2a2a" stroke-width="0.8" />
<rect x="152.40" y="731.70" width="42.20" height="5.70" fill="#5f97d3" stroke="#2a2a2a" stroke-width="0.8" />
<text x="148.30" y="735.50" text-anchor="end" font-size="10.8" fill="#111" >No STAT2</text>
<line x1="189.63" y1="728.85" x2="204.52" y2="728.85" stroke="#111" stroke-width="0.8" />
<line x1="189.63" y1="726.95" x2="189.63" y2="730.75" stroke="#111" stroke-width="0.8" />
<line x1="204.52" y1="726.95" x2="204.52" y2="730.75" stroke="#111" stroke-width="0.8" />
<circle cx="189.16" cy="728.06" r="1.2" fill="#000" />
<circle cx="191.24" cy="728.41" r="1.2" fill="#000" />
<circle cx="193.15" cy="729.57" r="1.2" fill="#000" />
<circle cx="201.38" cy="728.44" r="1.2" fill="#000" />
<circle cx="204.97" cy="729.06" r="1.2" fill="#000" />
<circle cx="206.06" cy="729.24" r="1.2" fill="#000" />
<line x1="183.42" y1="734.55" x2="203.28" y2="734.55" stroke="#111" stroke-width="0.8" />
<line x1="183.42" y1="732.65" x2="183.42" y2="736.45" stroke="#111" stroke-width="0.8" />
<line x1="203.28" y1="732.65" x2="203.28" y2="736.45" stroke="#111" stroke-width="0.8" />
<circle cx="183.24" cy="734.15" r="1.2" fill="#000" />
<circle cx="184.52" cy="735.01" r="1.2" fill="#000" />
<circle cx="188.21" cy="734.79" r="1.2" fill="#000" />
<circle cx="199.75" cy="733.69" r="1.2" fill="#000" />
<circle cx="203.01" cy="734.51" r="1.2" fill="#000" />
<circle cx="206.11" cy="735.37" r="1.2" fill="#000" />
<line x1="152.40" y1="377.30" x2="152.40" y2="738.50" stroke="#222" stroke-width="1" />
<line x1="151.90" y1="738.00" x2="299.00" y2="738.00" stroke="#222" stroke-width="1" />
<line x1="152.40" y1="738.00" x2="152.40" y2="741.50" stroke="#222" stroke-width="1" />
<text x="152.40" y="751.20" text-anchor="middle" font-size="10.8" fill="#111" >1</text>
<line x1="218.40" y1="738.00" x2="218.40" y2="741.50" stroke="#222" stroke-width="1" />
<text x="218.40" y="751.20" text-anchor="middle" font-size="10.8" fill="#111" >10</text>
<line x1="284.40" y1="738.00" x2="284.40" y2="741.50" stroke="#222" stroke-width="1" />
<text x="284.40" y="751.20" text-anchor="middle" font-size="10.8" fill="#111" >100</text>
<text x="223.30" y="763.80" text-anchor="middle" font-size="10.9" fill="#111" >Relative IFN Signaling</text>
<text transform="translate(35.3,422.6) rotate(-90)" text-anchor="middle" font-size="10.8" fill="#111" font-style="italic">P. coquereli</text>
<line x1="38.70" y1="397.60" x2="38.70" y2="447.80" stroke="#333" stroke-width="0.9" />
<text transform="translate(35.3,531) rotate(-90)" text-anchor="middle" font-size="10.8" fill="#111" font-style="italic">L. catta</text>
<line x1="38.70" y1="465.50" x2="38.70" y2="607.50" stroke="#333" stroke-width="0.9" />
<text transform="translate(35.3,673) rotate(-90)" text-anchor="middle" font-size="10.8" fill="#111" font-style="italic">E. flavifrons</text>
<line x1="38.70" y1="621.00" x2="38.70" y2="722.00" stroke="#333" stroke-width="0.9" />
<text x="52.50" y="426.30" text-anchor="start" font-size="10.8" fill="#111" >(i)</text>
<text x="52.50" y="489.00" text-anchor="start" font-size="10.8" fill="#111" >(ii)</text>
<text x="52.50" y="566.30" text-anchor="start" font-size="10.8" fill="#111" >(iii)</text>
<text x="52.50" y="667.50" text-anchor="start" font-size="10.8" fill="#111" >(iv)</text>
<rect x="33.60" y="739.40" width="10.00" height="9.30" fill="#d9d9d9" stroke="#2a2a2a" stroke-width="0.9" />
<rect x="33.60" y="750.60" width="10.00" height="9.30" fill="#5f97d3" stroke="#2a2a2a" stroke-width="0.9" />
<text x="45.00" y="748.20" text-anchor="start" font-size="10.8" fill="#111" >No Antagonist</text>
<text x="45.00" y="759.50" text-anchor="start" font-size="10.8" fill="#111" >DENV2 NS5</text>
<text x="321.90" y="390.30" text-anchor="start" font-size="16.3" fill="#111" >e</text>
<line x1="379.70" y1="391.50" x2="379.70" y2="512.20" stroke="#222" stroke-width="1" />
<line x1="379.20" y1="511.70" x2="673.60" y2="511.70" stroke="#222" stroke-width="1" />
<line x1="376.20" y1="511.70" x2="379.70" y2="511.70" stroke="#222" stroke-width="1" />
<text x="374.70" y="515.60" text-anchor="end" font-size="10.8" fill="#111" >0</text>
<line x1="376.20" y1="489.70" x2="379.70" y2="489.70" stroke="#222" stroke-width="1" />
<text x="374.70" y="493.60" text-anchor="end" font-size="10.8" fill="#111" >25</text>
<line x1="376.20" y1="467.70" x2="379.70" y2="467.70" stroke="#222" stroke-width="1" />
<text x="374.70" y="471.60" text-anchor="end" font-size="10.8" fill="#111" >50</text>
<line x1="376.20" y1="445.70" x2="379.70" y2="445.70" stroke="#222" stroke-width="1" />
<text x="374.70" y="449.60" text-anchor="end" font-size="10.8" fill="#111" >75</text>
<line x1="376.20" y1="423.70" x2="379.70" y2="423.70" stroke="#222" stroke-width="1" />
<text x="374.70" y="427.60" text-anchor="end" font-size="10.8" fill="#111" >100</text>
<line x1="376.20" y1="401.70" x2="379.70" y2="401.70" stroke="#222" stroke-width="1" />
<text x="374.70" y="405.60" text-anchor="end" font-size="10.8" fill="#111" >125</text>
<text transform="translate(353.7,451.4) rotate(-90)" text-anchor="middle" font-size="10.8" fill="#111">Relative STAT2 Abundance</text>
<rect x="386.40" y="423.70" width="11.05" height="88.00" fill="#d9d9d9" stroke="#2a2a2a" stroke-width="0.8" />
<circle cx="388.72" cy="423.70" r="2.15" fill="#000" />
<circle cx="391.92" cy="423.70" r="2.15" fill="#000" />
<circle cx="395.12" cy="423.70" r="2.15" fill="#000" />
<rect x="397.45" y="507.74" width="11.05" height="3.96" fill="#5f97d3" stroke="#2a2a2a" stroke-width="0.8" />
<line x1="402.97" y1="505.72" x2="402.97" y2="508.62" stroke="#111" stroke-width="0.9" />
<line x1="400.77" y1="505.72" x2="405.17" y2="505.72" stroke="#111" stroke-width="0.9" />
<line x1="400.77" y1="508.62" x2="405.17" y2="508.62" stroke="#111" stroke-width="0.9" />
<circle cx="399.57" cy="505.72" r="2.1" fill="#000" />
<circle cx="402.37" cy="508.62" r="2.1" fill="#000" />
<circle cx="405.57" cy="507.65" r="2.1" fill="#000" />
<rect x="408.50" y="510.64" width="11.05" height="1.06" fill="#f9a3a3" stroke="#2a2a2a" stroke-width="0.8" />
<circle cx="411.42" cy="509.06" r="2.1" fill="#000" />
<circle cx="414.42" cy="510.29" r="2.1" fill="#000" />
<circle cx="417.42" cy="510.82" r="2.1" fill="#000" />
<rect x="465.80" y="423.70" width="11.05" height="88.00" fill="#d9d9d9" stroke="#2a2a2a" stroke-width="0.8" />
<circle cx="468.12" cy="423.70" r="2.15" fill="#000" />
<circle cx="471.32" cy="423.70" r="2.15" fill="#000" />
<circle cx="474.52" cy="423.70" r="2.15" fill="#000" />
<rect x="476.85" y="503.52" width="11.05" height="8.18" fill="#5f97d3" stroke="#2a2a2a" stroke-width="0.8" />
<line x1="482.38" y1="498.32" x2="482.38" y2="507.30" stroke="#111" stroke-width="0.9" />
<line x1="480.18" y1="498.32" x2="484.57" y2="498.32" stroke="#111" stroke-width="0.9" />
<line x1="480.18" y1="507.30" x2="484.57" y2="507.30" stroke="#111" stroke-width="0.9" />
<circle cx="482.57" cy="498.32" r="2.1" fill="#000" />
<circle cx="479.77" cy="503.96" r="2.1" fill="#000" />
<circle cx="485.57" cy="507.30" r="2.1" fill="#000" />
<rect x="487.90" y="495.86" width="11.05" height="15.84" fill="#f9a3a3" stroke="#2a2a2a" stroke-width="0.8" />
<line x1="493.43" y1="490.14" x2="493.43" y2="500.88" stroke="#111" stroke-width="0.9" />
<line x1="491.23" y1="490.14" x2="495.62" y2="490.14" stroke="#111" stroke-width="0.9" />
<line x1="491.23" y1="500.88" x2="495.62" y2="500.88" stroke="#111" stroke-width="0.9" />
<circle cx="493.93" cy="490.14" r="2.1" fill="#000" />
<circle cx="490.82" cy="495.86" r="2.1" fill="#000" />
<circle cx="496.82" cy="500.88" r="2.1" fill="#000" />
<rect x="508.60" y="423.70" width="11.05" height="88.00" fill="#d9d9d9" stroke="#2a2a2a" stroke-width="0.8" />
<circle cx="510.93" cy="423.70" r="2.15" fill="#000" />
<circle cx="514.12" cy="423.70" r="2.15" fill="#000" />
<circle cx="517.33" cy="423.70" r="2.15" fill="#000" />
<rect x="519.65" y="504.13" width="11.05" height="7.57" fill="#5f97d3" stroke="#2a2a2a" stroke-width="0.8" />
<line x1="525.17" y1="500.88" x2="525.17" y2="506.42" stroke="#111" stroke-width="0.9" />
<line x1="522.97" y1="500.88" x2="527.38" y2="500.88" stroke="#111" stroke-width="0.9" />
<line x1="522.97" y1="506.42" x2="527.38" y2="506.42" stroke="#111" stroke-width="0.9" />
<circle cx="522.27" cy="500.88" r="2.1" fill="#000" />
<circle cx="525.27" cy="503.96" r="2.1" fill="#000" />
<circle cx="528.38" cy="506.42" r="2.1" fill="#000" />
<rect x="530.70" y="494.10" width="11.05" height="17.60" fill="#f9a3a3" stroke="#2a2a2a" stroke-width="0.8" />
<line x1="536.23" y1="490.14" x2="536.23" y2="498.85" stroke="#111" stroke-width="0.9" />
<line x1="534.02" y1="490.14" x2="538.43" y2="490.14" stroke="#111" stroke-width="0.9" />
<line x1="534.02" y1="498.85" x2="538.43" y2="498.85" stroke="#111" stroke-width="0.9" />
<circle cx="536.83" cy="490.14" r="2.1" fill="#000" />
<circle cx="534.02" cy="493.22" r="2.1" fill="#000" />
<circle cx="539.43" cy="498.85" r="2.1" fill="#000" />
<rect x="552.10" y="423.70" width="11.05" height="88.00" fill="#d9d9d9" stroke="#2a2a2a" stroke-width="0.8" />
<circle cx="554.42" cy="423.70" r="2.15" fill="#000" />
<circle cx="557.62" cy="423.70" r="2.15" fill="#000" />
<circle cx="560.83" cy="423.70" r="2.15" fill="#000" />
<rect x="563.15" y="476.50" width="11.05" height="35.20" fill="#5f97d3" stroke="#2a2a2a" stroke-width="0.8" />
<line x1="568.67" y1="468.14" x2="568.67" y2="485.65" stroke="#111" stroke-width="0.9" />
<line x1="566.47" y1="468.14" x2="570.88" y2="468.14" stroke="#111" stroke-width="0.9" />
<line x1="566.47" y1="485.65" x2="570.88" y2="485.65" stroke="#111" stroke-width="0.9" />
<circle cx="566.27" cy="470.34" r="2.1" fill="#000" />
<circle cx="571.27" cy="472.80" r="2.1" fill="#000" />
<circle cx="568.88" cy="485.65" r="2.1" fill="#000" />
<rect x="574.20" y="500.52" width="11.05" height="11.18" fill="#f9a3a3" stroke="#2a2a2a" stroke-width="0.8" />
<circle cx="576.73" cy="500.00" r="2.1" fill="#000" />
<circle cx="579.73" cy="500.35" r="2.1" fill="#000" />
<circle cx="582.73" cy="500.79" r="2.1" fill="#000" />
<rect x="595.50" y="423.70" width="11.05" height="88.00" fill="#d9d9d9" stroke="#2a2a2a" stroke-width="0.8" />
<circle cx="597.82" cy="423.70" r="2.15" fill="#000" />
<circle cx="601.02" cy="423.70" r="2.15" fill="#000" />
<circle cx="604.23" cy="423.70" r="2.15" fill="#000" />
<rect x="606.55" y="425.46" width="11.05" height="86.24" fill="#5f97d3" stroke="#2a2a2a" stroke-width="0.8" />
<line x1="612.07" y1="410.06" x2="612.07" y2="443.06" stroke="#111" stroke-width="0.9" />
<line x1="609.87" y1="410.06" x2="614.27" y2="410.06" stroke="#111" stroke-width="0.9" />
<line x1="609.87" y1="443.06" x2="614.27" y2="443.06" stroke="#111" stroke-width="0.9" />
<circle cx="608.87" cy="415.34" r="2.1" fill="#000" />
<circle cx="614.67" cy="416.66" r="2.1" fill="#000" />
<circle cx="612.47" cy="443.06" r="2.1" fill="#000" />
<rect x="617.60" y="486.18" width="11.05" height="25.52" fill="#f9a3a3" stroke="#2a2a2a" stroke-width="0.8" />
<line x1="623.12" y1="479.14" x2="623.12" y2="491.11" stroke="#111" stroke-width="0.9" />
<line x1="620.92" y1="479.14" x2="625.33" y2="479.14" stroke="#111" stroke-width="0.9" />
<line x1="620.92" y1="491.11" x2="625.33" y2="491.11" stroke="#111" stroke-width="0.9" />
<circle cx="623.33" cy="479.14" r="2.1" fill="#000" />
<circle cx="620.12" cy="486.71" r="2.1" fill="#000" />
<circle cx="626.33" cy="491.11" r="2.1" fill="#000" />
<rect x="638.50" y="423.70" width="11.05" height="88.00" fill="#d9d9d9" stroke="#2a2a2a" stroke-width="0.8" />
<circle cx="640.82" cy="423.70" r="2.15" fill="#000" />
<circle cx="644.02" cy="423.70" r="2.15" fill="#000" />
<circle cx="647.23" cy="423.70" r="2.15" fill="#000" />
<rect x="649.55" y="403.02" width="11.05" height="108.68" fill="#5f97d3" stroke="#2a2a2a" stroke-width="0.8" />
<line x1="655.07" y1="392.90" x2="655.07" y2="408.74" stroke="#111" stroke-width="0.9" />
<line x1="652.87" y1="392.90" x2="657.27" y2="392.90" stroke="#111" stroke-width="0.9" />
<line x1="652.87" y1="408.74" x2="657.27" y2="408.74" stroke="#111" stroke-width="0.9" />
<circle cx="655.07" cy="392.90" r="2.1" fill="#000" />
<circle cx="652.27" cy="407.86" r="2.1" fill="#000" />
<circle cx="657.67" cy="408.74" r="2.1" fill="#000" />
<rect x="660.60" y="497.09" width="11.05" height="14.61" fill="#f9a3a3" stroke="#2a2a2a" stroke-width="0.8" />
<line x1="666.12" y1="487.94" x2="666.12" y2="502.90" stroke="#111" stroke-width="0.9" />
<line x1="663.92" y1="487.94" x2="668.33" y2="487.94" stroke="#111" stroke-width="0.9" />
<line x1="663.92" y1="502.90" x2="668.33" y2="502.90" stroke="#111" stroke-width="0.9" />
<circle cx="666.52" cy="487.94" r="2.1" fill="#000" />
<circle cx="663.33" cy="498.32" r="2.1" fill="#000" />
<circle cx="669.12" cy="502.90" r="2.1" fill="#000" />
<text transform="translate(407.3,514.3) rotate(-90)" text-anchor="end" font-size="10.8" fill="#111">Huh-7.5</text>
<text transform="translate(440.6,514.3) rotate(-90)" text-anchor="end" font-size="10.8" fill="#111">STAT2 KO</text>
<text transform="translate(452.6,514.3) rotate(-90)" text-anchor="end" font-size="10.8" fill="#111">Huh-7.5</text>
<text transform="translate(486.2,514.3) rotate(-90)" text-anchor="end" font-size="10.8" fill="#111" font-style="italic">E. flavifrons</text>
<text transform="translate(529.2,514.3) rotate(-90)" text-anchor="end" font-size="10.8" fill="#111" font-style="italic">E. rufus</text>
<text transform="translate(573.1,514.3) rotate(-90)" text-anchor="end" font-size="10.8" fill="#111" font-style="italic">P. coquereli</text>
<text transform="translate(616.5,514.3) rotate(-90)" text-anchor="end" font-size="10.8" fill="#111" font-style="italic">M. murinus</text>
<text transform="translate(660,514.3) rotate(-90)" text-anchor="end" font-size="10.8" fill="#111" font-style="italic">V. variegata</text>
<text x="441.60" y="510.20" text-anchor="middle" font-size="10.8" fill="#111" >N/A</text>
<rect x="387.60" y="396.90" width="9.60" height="9.20" fill="#d9d9d9" stroke="#2a2a2a" stroke-width="0.9" />
<text x="398.80" y="405.50" text-anchor="start" font-size="10.8" fill="#111" >Uninfected</text>
<rect x="456.50" y="396.90" width="9.60" height="9.20" fill="#5f97d3" stroke="#2a2a2a" stroke-width="0.9" />
<text x="467.60" y="405.50" text-anchor="start" font-size="10.8" fill="#111" >DENV2 16681</text>
<rect x="540.80" y="396.90" width="9.60" height="9.20" fill="#f9a3a3" stroke="#2a2a2a" stroke-width="0.9" />
<text x="552.20" y="405.50" text-anchor="start" font-size="10.8" fill="#111" >ZIKV MR766</text>
<text x="324.00" y="587.20" text-anchor="start" font-size="16.3" fill="#111" >f</text>
<line x1="387.40" y1="581.80" x2="387.40" y2="738.80" stroke="#222" stroke-width="1" />
<line x1="386.90" y1="738.30" x2="543.80" y2="738.30" stroke="#222" stroke-width="1" />
<line x1="381.20" y1="738.30" x2="387.40" y2="738.30" stroke="#222" stroke-width="1" />
<text x="376.10" y="741.90" text-anchor="end" font-size="9.8" fill="#111" >0</text>
<line x1="381.20" y1="686.30" x2="387.40" y2="686.30" stroke="#222" stroke-width="1" />
<text x="376.10" y="689.90" text-anchor="end" font-size="9.8" fill="#111" >50</text>
<line x1="381.20" y1="634.30" x2="387.40" y2="634.30" stroke="#222" stroke-width="1" />
<text x="376.10" y="637.90" text-anchor="end" font-size="9.8" fill="#111" >100</text>
<line x1="381.20" y1="582.30" x2="387.40" y2="582.30" stroke="#222" stroke-width="1" />
<text x="376.10" y="585.90" text-anchor="end" font-size="9.8" fill="#111" >150</text>
<line x1="387.40" y1="738.30" x2="387.40" y2="744.50" stroke="#222" stroke-width="1" />
<text x="387.40" y="756.40" text-anchor="middle" font-size="9.8" fill="#111" >0.1</text>
<line x1="426.40" y1="738.30" x2="426.40" y2="744.50" stroke="#222" stroke-width="1" />
<text x="426.40" y="756.40" text-anchor="middle" font-size="9.8" fill="#111" >1</text>
<line x1="465.40" y1="738.30" x2="465.40" y2="744.50" stroke="#222" stroke-width="1" />
<text x="465.40" y="756.40" text-anchor="middle" font-size="9.8" fill="#111" >10</text>
<line x1="504.40" y1="738.30" x2="504.40" y2="744.50" stroke="#222" stroke-width="1" />
<text x="504.40" y="756.40" text-anchor="middle" font-size="9.8" fill="#111" >100</text>
<line x1="543.40" y1="738.30" x2="543.40" y2="744.50" stroke="#222" stroke-width="1" />
<text x="543.40" y="756.40" text-anchor="middle" font-size="9.8" fill="#111" >1000</text>
<text x="464.50" y="766.20" text-anchor="middle" font-size="10.6" fill="#111" >ng DENV2 NS5 Plasmid</text>
<text transform="translate(354.4,665.3) rotate(-90)" text-anchor="middle" font-size="10.8" fill="#111">Relative IFN Signaling</text>
<line x1="387.40" y1="634.30" x2="543.50" y2="634.30" stroke="#d6336c" stroke-width="1" />
<line x1="387.40" y1="634.90" x2="543.50" y2="634.90" stroke="#6a6ad8" stroke-width="0.5" />
<polyline points="387.40,634.39 388.38,634.39 389.35,634.40 390.32,634.40 391.30,634.41 392.27,634.42 393.25,634.42 394.22,634.43 395.20,634.44 396.17,634.45 397.15,634.46 398.12,634.46 399.10,634.47 400.07,634.48 401.05,634.50 402.02,634.51 403.00,634.52 403.97,634.53 404.95,634.55 405.92,634.56 406.90,634.58 407.88,634.59 408.85,634.61 409.82,634.63 410.80,634.65 411.77,634.67 412.75,634.69 413.72,634.71 414.70,634.74 415.67,634.76 416.65,634.79 417.62,634.82 418.60,634.85 419.57,634.88 420.55,634.92 421.52,634.95 422.50,634.99 423.47,635.03 424.45,635.07 425.42,635.12 426.40,635.17 427.38,635.22 428.35,635.27 429.32,635.33 430.30,635.39 431.27,635.45 432.25,635.52 433.22,635.59 434.20,635.67 435.17,635.75 436.15,635.83 437.12,635.92 438.10,636.02 439.07,636.11 440.05,636.22 441.02,636.33 442.00,636.45 442.97,636.57 443.95,636.71 444.92,636.85 445.90,636.99 446.88,637.15 447.85,637.31 448.82,637.48 449.80,637.67 450.77,637.86 451.75,638.06 452.72,638.28 453.70,638.50 454.67,638.74 455.65,638.99 456.62,639.26 457.60,639.54 458.57,639.83 459.55,640.14 460.52,640.47 461.50,640.81 462.47,641.17 463.45,641.55 464.42,641.94 465.40,642.36 466.38,642.80 467.35,643.26 468.32,643.74 469.30,644.25 470.27,644.78 471.25,645.34 472.22,645.92 473.20,646.52 474.17,647.16 475.15,647.82 476.12,648.51 477.10,649.23 478.07,649.99 479.05,650.77 480.02,651.58 481.00,652.43 481.97,653.30 482.95,654.21 483.92,655.16 484.90,656.13 485.88,657.14 486.85,658.19 487.82,659.26 488.80,660.37 489.77,661.51 490.75,662.68 491.72,663.89 492.70,665.12 493.67,666.38 494.65,667.67 495.62,668.99 496.60,670.34 497.57,671.70 498.55,673.09 499.52,674.50 500.50,675.93 501.47,677.38 502.45,678.84 503.42,680.31 504.40,681.79 505.38,683.28 506.35,684.77 507.32,686.27 508.30,687.76 509.27,689.26 510.25,690.75 511.22,692.23 512.20,693.70 513.17,695.16 514.15,696.61 515.12,698.04 516.10,699.45 517.08,700.84 518.05,702.20 519.02,703.55 520.00,704.87 520.97,706.16 521.95,707.42 522.92,708.66 523.90,709.86 524.88,711.04 525.85,712.18 526.83,713.29 527.80,714.37 528.77,715.41 529.75,716.42 530.72,717.40 531.70,718.34 532.67,719.26 533.65,720.14 534.62,720.98 535.60,721.80 536.58,722.58 537.55,723.33 538.52,724.06 539.50,724.75 540.47,725.41 541.45,726.05 542.42,726.66 543.40,727.24" fill="none" stroke="#f08aa8" stroke-width="1"/>
<polyline points="387.40,634.96 388.38,635.00 389.35,635.04 390.32,635.09 391.30,635.13 392.27,635.18 393.25,635.23 394.22,635.29 395.20,635.35 396.17,635.41 397.15,635.47 398.12,635.54 399.10,635.61 400.07,635.69 401.05,635.77 402.02,635.86 403.00,635.95 403.97,636.04 404.95,636.15 405.92,636.25 406.90,636.37 407.88,636.49 408.85,636.61 409.82,636.75 410.80,636.89 411.77,637.04 412.75,637.19 413.72,637.36 414.70,637.54 415.67,637.72 416.65,637.92 417.62,638.13 418.60,638.34 419.57,638.57 420.55,638.81 421.52,639.07 422.50,639.34 423.47,639.62 424.45,639.92 425.42,640.23 426.40,640.57 427.38,640.91 428.35,641.28 429.32,641.66 430.30,642.07 431.27,642.49 432.25,642.94 433.22,643.40 434.20,643.89 435.17,644.40 436.15,644.94 437.12,645.50 438.10,646.09 439.07,646.71 440.05,647.35 441.02,648.02 442.00,648.72 442.97,649.45 443.95,650.21 444.92,651.01 445.90,651.83 446.88,652.68 447.85,653.57 448.82,654.49 449.80,655.44 450.77,656.43 451.75,657.45 452.72,658.50 453.70,659.59 454.67,660.71 455.65,661.86 456.62,663.04 457.60,664.25 458.57,665.49 459.55,666.76 460.52,668.06 461.50,669.39 462.47,670.74 463.45,672.11 464.42,673.51 465.40,674.92 466.38,676.36 467.35,677.81 468.32,679.27 469.30,680.75 470.27,682.23 471.25,683.72 472.22,685.22 473.20,686.71 474.17,688.21 475.15,689.70 476.12,691.19 477.10,692.67 478.07,694.13 479.05,695.59 480.02,697.03 481.00,698.46 481.97,699.86 482.95,701.25 483.92,702.61 484.90,703.94 485.88,705.25 486.85,706.54 487.82,707.79 488.80,709.02 489.77,710.22 490.75,711.38 491.72,712.51 492.70,713.61 493.67,714.68 494.65,715.71 495.62,716.72 496.60,717.68 497.57,718.62 498.55,719.52 499.52,720.39 500.50,721.23 501.47,722.03 502.45,722.81 503.42,723.55 504.40,724.27 505.38,724.95 506.35,725.61 507.32,726.23 508.30,726.83 509.27,727.41 510.25,727.96 511.22,728.48 512.20,728.98 513.17,729.46 514.15,729.91 515.12,730.35 516.10,730.76 517.08,731.15 518.05,731.53 519.02,731.88 520.00,732.22 520.97,732.54 521.95,732.85 522.92,733.14 523.90,733.41 524.88,733.67 525.85,733.92 526.83,734.16 527.80,734.38 528.77,734.59 529.75,734.79 530.72,734.98 531.70,735.16 532.67,735.33 533.65,735.49 534.62,735.65 535.60,735.79 536.58,735.93 537.55,736.06 538.52,736.18 539.50,736.30 540.47,736.41 541.45,736.51 542.42,736.61 543.40,736.70" fill="none" stroke="#222" stroke-width="1"/>
<polyline points="387.40,635.83 388.38,635.92 389.35,636.01 390.32,636.11 391.30,636.22 392.27,636.33 393.25,636.44 394.22,636.57 395.20,636.70 396.17,636.84 397.15,636.99 398.12,637.14 399.10,637.30 400.07,637.48 401.05,637.66 402.02,637.85 403.00,638.05 403.97,638.27 404.95,638.49 405.92,638.73 406.90,638.98 407.88,639.24 408.85,639.52 409.82,639.82 410.80,640.12 411.77,640.45 412.75,640.79 413.72,641.15 414.70,641.53 415.67,641.93 416.65,642.34 417.62,642.78 418.60,643.24 419.57,643.72 420.55,644.23 421.52,644.75 422.50,645.31 423.47,645.89 424.45,646.49 425.42,647.13 426.40,647.79 427.38,648.48 428.35,649.20 429.32,649.95 430.30,650.73 431.27,651.54 432.25,652.39 433.22,653.26 434.20,654.17 435.17,655.11 436.15,656.09 437.12,657.10 438.10,658.14 439.07,659.21 440.05,660.32 441.02,661.46 442.00,662.63 442.97,663.83 443.95,665.06 444.92,666.32 445.90,667.61 446.88,668.93 447.85,670.27 448.82,671.64 449.80,673.03 450.77,674.44 451.75,675.86 452.72,677.31 453.70,678.77 454.67,680.24 455.65,681.72 456.62,683.21 457.60,684.70 458.57,686.20 459.55,687.69 460.52,689.19 461.50,690.68 462.47,692.16 463.45,693.63 464.42,695.09 465.40,696.54 466.38,697.97 467.35,699.38 468.32,700.77 469.30,702.14 470.27,703.49 471.25,704.81 472.22,706.10 473.20,707.37 474.17,708.60 475.15,709.81 476.12,710.98 477.10,712.13 478.07,713.24 479.05,714.32 480.02,715.36 481.00,716.38 481.97,717.35 482.95,718.30 483.92,719.21 484.90,720.10 485.88,720.94 486.85,721.76 487.82,722.55 488.80,723.30 489.77,724.02 490.75,724.72 491.72,725.38 492.70,726.02 493.67,726.63 494.65,727.21 495.62,727.77 496.60,728.30 497.57,728.81 498.55,729.30 499.52,729.76 500.50,730.20 501.47,730.62 502.45,731.02 503.42,731.40 504.40,731.76 505.38,732.10 506.35,732.43 507.32,732.74 508.30,733.04 509.27,733.32 510.25,733.58 511.22,733.84 512.20,734.08 513.17,734.30 514.15,734.52 515.12,734.72 516.10,734.92 517.08,735.10 518.05,735.27 519.02,735.44 520.00,735.59 520.97,735.74 521.95,735.88 522.92,736.01 523.90,736.14 524.88,736.26 525.85,736.37 526.83,736.48 527.80,736.58 528.77,736.67 529.75,736.76 530.72,736.85 531.70,736.93 532.67,737.00 533.65,737.07 534.62,737.14 535.60,737.21 536.58,737.27 537.55,737.32 538.52,737.38 539.50,737.43 540.47,737.48 541.45,737.52 542.42,737.57 543.40,737.61" fill="none" stroke="#e0102b" stroke-width="1"/>
<line x1="405.43" y1="603.10" x2="405.43" y2="630.14" stroke="#222" stroke-width="0.9" />
<line x1="402.43" y1="603.10" x2="408.43" y2="603.10" stroke="#222" stroke-width="0.9" />
<line x1="402.43" y1="630.14" x2="408.43" y2="630.14" stroke="#222" stroke-width="0.9" />
<line x1="428.91" y1="608.30" x2="428.91" y2="643.66" stroke="#222" stroke-width="0.9" />
<line x1="425.91" y1="608.30" x2="431.91" y2="608.30" stroke="#222" stroke-width="0.9" />
<line x1="425.91" y1="643.66" x2="431.91" y2="643.66" stroke="#222" stroke-width="0.9" />
<line x1="452.39" y1="618.70" x2="452.39" y2="656.14" stroke="#222" stroke-width="0.9" />
<line x1="449.39" y1="618.70" x2="455.39" y2="618.70" stroke="#222" stroke-width="0.9" />
<line x1="449.39" y1="656.14" x2="455.39" y2="656.14" stroke="#222" stroke-width="0.9" />
<line x1="475.87" y1="619.74" x2="475.87" y2="659.26" stroke="#222" stroke-width="0.9" />
<line x1="472.87" y1="619.74" x2="478.87" y2="619.74" stroke="#222" stroke-width="0.9" />
<line x1="472.87" y1="659.26" x2="478.87" y2="659.26" stroke="#222" stroke-width="0.9" />
<line x1="499.35" y1="669.66" x2="499.35" y2="690.46" stroke="#222" stroke-width="0.9" />
<line x1="496.35" y1="669.66" x2="502.35" y2="669.66" stroke="#222" stroke-width="0.9" />
<line x1="496.35" y1="690.46" x2="502.35" y2="690.46" stroke="#222" stroke-width="0.9" />
<line x1="522.84" y1="696.70" x2="522.84" y2="715.42" stroke="#222" stroke-width="0.9" />
<line x1="519.84" y1="696.70" x2="525.84" y2="696.70" stroke="#222" stroke-width="0.9" />
<line x1="519.84" y1="715.42" x2="525.84" y2="715.42" stroke="#222" stroke-width="0.9" />
<line x1="405.43" y1="637.42" x2="405.43" y2="647.82" stroke="#222" stroke-width="0.9" />
<line x1="402.43" y1="637.42" x2="408.43" y2="637.42" stroke="#222" stroke-width="0.9" />
<line x1="402.43" y1="647.82" x2="408.43" y2="647.82" stroke="#222" stroke-width="0.9" />
<line x1="428.91" y1="637.42" x2="428.91" y2="649.90" stroke="#222" stroke-width="0.9" />
<line x1="425.91" y1="637.42" x2="431.91" y2="637.42" stroke="#222" stroke-width="0.9" />
<line x1="425.91" y1="649.90" x2="431.91" y2="649.90" stroke="#222" stroke-width="0.9" />
<line x1="452.39" y1="618.70" x2="452.39" y2="643.66" stroke="#222" stroke-width="0.9" />
<line x1="449.39" y1="618.70" x2="455.39" y2="618.70" stroke="#222" stroke-width="0.9" />
<line x1="449.39" y1="643.66" x2="455.39" y2="643.66" stroke="#222" stroke-width="0.9" />
<line x1="475.87" y1="633.26" x2="475.87" y2="649.90" stroke="#222" stroke-width="0.9" />
<line x1="472.87" y1="633.26" x2="478.87" y2="633.26" stroke="#222" stroke-width="0.9" />
<line x1="472.87" y1="649.90" x2="478.87" y2="649.90" stroke="#222" stroke-width="0.9" />
<line x1="499.35" y1="619.74" x2="499.35" y2="646.78" stroke="#222" stroke-width="0.9" />
<line x1="496.35" y1="619.74" x2="502.35" y2="619.74" stroke="#222" stroke-width="0.9" />
<line x1="496.35" y1="646.78" x2="502.35" y2="646.78" stroke="#222" stroke-width="0.9" />
<line x1="522.84" y1="620.78" x2="522.84" y2="641.58" stroke="#222" stroke-width="0.9" />
<line x1="519.84" y1="620.78" x2="525.84" y2="620.78" stroke="#222" stroke-width="0.9" />
<line x1="519.84" y1="641.58" x2="525.84" y2="641.58" stroke="#222" stroke-width="0.9" />
<line x1="405.43" y1="623.90" x2="405.43" y2="648.86" stroke="#222" stroke-width="0.9" />
<line x1="402.43" y1="623.90" x2="408.43" y2="623.90" stroke="#222" stroke-width="0.9" />
<line x1="402.43" y1="648.86" x2="408.43" y2="648.86" stroke="#222" stroke-width="0.9" />
<line x1="428.91" y1="635.34" x2="428.91" y2="645.74" stroke="#222" stroke-width="0.9" />
<line x1="425.91" y1="635.34" x2="431.91" y2="635.34" stroke="#222" stroke-width="0.9" />
<line x1="425.91" y1="645.74" x2="431.91" y2="645.74" stroke="#222" stroke-width="0.9" />
<line x1="452.39" y1="627.02" x2="452.39" y2="643.66" stroke="#222" stroke-width="0.9" />
<line x1="449.39" y1="627.02" x2="455.39" y2="627.02" stroke="#222" stroke-width="0.9" />
<line x1="449.39" y1="643.66" x2="455.39" y2="643.66" stroke="#222" stroke-width="0.9" />
<line x1="475.87" y1="617.66" x2="475.87" y2="632.22" stroke="#222" stroke-width="0.9" />
<line x1="472.87" y1="617.66" x2="478.87" y2="617.66" stroke="#222" stroke-width="0.9" />
<line x1="472.87" y1="632.22" x2="478.87" y2="632.22" stroke="#222" stroke-width="0.9" />
<line x1="499.35" y1="622.86" x2="499.35" y2="635.34" stroke="#222" stroke-width="0.9" />
<line x1="496.35" y1="622.86" x2="502.35" y2="622.86" stroke="#222" stroke-width="0.9" />
<line x1="496.35" y1="635.34" x2="502.35" y2="635.34" stroke="#222" stroke-width="0.9" />
<line x1="522.84" y1="621.82" x2="522.84" y2="642.62" stroke="#222" stroke-width="0.9" />
<line x1="519.84" y1="621.82" x2="525.84" y2="621.82" stroke="#222" stroke-width="0.9" />
<line x1="519.84" y1="642.62" x2="525.84" y2="642.62" stroke="#222" stroke-width="0.9" />
<line x1="405.43" y1="630.14" x2="405.43" y2="648.86" stroke="#222" stroke-width="0.9" />
<line x1="402.43" y1="630.14" x2="408.43" y2="630.14" stroke="#222" stroke-width="0.9" />
<line x1="402.43" y1="648.86" x2="408.43" y2="648.86" stroke="#222" stroke-width="0.9" />
<line x1="428.91" y1="634.30" x2="428.91" y2="648.86" stroke="#222" stroke-width="0.9" />
<line x1="425.91" y1="634.30" x2="431.91" y2="634.30" stroke="#222" stroke-width="0.9" />
<line x1="425.91" y1="648.86" x2="431.91" y2="648.86" stroke="#222" stroke-width="0.9" />
<line x1="452.39" y1="642.62" x2="452.39" y2="653.02" stroke="#222" stroke-width="0.9" />
<line x1="449.39" y1="642.62" x2="455.39" y2="642.62" stroke="#222" stroke-width="0.9" />
<line x1="449.39" y1="653.02" x2="455.39" y2="653.02" stroke="#222" stroke-width="0.9" />
<line x1="475.87" y1="690.46" x2="475.87" y2="713.34" stroke="#222" stroke-width="0.9" />
<line x1="472.87" y1="690.46" x2="478.87" y2="690.46" stroke="#222" stroke-width="0.9" />
<line x1="472.87" y1="713.34" x2="478.87" y2="713.34" stroke="#222" stroke-width="0.9" />
<line x1="499.35" y1="715.42" x2="499.35" y2="721.66" stroke="#222" stroke-width="0.9" />
<line x1="496.35" y1="715.42" x2="502.35" y2="715.42" stroke="#222" stroke-width="0.9" />
<line x1="496.35" y1="721.66" x2="502.35" y2="721.66" stroke="#222" stroke-width="0.9" />
<line x1="522.84" y1="718.54" x2="522.84" y2="724.78" stroke="#222" stroke-width="0.9" />
<line x1="519.84" y1="718.54" x2="525.84" y2="718.54" stroke="#222" stroke-width="0.9" />
<line x1="519.84" y1="724.78" x2="525.84" y2="724.78" stroke="#222" stroke-width="0.9" />
<line x1="405.43" y1="642.62" x2="405.43" y2="675.90" stroke="#222" stroke-width="0.9" />
<line x1="402.43" y1="642.62" x2="408.43" y2="642.62" stroke="#222" stroke-width="0.9" />
<line x1="402.43" y1="675.90" x2="408.43" y2="675.90" stroke="#222" stroke-width="0.9" />
<line x1="428.91" y1="642.62" x2="428.91" y2="671.74" stroke="#222" stroke-width="0.9" />
<line x1="425.91" y1="642.62" x2="431.91" y2="642.62" stroke="#222" stroke-width="0.9" />
<line x1="425.91" y1="671.74" x2="431.91" y2="671.74" stroke="#222" stroke-width="0.9" />
<line x1="452.39" y1="662.38" x2="452.39" y2="674.86" stroke="#222" stroke-width="0.9" />
<line x1="449.39" y1="662.38" x2="455.39" y2="662.38" stroke="#222" stroke-width="0.9" />
<line x1="449.39" y1="674.86" x2="455.39" y2="674.86" stroke="#222" stroke-width="0.9" />
<line x1="475.87" y1="708.14" x2="475.87" y2="720.62" stroke="#222" stroke-width="0.9" />
<line x1="472.87" y1="708.14" x2="478.87" y2="708.14" stroke="#222" stroke-width="0.9" />
<line x1="472.87" y1="720.62" x2="478.87" y2="720.62" stroke="#222" stroke-width="0.9" />
<line x1="499.35" y1="721.66" x2="499.35" y2="727.90" stroke="#222" stroke-width="0.9" />
<line x1="496.35" y1="721.66" x2="502.35" y2="721.66" stroke="#222" stroke-width="0.9" />
<line x1="496.35" y1="727.90" x2="502.35" y2="727.90" stroke="#222" stroke-width="0.9" />
<line x1="522.84" y1="734.66" x2="522.84" y2="737.78" stroke="#222" stroke-width="0.9" />
<line x1="519.84" y1="734.66" x2="525.84" y2="734.66" stroke="#222" stroke-width="0.9" />
<line x1="519.84" y1="737.78" x2="525.84" y2="737.78" stroke="#222" stroke-width="0.9" />
<path d="M401.83 645.50 L409.03 645.50 L405.43 639.02 Z" fill="#1414d8" stroke="none" stroke-width="1" />
<path d="M425.31 646.54 L432.51 646.54 L428.91 640.06 Z" fill="#1414d8" stroke="none" stroke-width="1" />
<path d="M448.79 634.06 L455.99 634.06 L452.39 627.58 Z" fill="#1414d8" stroke="none" stroke-width="1" />
<path d="M472.27 644.46 L479.47 644.46 L475.87 637.98 Z" fill="#1414d8" stroke="none" stroke-width="1" />
<path d="M495.75 636.14 L502.95 636.14 L499.35 629.66 Z" fill="#1414d8" stroke="none" stroke-width="1" />
<path d="M519.24 634.06 L526.44 634.06 L522.84 627.58 Z" fill="#1414d8" stroke="none" stroke-width="1" />
<rect x="402.23" y="633.18" width="6.40" height="6.40" fill="#d6336c" stroke="none" stroke-width="1" />
<rect x="425.71" y="637.34" width="6.40" height="6.40" fill="#d6336c" stroke="none" stroke-width="1" />
<rect x="449.19" y="632.14" width="6.40" height="6.40" fill="#d6336c" stroke="none" stroke-width="1" />
<rect x="472.67" y="621.74" width="6.40" height="6.40" fill="#d6336c" stroke="none" stroke-width="1" />
<rect x="496.15" y="625.90" width="6.40" height="6.40" fill="#d6336c" stroke="none" stroke-width="1" />
<rect x="519.64" y="629.02" width="6.40" height="6.40" fill="#d6336c" stroke="none" stroke-width="1" />
<path d="M401.83 613.74 L409.03 613.74 L405.43 620.22 Z" fill="#e0457e" stroke="none" stroke-width="1" />
<path d="M425.31 623.10 L432.51 623.10 L428.91 629.58 Z" fill="#e0457e" stroke="none" stroke-width="1" />
<path d="M448.79 634.54 L455.99 634.54 L452.39 641.02 Z" fill="#e0457e" stroke="none" stroke-width="1" />
<path d="M472.27 636.62 L479.47 636.62 L475.87 643.10 Z" fill="#e0457e" stroke="none" stroke-width="1" />
<path d="M495.75 677.18 L502.95 677.18 L499.35 683.66 Z" fill="#e0457e" stroke="none" stroke-width="1" />
<path d="M519.24 703.18 L526.44 703.18 L522.84 709.66 Z" fill="#e0457e" stroke="none" stroke-width="1" />
<circle cx="405.43" cy="639.50" r="3.3" fill="#000" />
<circle cx="428.91" cy="641.58" r="3.3" fill="#000" />
<circle cx="452.39" cy="647.82" r="3.3" fill="#000" />
<circle cx="475.87" cy="701.90" r="3.3" fill="#000" />
<circle cx="499.35" cy="718.54" r="3.3" fill="#000" />
<circle cx="522.84" cy="721.66" r="3.3" fill="#000" />
<path d="M402.03 659.26 L405.43 655.86 L408.83 659.26 L405.43 662.66 Z" fill="#e0102b" stroke="none" stroke-width="1" />
<path d="M425.51 657.18 L428.91 653.78 L432.31 657.18 L428.91 660.58 Z" fill="#e0102b" stroke="none" stroke-width="1" />
<path d="M448.99 668.62 L452.39 665.22 L455.79 668.62 L452.39 672.02 Z" fill="#e0102b" stroke="none" stroke-width="1" />
<path d="M472.47 714.38 L475.87 710.98 L479.27 714.38 L475.87 717.78 Z" fill="#e0102b" stroke="none" stroke-width="1" />
<path d="M495.95 724.78 L499.35 721.38 L502.75 724.78 L499.35 728.18 Z" fill="#e0102b" stroke="none" stroke-width="1" />
<path d="M519.44 736.22 L522.84 732.82 L526.24 736.22 L522.84 739.62 Z" fill="#e0102b" stroke="none" stroke-width="1" />
<line x1="557.30" y1="656.20" x2="572.40" y2="656.20" stroke="#1414d8" stroke-width="1" />
<path d="M561.40 658.92 L568.20 658.92 L564.80 652.80 Z" fill="#1414d8" stroke="none" stroke-width="1" />
<text x="576.30" y="660.00" text-anchor="start" font-size="10.8" fill="#111" font-style="italic" >M. musculus</text>
<text x="658.80" y="660.00" text-anchor="middle" font-size="10.8" fill="#111" >&gt;1000</text>
<line x1="557.30" y1="667.80" x2="572.40" y2="667.80" stroke="#d6336c" stroke-width="1" />
<rect x="561.40" y="664.40" width="6.80" height="6.80" fill="#d6336c" stroke="none" stroke-width="1" />
<text x="576.30" y="671.60" text-anchor="start" font-size="10.8" fill="#111" font-style="italic" >M. murinus</text>
<text x="658.80" y="671.60" text-anchor="middle" font-size="10.8" fill="#111" >&gt;1000</text>
<line x1="557.30" y1="679.70" x2="572.40" y2="679.70" stroke="#f08aa8" stroke-width="1" />
<path d="M561.40 676.98 L568.20 676.98 L564.80 683.10 Z" fill="#f07fa3" stroke="none" stroke-width="1" />
<text x="576.30" y="683.50" text-anchor="start" font-size="10.8" fill="#111" font-style="italic" >P. coquereli</text>
<text x="658.80" y="683.50" text-anchor="middle" font-size="10.8" fill="#111" >119</text>
<line x1="557.30" y1="691.30" x2="572.40" y2="691.30" stroke="#111" stroke-width="1" />
<circle cx="564.80" cy="691.30" r="3.2" fill="#000" />
<text x="576.30" y="695.10" text-anchor="start" font-size="10.8" fill="#111" font-style="italic" >H. sapiens</text>
<text x="658.80" y="695.10" text-anchor="middle" font-size="10.8" fill="#111" >15.6</text>
<line x1="557.30" y1="703.00" x2="572.40" y2="703.00" stroke="#e0102b" stroke-width="1" />
<path d="M561.40 703.00 L564.80 699.60 L568.20 703.00 L564.80 706.40 Z" fill="#e0102b" stroke="none" stroke-width="1" />
<text x="576.30" y="706.80" text-anchor="start" font-size="10.8" fill="#111" font-style="italic" >E. flavifrons</text>
<text x="660.40" y="706.80" text-anchor="middle" font-size="10.8" fill="#111" >6.71</text>
<text x="652.60" y="646.30" text-anchor="start" font-size="10.8" fill="#111" >IC</text>
<text x="663.40" y="648.60" text-anchor="start" font-size="5.9" fill="#111" >50</text>
</svg>
</body></html>
